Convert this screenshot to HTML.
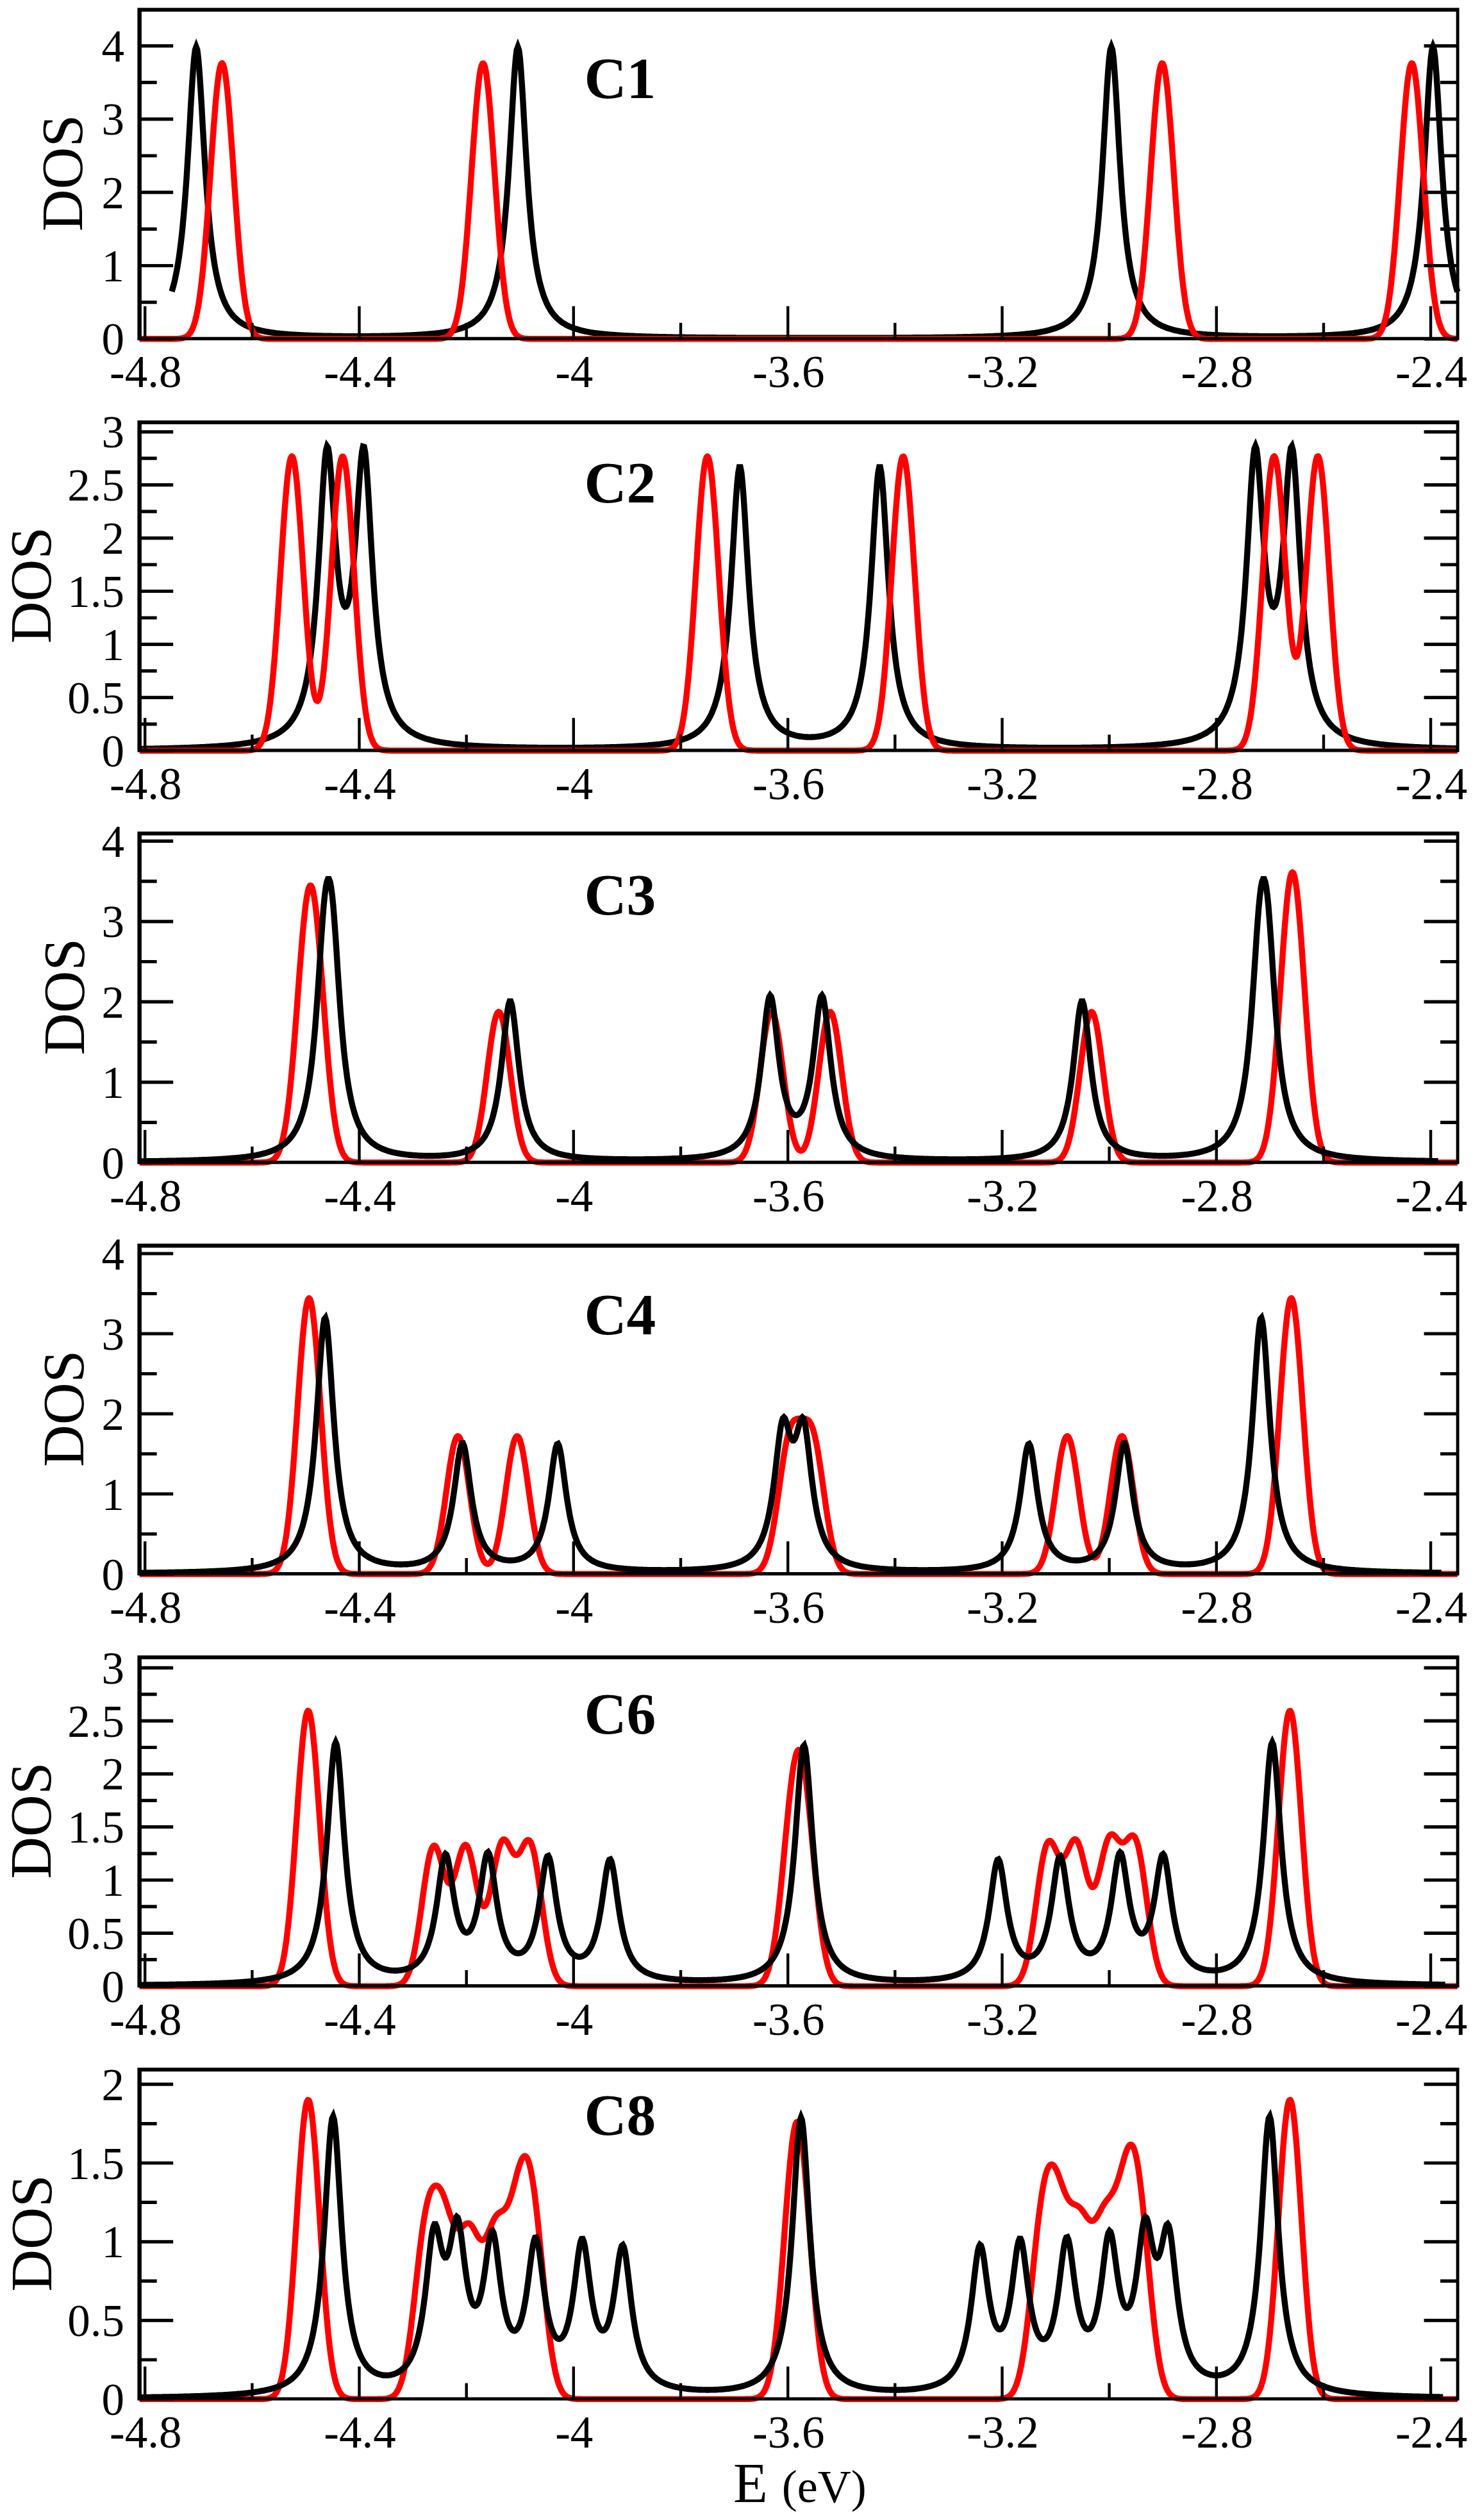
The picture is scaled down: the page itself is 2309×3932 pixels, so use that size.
<!DOCTYPE html><html><head><meta charset="utf-8"><title>DOS</title><style>html,body{margin:0;padding:0;background:#fff}svg{display:block}text{font-family:"Liberation Serif",serif;fill:#000}</style></head><body>
<svg width="2309" height="3932" viewBox="0 0 2309 3932">
<rect width="2309" height="3932" fill="#fff"/>
<g>
<polyline points="268.0,454.9 269.3,450.4 271.0,444.2 272.7,437.3 274.3,429.6 276.0,421.0 277.7,411.3 279.4,400.5 281.0,388.3 282.7,374.6 284.4,359.2 286.0,341.9 287.7,322.5 289.4,300.8 291.1,277.0 292.7,250.9 294.4,223.0 296.1,193.8 297.7,164.4 299.4,136.2 301.1,111.0 302.8,90.9 304.4,77.9 306.1,73.4 307.8,77.9 309.4,90.9 311.1,111.0 312.8,136.2 314.5,164.5 316.1,193.9 317.8,223.1 319.5,251.0 321.2,277.1 322.8,300.9 324.5,322.5 326.2,341.9 327.8,359.2 329.5,374.6 331.2,388.3 332.9,400.5 334.5,411.3 336.2,421.0 337.9,429.6 339.6,437.3 341.2,444.1 342.9,450.3 344.6,455.9 346.2,460.9 347.9,465.4 349.6,469.6 351.3,473.3 352.9,476.7 354.6,479.8 356.3,482.7 358.0,485.3 359.6,487.7 361.3,489.9 363.0,491.9 364.6,493.8 366.3,495.5 368.0,497.1 369.7,498.6 371.3,500.0 373.0,501.3 374.7,502.5 376.4,503.6 378.0,504.7 379.7,505.7 381.4,506.6 383.0,507.5 384.7,508.3 386.4,509.1 388.1,509.8 389.7,510.5 391.4,511.1 393.1,511.8 394.8,512.3 396.4,512.9 398.1,513.4 399.8,513.9 401.4,514.4 403.1,514.8 404.8,515.2 406.5,515.6 408.1,516.0 409.8,516.4 411.5,516.7 413.2,517.1 414.8,517.4 416.5,517.7 418.2,518.0 419.8,518.2 421.5,518.5 423.2,518.7 424.9,519.0 426.5,519.2 428.2,519.4 429.9,519.7 431.6,519.9 433.2,520.1 434.9,520.2 436.6,520.4 438.2,520.6 439.9,520.8 441.6,520.9 443.3,521.1 444.9,521.2 446.6,521.4 448.3,521.5 450.0,521.6 451.6,521.8 453.3,521.9 455.0,522.0 456.6,522.1 458.3,522.2 460.0,522.3 461.7,522.4 463.3,522.5 465.0,522.6 466.7,522.7 468.4,522.8 470.0,522.9 471.7,523.0 473.4,523.0 475.0,523.1 476.7,523.2 478.4,523.3 480.1,523.3 481.7,523.4 483.4,523.5 485.1,523.5 486.8,523.6 488.4,523.6 490.1,523.7 491.8,523.8 493.4,523.8 495.1,523.9 496.8,523.9 498.5,523.9 500.1,524.0 501.8,524.0 503.5,524.1 505.2,524.1 506.8,524.1 508.5,524.2 510.2,524.2 511.8,524.2 513.5,524.3 515.2,524.3 516.9,524.3 518.5,524.4 520.2,524.4 521.9,524.4 523.6,524.4 525.2,524.5 526.9,524.5 528.6,524.5 530.2,524.5 531.9,524.5 533.6,524.5 535.3,524.6 536.9,524.6 538.6,524.6 540.3,524.6 542.0,524.6 543.6,524.6 545.3,524.6 547.0,524.6 548.6,524.6 550.3,524.6 552.0,524.6 553.7,524.6 555.3,524.6 557.0,524.6 558.7,524.6 560.4,524.6 562.0,524.6 563.7,524.6 565.4,524.6 567.0,524.6 568.7,524.6 570.4,524.6 572.1,524.6 573.7,524.6 575.4,524.6 577.1,524.6 578.8,524.5 580.4,524.5 582.1,524.5 583.8,524.5 585.4,524.5 587.1,524.5 588.8,524.4 590.5,524.4 592.1,524.4 593.8,524.4 595.5,524.3 597.2,524.3 598.8,524.3 600.5,524.3 602.2,524.2 603.8,524.2 605.5,524.2 607.2,524.1 608.9,524.1 610.5,524.0 612.2,524.0 613.9,524.0 615.6,523.9 617.2,523.9 618.9,523.8 620.6,523.8 622.2,523.7 623.9,523.7 625.6,523.6 627.3,523.6 628.9,523.5 630.6,523.4 632.3,523.4 634.0,523.3 635.6,523.2 637.3,523.2 639.0,523.1 640.6,523.0 642.3,522.9 644.0,522.9 645.7,522.8 647.3,522.7 649.0,522.6 650.7,522.5 652.4,522.4 654.0,522.3 655.7,522.2 657.4,522.1 659.0,522.0 660.7,521.8 662.4,521.7 664.1,521.6 665.7,521.5 667.4,521.3 669.1,521.2 670.8,521.0 672.4,520.9 674.1,520.7 675.8,520.5 677.4,520.4 679.1,520.2 680.8,520.0 682.5,519.8 684.1,519.6 685.8,519.4 687.5,519.2 689.2,518.9 690.8,518.7 692.5,518.4 694.2,518.2 695.8,517.9 697.5,517.6 699.2,517.3 700.9,517.0 702.5,516.7 704.2,516.3 705.9,515.9 707.6,515.6 709.2,515.2 710.9,514.7 712.6,514.3 714.2,513.8 715.9,513.3 717.6,512.8 719.3,512.3 720.9,511.7 722.6,511.1 724.3,510.4 726.0,509.7 727.6,509.0 729.3,508.2 731.0,507.4 732.6,506.5 734.3,505.6 736.0,504.6 737.7,503.6 739.3,502.4 741.0,501.2 742.7,499.9 744.4,498.5 746.0,497.0 747.7,495.4 749.4,493.7 751.0,491.8 752.7,489.8 754.4,487.6 756.1,485.2 757.7,482.6 759.4,479.7 761.1,476.6 762.8,473.2 764.4,469.5 766.1,465.3 767.8,460.8 769.4,455.8 771.1,450.2 772.8,444.0 774.5,437.2 776.1,429.5 777.8,420.9 779.5,411.2 781.2,400.4 782.8,388.2 784.5,374.5 786.2,359.1 787.8,341.8 789.5,322.4 791.2,300.8 792.9,276.9 794.5,250.9 796.2,223.0 797.9,193.8 799.6,164.3 801.2,136.1 802.9,110.9 804.6,90.8 806.2,77.8 807.9,73.3 809.6,77.8 811.3,90.8 812.9,110.8 814.6,136.0 816.3,164.2 817.9,193.7 819.6,222.8 821.3,250.8 823.0,276.8 824.6,300.7 826.3,322.3 828.0,341.7 829.6,359.0 831.3,374.4 833.0,388.2 834.7,400.3 836.3,411.2 838.0,420.8 839.7,429.5 841.3,437.1 843.0,444.0 844.7,450.2 846.4,455.8 848.0,460.8 849.7,465.4 851.4,469.5 853.0,473.3 854.7,476.7 856.4,479.8 858.1,482.7 859.7,485.3 861.4,487.7 863.1,489.9 864.7,491.9 866.4,493.8 868.1,495.6 869.8,497.2 871.4,498.7 873.1,500.1 874.8,501.4 876.4,502.6 878.1,503.8 879.8,504.8 881.5,505.8 883.1,506.8 884.8,507.6 886.5,508.5 888.1,509.3 889.8,510.0 891.5,510.7 893.2,511.3 894.8,512.0 896.5,512.5 898.2,513.1 899.8,513.6 901.5,514.1 903.2,514.6 904.9,515.1 906.5,515.5 908.2,515.9 909.9,516.3 911.5,516.7 913.2,517.0 914.9,517.4 916.6,517.7 918.2,518.0 919.9,518.3 921.6,518.6 923.2,518.8 924.9,519.1 926.6,519.4 928.3,519.6 929.9,519.8 931.6,520.0 933.3,520.3 934.9,520.5 936.6,520.7 938.3,520.8 939.9,521.0 941.6,521.2 943.3,521.4 945.0,521.5 946.6,521.7 948.3,521.9 950.0,522.0 951.6,522.1 953.3,522.3 955.0,522.4 956.7,522.5 958.3,522.7 960.0,522.8 961.7,522.9 963.3,523.0 965.0,523.1 966.7,523.2 968.4,523.3 970.0,523.4 971.7,523.5 973.4,523.6 975.0,523.7 976.7,523.8 978.4,523.9 980.1,524.0 981.7,524.0 983.4,524.1 985.1,524.2 986.7,524.3 988.4,524.3 990.1,524.4 991.8,524.5 993.4,524.6 995.1,524.6 996.8,524.7 998.4,524.7 1000.1,524.8 1001.8,524.9 1003.5,524.9 1005.1,525.0 1006.8,525.0 1008.5,525.1 1010.1,525.1 1011.8,525.2 1013.5,525.2 1015.2,525.3 1016.8,525.3 1018.5,525.4 1020.2,525.4 1021.8,525.5 1023.5,525.5 1025.2,525.5 1026.9,525.6 1028.5,525.6 1030.2,525.7 1031.9,525.7 1033.5,525.7 1035.2,525.8 1036.9,525.8 1038.6,525.8 1040.2,525.9 1041.9,525.9 1043.6,525.9 1045.2,526.0 1046.9,526.0 1048.6,526.0 1050.3,526.1 1051.9,526.1 1053.6,526.1 1055.3,526.1 1056.9,526.2 1058.6,526.2 1060.3,526.2 1062.0,526.2 1063.6,526.3 1065.3,526.3 1067.0,526.3 1068.6,526.3 1070.3,526.4 1072.0,526.4 1073.7,526.4 1075.3,526.4 1077.0,526.4 1078.7,526.5 1080.3,526.5 1082.0,526.5 1083.7,526.5 1085.4,526.5 1087.0,526.6 1088.7,526.6 1090.4,526.6 1092.0,526.6 1093.7,526.6 1095.4,526.7 1097.1,526.7 1098.7,526.7 1100.4,526.7 1102.1,526.7 1103.7,526.7 1105.4,526.7 1107.1,526.8 1108.8,526.8 1110.4,526.8 1112.1,526.8 1113.8,526.8 1115.4,526.8 1117.1,526.8 1118.8,526.9 1120.4,526.9 1122.1,526.9 1123.8,526.9 1125.5,526.9 1127.1,526.9 1128.8,526.9 1130.5,526.9 1132.1,527.0 1133.8,527.0 1135.5,527.0 1137.2,527.0 1138.8,527.0 1140.5,527.0 1142.2,527.0 1143.8,527.0 1145.5,527.0 1147.2,527.0 1148.9,527.1 1150.5,527.1 1152.2,527.1 1153.9,527.1 1155.5,527.1 1157.2,527.1 1158.9,527.1 1160.6,527.1 1162.2,527.1 1163.9,527.1 1165.6,527.1 1167.2,527.1 1168.9,527.1 1170.6,527.2 1172.3,527.2 1173.9,527.2 1175.6,527.2 1177.3,527.2 1178.9,527.2 1180.6,527.2 1182.3,527.2 1184.0,527.2 1185.6,527.2 1187.3,527.2 1189.0,527.2 1190.6,527.2 1192.3,527.2 1194.0,527.2 1195.7,527.2 1197.3,527.2 1199.0,527.2 1200.7,527.3 1202.3,527.3 1204.0,527.3 1205.7,527.3 1207.4,527.3 1209.0,527.3 1210.7,527.3 1212.4,527.3 1214.0,527.3 1215.7,527.3 1217.4,527.3 1219.1,527.3 1220.7,527.3 1222.4,527.3 1224.1,527.3 1225.7,527.3 1227.4,527.3 1229.1,527.3 1230.8,527.3 1232.4,527.3 1234.1,527.3 1235.8,527.3 1237.4,527.3 1239.1,527.3 1240.8,527.3 1242.5,527.3 1244.1,527.3 1245.8,527.3 1247.5,527.3 1249.1,527.3 1250.8,527.3 1252.5,527.3 1254.2,527.3 1255.8,527.3 1257.5,527.3 1259.2,527.3 1260.8,527.3 1262.5,527.3 1264.2,527.3 1265.9,527.3 1267.5,527.3 1269.2,527.3 1270.9,527.3 1272.5,527.3 1274.2,527.3 1275.9,527.3 1277.6,527.3 1279.2,527.3 1280.9,527.3 1282.6,527.3 1284.2,527.3 1285.9,527.3 1287.6,527.3 1289.3,527.3 1290.9,527.3 1292.6,527.3 1294.3,527.3 1295.9,527.3 1297.6,527.3 1299.3,527.3 1300.9,527.3 1302.6,527.3 1304.3,527.3 1306.0,527.3 1307.6,527.3 1309.3,527.3 1311.0,527.3 1312.6,527.3 1314.3,527.3 1316.0,527.3 1317.7,527.3 1319.3,527.3 1321.0,527.3 1322.7,527.3 1324.3,527.3 1326.0,527.3 1327.7,527.3 1329.4,527.3 1331.0,527.3 1332.7,527.3 1334.4,527.3 1336.0,527.3 1337.7,527.3 1339.4,527.3 1341.1,527.3 1342.7,527.2 1344.4,527.2 1346.1,527.2 1347.7,527.2 1349.4,527.2 1351.1,527.2 1352.8,527.2 1354.4,527.2 1356.1,527.2 1357.8,527.2 1359.4,527.2 1361.1,527.2 1362.8,527.2 1364.5,527.2 1366.1,527.2 1367.8,527.2 1369.5,527.2 1371.1,527.2 1372.8,527.1 1374.5,527.1 1376.2,527.1 1377.8,527.1 1379.5,527.1 1381.2,527.1 1382.8,527.1 1384.5,527.1 1386.2,527.1 1387.9,527.1 1389.5,527.1 1391.2,527.1 1392.9,527.1 1394.5,527.0 1396.2,527.0 1397.9,527.0 1399.6,527.0 1401.2,527.0 1402.9,527.0 1404.6,527.0 1406.2,527.0 1407.9,527.0 1409.6,527.0 1411.3,526.9 1412.9,526.9 1414.6,526.9 1416.3,526.9 1417.9,526.9 1419.6,526.9 1421.3,526.9 1423.0,526.9 1424.6,526.8 1426.3,526.8 1428.0,526.8 1429.6,526.8 1431.3,526.8 1433.0,526.8 1434.7,526.8 1436.3,526.7 1438.0,526.7 1439.7,526.7 1441.3,526.7 1443.0,526.7 1444.7,526.7 1446.4,526.7 1448.0,526.6 1449.7,526.6 1451.4,526.6 1453.0,526.6 1454.7,526.6 1456.4,526.5 1458.1,526.5 1459.7,526.5 1461.4,526.5 1463.1,526.5 1464.7,526.4 1466.4,526.4 1468.1,526.4 1469.8,526.4 1471.4,526.4 1473.1,526.3 1474.8,526.3 1476.4,526.3 1478.1,526.3 1479.8,526.2 1481.5,526.2 1483.1,526.2 1484.8,526.2 1486.5,526.1 1488.1,526.1 1489.8,526.1 1491.5,526.1 1493.1,526.0 1494.8,526.0 1496.5,526.0 1498.2,525.9 1499.8,525.9 1501.5,525.9 1503.2,525.8 1504.8,525.8 1506.5,525.8 1508.2,525.7 1509.9,525.7 1511.5,525.7 1513.2,525.6 1514.9,525.6 1516.5,525.5 1518.2,525.5 1519.9,525.5 1521.6,525.4 1523.2,525.4 1524.9,525.3 1526.6,525.3 1528.2,525.2 1529.9,525.2 1531.6,525.1 1533.3,525.1 1534.9,525.0 1536.6,525.0 1538.3,524.9 1539.9,524.9 1541.6,524.8 1543.3,524.7 1545.0,524.7 1546.6,524.6 1548.3,524.6 1550.0,524.5 1551.6,524.4 1553.3,524.3 1555.0,524.3 1556.7,524.2 1558.3,524.1 1560.0,524.0 1561.7,524.0 1563.3,523.9 1565.0,523.8 1566.7,523.7 1568.4,523.6 1570.0,523.5 1571.7,523.4 1573.4,523.3 1575.0,523.2 1576.7,523.1 1578.4,523.0 1580.1,522.9 1581.7,522.8 1583.4,522.7 1585.1,522.5 1586.7,522.4 1588.4,522.3 1590.1,522.1 1591.8,522.0 1593.4,521.9 1595.1,521.7 1596.8,521.5 1598.4,521.4 1600.1,521.2 1601.8,521.0 1603.5,520.8 1605.1,520.7 1606.8,520.5 1608.5,520.3 1610.1,520.0 1611.8,519.8 1613.5,519.6 1615.2,519.4 1616.8,519.1 1618.5,518.8 1620.2,518.6 1621.8,518.3 1623.5,518.0 1625.2,517.7 1626.9,517.4 1628.5,517.0 1630.2,516.7 1631.9,516.3 1633.5,515.9 1635.2,515.5 1636.9,515.1 1638.6,514.6 1640.2,514.1 1641.9,513.6 1643.6,513.1 1645.2,512.5 1646.9,512.0 1648.6,511.3 1650.3,510.7 1651.9,510.0 1653.6,509.3 1655.3,508.5 1656.9,507.6 1658.6,506.8 1660.3,505.8 1662.0,504.8 1663.6,503.8 1665.3,502.6 1667.0,501.4 1668.6,500.1 1670.3,498.7 1672.0,497.2 1673.6,495.6 1675.3,493.8 1677.0,491.9 1678.7,489.9 1680.3,487.7 1682.0,485.3 1683.7,482.7 1685.3,479.8 1687.0,476.7 1688.7,473.3 1690.4,469.5 1692.0,465.4 1693.7,460.8 1695.4,455.8 1697.0,450.2 1698.7,444.0 1700.4,437.1 1702.1,429.5 1703.7,420.8 1705.4,411.2 1707.1,400.3 1708.7,388.2 1710.4,374.4 1712.1,359.0 1713.8,341.7 1715.4,322.3 1717.1,300.7 1718.8,276.8 1720.4,250.8 1722.1,222.8 1723.8,193.7 1725.5,164.2 1727.1,136.0 1728.8,110.8 1730.5,90.8 1732.1,77.8 1733.8,73.3 1735.5,77.8 1737.2,90.8 1738.8,110.9 1740.5,136.1 1742.2,164.3 1743.9,193.8 1745.5,223.0 1747.2,250.9 1748.9,276.9 1750.5,300.8 1752.2,322.4 1753.9,341.8 1755.6,359.1 1757.2,374.5 1758.9,388.2 1760.6,400.4 1762.3,411.2 1763.9,420.9 1765.6,429.5 1767.3,437.2 1768.9,444.0 1770.6,450.2 1772.3,455.8 1774.0,460.8 1775.6,465.3 1777.3,469.5 1779.0,473.2 1780.7,476.6 1782.3,479.7 1784.0,482.6 1785.7,485.2 1787.3,487.6 1789.0,489.8 1790.7,491.8 1792.4,493.7 1794.0,495.4 1795.7,497.0 1797.4,498.5 1799.1,499.9 1800.7,501.2 1802.4,502.4 1804.1,503.6 1805.7,504.6 1807.4,505.6 1809.1,506.5 1810.8,507.4 1812.4,508.2 1814.1,509.0 1815.8,509.7 1817.5,510.4 1819.1,511.1 1820.8,511.7 1822.5,512.3 1824.1,512.8 1825.8,513.3 1827.5,513.8 1829.2,514.3 1830.8,514.7 1832.5,515.2 1834.2,515.6 1835.9,515.9 1837.5,516.3 1839.2,516.7 1840.9,517.0 1842.5,517.3 1844.2,517.6 1845.9,517.9 1847.6,518.2 1849.2,518.4 1850.9,518.7 1852.6,518.9 1854.3,519.2 1855.9,519.4 1857.6,519.6 1859.3,519.8 1860.9,520.0 1862.6,520.2 1864.3,520.4 1866.0,520.5 1867.6,520.7 1869.3,520.9 1871.0,521.0 1872.7,521.2 1874.3,521.3 1876.0,521.5 1877.7,521.6 1879.3,521.7 1881.0,521.8 1882.7,522.0 1884.4,522.1 1886.0,522.2 1887.7,522.3 1889.4,522.4 1891.1,522.5 1892.7,522.6 1894.4,522.7 1896.1,522.8 1897.7,522.9 1899.4,522.9 1901.1,523.0 1902.8,523.1 1904.4,523.2 1906.1,523.2 1907.8,523.3 1909.5,523.4 1911.1,523.4 1912.8,523.5 1914.5,523.6 1916.1,523.6 1917.8,523.7 1919.5,523.7 1921.2,523.8 1922.8,523.8 1924.5,523.9 1926.2,523.9 1927.9,524.0 1929.5,524.0 1931.2,524.0 1932.9,524.1 1934.5,524.1 1936.2,524.2 1937.9,524.2 1939.6,524.2 1941.2,524.3 1942.9,524.3 1944.6,524.3 1946.3,524.3 1947.9,524.4 1949.6,524.4 1951.3,524.4 1952.9,524.4 1954.6,524.5 1956.3,524.5 1958.0,524.5 1959.6,524.5 1961.3,524.5 1963.0,524.5 1964.7,524.6 1966.3,524.6 1968.0,524.6 1969.7,524.6 1971.3,524.6 1973.0,524.6 1974.7,524.6 1976.4,524.6 1978.0,524.6 1979.7,524.6 1981.4,524.6 1983.1,524.6 1984.7,524.6 1986.4,524.6 1988.1,524.6 1989.7,524.6 1991.4,524.6 1993.1,524.6 1994.8,524.6 1996.4,524.6 1998.1,524.6 1999.8,524.6 2001.5,524.6 2003.1,524.6 2004.8,524.6 2006.5,524.6 2008.1,524.5 2009.8,524.5 2011.5,524.5 2013.2,524.5 2014.8,524.5 2016.5,524.5 2018.2,524.4 2019.9,524.4 2021.5,524.4 2023.2,524.4 2024.9,524.3 2026.5,524.3 2028.2,524.3 2029.9,524.2 2031.6,524.2 2033.2,524.2 2034.9,524.1 2036.6,524.1 2038.3,524.1 2039.9,524.0 2041.6,524.0 2043.3,523.9 2044.9,523.9 2046.6,523.9 2048.3,523.8 2050.0,523.8 2051.6,523.7 2053.3,523.6 2055.0,523.6 2056.6,523.5 2058.3,523.5 2060.0,523.4 2061.7,523.3 2063.3,523.3 2065.0,523.2 2066.7,523.1 2068.4,523.0 2070.0,523.0 2071.7,522.9 2073.4,522.8 2075.0,522.7 2076.7,522.6 2078.4,522.5 2080.1,522.4 2081.7,522.3 2083.4,522.2 2085.1,522.1 2086.8,522.0 2088.4,521.9 2090.1,521.8 2091.8,521.6 2093.4,521.5 2095.1,521.4 2096.8,521.2 2098.5,521.1 2100.1,520.9 2101.8,520.8 2103.5,520.6 2105.2,520.4 2106.8,520.2 2108.5,520.1 2110.2,519.9 2111.8,519.7 2113.5,519.4 2115.2,519.2 2116.9,519.0 2118.5,518.7 2120.2,518.5 2121.9,518.2 2123.6,518.0 2125.2,517.7 2126.9,517.4 2128.6,517.1 2130.2,516.7 2131.9,516.4 2133.6,516.0 2135.3,515.6 2136.9,515.2 2138.6,514.8 2140.3,514.4 2142.0,513.9 2143.6,513.4 2145.3,512.9 2147.0,512.3 2148.6,511.8 2150.3,511.1 2152.0,510.5 2153.7,509.8 2155.3,509.1 2157.0,508.3 2158.7,507.5 2160.4,506.6 2162.0,505.7 2163.7,504.7 2165.4,503.6 2167.0,502.5 2168.7,501.3 2170.4,500.0 2172.1,498.6 2173.7,497.1 2175.4,495.5 2177.1,493.8 2178.8,491.9 2180.4,489.9 2182.1,487.7 2183.8,485.3 2185.4,482.7 2187.1,479.8 2188.8,476.7 2190.5,473.3 2192.1,469.6 2193.8,465.4 2195.5,460.9 2197.2,455.9 2198.8,450.3 2200.5,444.1 2202.2,437.3 2203.8,429.6 2205.5,421.0 2207.2,411.3 2208.9,400.5 2210.5,388.3 2212.2,374.6 2213.9,359.2 2215.6,341.9 2217.2,322.5 2218.9,300.9 2220.6,277.1 2222.2,251.0 2223.9,223.1 2225.6,193.9 2227.3,164.5 2228.9,136.2 2230.6,111.0 2232.3,90.9 2234.0,77.9 2235.6,73.4 2237.3,77.9 2239.0,90.9 2240.6,111.0 2242.3,136.2 2244.0,164.4 2245.7,193.8 2247.3,223.0 2249.0,250.9 2250.7,277.0 2252.3,300.8 2254.0,322.5 2255.7,341.9 2257.4,359.2 2259.0,374.6 2260.7,388.3 2262.4,400.5 2264.0,411.3 2265.7,421.0 2267.4,429.6 2269.1,437.3 2270.7,444.2 2272.4,450.4 2273.9,455.4" fill="none" stroke="#000" stroke-width="9.4" stroke-linejoin="miter" stroke-miterlimit="10"/>
<polyline points="217.8,528.8 219.5,528.8 221.2,528.8 222.9,528.8 224.5,528.8 226.2,528.8 227.9,528.8 229.5,528.8 231.2,528.8 232.9,528.8 234.6,528.8 236.2,528.8 237.9,528.8 239.6,528.8 241.2,528.8 242.9,528.8 244.6,528.8 246.3,528.8 247.9,528.8 249.6,528.8 251.3,528.8 252.9,528.8 254.6,528.8 256.3,528.8 258.0,528.8 259.6,528.8 261.3,528.8 263.0,528.8 264.6,528.8 266.3,528.8 268.0,528.8 269.7,528.8 271.3,528.7 273.0,528.7 274.7,528.7 276.3,528.6 278.0,528.5 279.7,528.4 281.4,528.2 283.0,527.9 284.7,527.6 286.4,527.2 288.0,526.6 289.7,525.8 291.4,524.8 293.1,523.5 294.7,521.9 296.4,519.8 298.1,517.2 299.8,514.0 301.4,510.0 303.1,505.2 304.8,499.4 306.4,492.5 308.1,484.3 309.8,474.8 311.5,463.8 313.1,451.2 314.8,437.1 316.5,421.2 318.1,403.7 319.8,384.7 321.5,364.1 323.2,342.3 324.8,319.3 326.5,295.6 328.2,271.4 329.8,247.2 331.5,223.3 333.2,200.3 334.9,178.6 336.5,158.6 338.2,140.9 339.9,125.9 341.5,113.8 343.2,105.1 344.9,100.0 346.6,98.5 348.2,100.7 349.9,106.6 351.6,116.0 353.2,128.6 354.9,144.3 356.6,162.5 358.3,182.8 359.9,204.8 361.6,228.0 363.3,252.0 364.9,276.3 366.6,300.4 368.3,324.0 370.0,346.7 371.6,368.3 373.3,388.6 375.0,407.4 376.6,424.5 378.3,440.0 380.0,453.9 381.7,466.1 383.3,476.8 385.0,486.0 386.7,493.9 388.3,500.6 390.0,506.2 391.7,510.9 393.4,514.7 395.0,517.8 396.7,520.3 398.4,522.2 400.0,523.8 401.7,525.0 403.4,526.0 405.1,526.7 406.7,527.3 408.4,527.7 410.1,528.0 411.7,528.2 413.4,528.4 415.1,528.5 416.8,528.6 418.4,528.7 420.1,528.7 421.8,528.7 423.4,528.8 425.1,528.8 426.8,528.8 428.5,528.8 430.1,528.8 431.8,528.8 433.5,528.8 435.1,528.8 436.8,528.8 438.5,528.8 440.2,528.8 441.8,528.8 443.5,528.8 445.2,528.8 446.9,528.8 448.5,528.8 450.2,528.8 451.9,528.8 453.5,528.8 455.2,528.8 456.9,528.8 458.6,528.8 460.2,528.8 461.9,528.8 463.6,528.8 465.2,528.8 466.9,528.8 468.6,528.8 470.3,528.8 471.9,528.8 473.6,528.8 475.3,528.8 476.9,528.8 478.6,528.8 480.3,528.8 482.0,528.8 483.6,528.8 485.3,528.8 487.0,528.8 488.6,528.8 490.3,528.8 492.0,528.8 493.7,528.8 495.3,528.8 497.0,528.8 498.7,528.8 500.3,528.8 502.0,528.8 503.7,528.8 505.4,528.8 507.0,528.8 508.7,528.8 510.4,528.8 512.0,528.8 513.7,528.8 515.4,528.8 517.1,528.8 518.7,528.8 520.4,528.8 522.1,528.8 523.7,528.8 525.4,528.8 527.1,528.8 528.8,528.8 530.4,528.8 532.1,528.8 533.8,528.8 535.4,528.8 537.1,528.8 538.8,528.8 540.5,528.8 542.1,528.8 543.8,528.8 545.5,528.8 547.1,528.8 548.8,528.8 550.5,528.8 552.2,528.8 553.8,528.8 555.5,528.8 557.2,528.8 558.8,528.8 560.5,528.8 562.2,528.8 563.9,528.8 565.5,528.8 567.2,528.8 568.9,528.8 570.5,528.8 572.2,528.8 573.9,528.8 575.6,528.8 577.2,528.8 578.9,528.8 580.6,528.8 582.3,528.8 583.9,528.8 585.6,528.8 587.3,528.8 588.9,528.8 590.6,528.8 592.3,528.8 594.0,528.8 595.6,528.8 597.3,528.8 599.0,528.8 600.6,528.8 602.3,528.8 604.0,528.8 605.7,528.8 607.3,528.8 609.0,528.8 610.7,528.8 612.3,528.8 614.0,528.8 615.7,528.8 617.4,528.8 619.0,528.8 620.7,528.8 622.4,528.8 624.0,528.8 625.7,528.8 627.4,528.8 629.1,528.8 630.7,528.8 632.4,528.8 634.1,528.8 635.7,528.8 637.4,528.8 639.1,528.8 640.8,528.8 642.4,528.8 644.1,528.8 645.8,528.8 647.4,528.8 649.1,528.8 650.8,528.8 652.5,528.8 654.1,528.8 655.8,528.8 657.5,528.8 659.1,528.8 660.8,528.8 662.5,528.8 664.2,528.8 665.8,528.8 667.5,528.8 669.2,528.8 670.8,528.8 672.5,528.8 674.2,528.8 675.9,528.8 677.5,528.7 679.2,528.7 680.9,528.7 682.5,528.6 684.2,528.6 685.9,528.4 687.6,528.3 689.2,528.1 690.9,527.8 692.6,527.4 694.2,527.0 695.9,526.3 697.6,525.4 699.3,524.3 700.9,522.9 702.6,521.1 704.3,518.8 705.9,516.0 707.6,512.5 709.3,508.2 711.0,503.0 712.6,496.7 714.3,489.3 716.0,480.7 717.7,470.6 719.3,459.0 721.0,445.8 722.7,430.9 724.3,414.4 726.0,396.3 727.7,376.6 729.4,355.5 731.0,333.2 732.7,309.9 734.4,286.0 736.0,261.7 737.7,237.6 739.4,214.0 741.1,191.4 742.7,170.4 744.4,151.3 746.1,134.6 747.7,120.7 749.4,109.9 751.1,102.6 752.8,98.9 754.4,98.9 756.1,102.6 757.8,109.9 759.4,120.7 761.1,134.6 762.8,151.3 764.5,170.4 766.1,191.4 767.8,214.0 769.5,237.6 771.1,261.7 772.8,286.0 774.5,309.9 776.2,333.2 777.8,355.5 779.5,376.6 781.2,396.3 782.8,414.4 784.5,430.9 786.2,445.8 787.9,459.0 789.5,470.6 791.2,480.7 792.9,489.3 794.5,496.7 796.2,503.0 797.9,508.2 799.6,512.5 801.2,516.0 802.9,518.8 804.6,521.1 806.2,522.9 807.9,524.3 809.6,525.4 811.3,526.3 812.9,527.0 814.6,527.4 816.3,527.8 817.9,528.1 819.6,528.3 821.3,528.4 823.0,528.6 824.6,528.6 826.3,528.7 828.0,528.7 829.6,528.7 831.3,528.8 833.0,528.8 834.7,528.8 836.3,528.8 838.0,528.8 839.7,528.8 841.3,528.8 843.0,528.8 844.7,528.8 846.4,528.8 848.0,528.8 849.7,528.8 851.4,528.8 853.0,528.8 854.7,528.8 856.4,528.8 858.1,528.8 859.7,528.8 861.4,528.8 863.1,528.8 864.8,528.8 866.4,528.8 868.1,528.8 869.8,528.8 871.4,528.8 873.1,528.8 874.8,528.8 876.5,528.8 878.1,528.8 879.8,528.8 881.5,528.8 883.1,528.8 884.8,528.8 886.5,528.8 888.2,528.8 889.8,528.8 891.5,528.8 893.2,528.8 894.8,528.8 896.5,528.8 898.2,528.8 899.9,528.8 901.5,528.8 903.2,528.8 904.9,528.8 906.5,528.8 908.2,528.8 909.9,528.8 911.6,528.8 913.2,528.8 914.9,528.8 916.6,528.8 918.2,528.8 919.9,528.8 921.6,528.8 923.3,528.8 924.9,528.8 926.6,528.8 928.3,528.8 929.9,528.8 931.6,528.8 933.3,528.8 935.0,528.8 936.6,528.8 938.3,528.8 940.0,528.8 941.6,528.8 943.3,528.8 945.0,528.8 946.7,528.8 948.3,528.8 950.0,528.8 951.7,528.8 953.3,528.8 955.0,528.8 956.7,528.8 958.4,528.8 960.0,528.8 961.7,528.8 963.4,528.8 965.0,528.8 966.7,528.8 968.4,528.8 970.1,528.8 971.7,528.8 973.4,528.8 975.1,528.8 976.7,528.8 978.4,528.8 980.1,528.8 981.8,528.8 983.4,528.8 985.1,528.8 986.8,528.8 988.4,528.8 990.1,528.8 991.8,528.8 993.5,528.8 995.1,528.8 996.8,528.8 998.5,528.8 1000.2,528.8 1001.8,528.8 1003.5,528.8 1005.2,528.8 1006.8,528.8 1008.5,528.8 1010.2,528.8 1011.9,528.8 1013.5,528.8 1015.2,528.8 1016.9,528.8 1018.5,528.8 1020.2,528.8 1021.9,528.8 1023.6,528.8 1025.2,528.8 1026.9,528.8 1028.6,528.8 1030.2,528.8 1031.9,528.8 1033.6,528.8 1035.3,528.8 1036.9,528.8 1038.6,528.8 1040.3,528.8 1041.9,528.8 1043.6,528.8 1045.3,528.8 1047.0,528.8 1048.6,528.8 1050.3,528.8 1052.0,528.8 1053.6,528.8 1055.3,528.8 1057.0,528.8 1058.7,528.8 1060.3,528.8 1062.0,528.8 1063.7,528.8 1065.3,528.8 1067.0,528.8 1068.7,528.8 1070.4,528.8 1072.0,528.8 1073.7,528.8 1075.4,528.8 1077.0,528.8 1078.7,528.8 1080.4,528.8 1082.1,528.8 1083.7,528.8 1085.4,528.8 1087.1,528.8 1088.7,528.8 1090.4,528.8 1092.1,528.8 1093.8,528.8 1095.4,528.8 1097.1,528.8 1098.8,528.8 1100.4,528.8 1102.1,528.8 1103.8,528.8 1105.5,528.8 1107.1,528.8 1108.8,528.8 1110.5,528.8 1112.1,528.8 1113.8,528.8 1115.5,528.8 1117.2,528.8 1118.8,528.8 1120.5,528.8 1122.2,528.8 1123.8,528.8 1125.5,528.8 1127.2,528.8 1128.9,528.8 1130.5,528.8 1132.2,528.8 1133.9,528.8 1135.6,528.8 1137.2,528.8 1138.9,528.8 1140.6,528.8 1142.2,528.8 1143.9,528.8 1145.6,528.8 1147.3,528.8 1148.9,528.8 1150.6,528.8 1152.3,528.8 1153.9,528.8 1155.6,528.8 1157.3,528.8 1159.0,528.8 1160.6,528.8 1162.3,528.8 1164.0,528.8 1165.6,528.8 1167.3,528.8 1169.0,528.8 1170.7,528.8 1172.3,528.8 1174.0,528.8 1175.7,528.8 1177.3,528.8 1179.0,528.8 1180.7,528.8 1182.4,528.8 1184.0,528.8 1185.7,528.8 1187.4,528.8 1189.0,528.8 1190.7,528.8 1192.4,528.8 1194.1,528.8 1195.7,528.8 1197.4,528.8 1199.1,528.8 1200.7,528.8 1202.4,528.8 1204.1,528.8 1205.8,528.8 1207.4,528.8 1209.1,528.8 1210.8,528.8 1212.4,528.8 1214.1,528.8 1215.8,528.8 1217.5,528.8 1219.1,528.8 1220.8,528.8 1222.5,528.8 1224.1,528.8 1225.8,528.8 1227.5,528.8 1229.2,528.8 1230.8,528.8 1232.5,528.8 1234.2,528.8 1235.8,528.8 1237.5,528.8 1239.2,528.8 1240.9,528.8 1242.5,528.8 1244.2,528.8 1245.9,528.8 1247.5,528.8 1249.2,528.8 1250.9,528.8 1252.6,528.8 1254.2,528.8 1255.9,528.8 1257.6,528.8 1259.2,528.8 1260.9,528.8 1262.6,528.8 1264.3,528.8 1265.9,528.8 1267.6,528.8 1269.3,528.8 1270.9,528.8 1272.6,528.8 1274.3,528.8 1276.0,528.8 1277.6,528.8 1279.3,528.8 1281.0,528.8 1282.7,528.8 1284.3,528.8 1286.0,528.8 1287.7,528.8 1289.3,528.8 1291.0,528.8 1292.7,528.8 1294.4,528.8 1296.0,528.8 1297.7,528.8 1299.4,528.8 1301.0,528.8 1302.7,528.8 1304.4,528.8 1306.1,528.8 1307.7,528.8 1309.4,528.8 1311.1,528.8 1312.7,528.8 1314.4,528.8 1316.1,528.8 1317.8,528.8 1319.4,528.8 1321.1,528.8 1322.8,528.8 1324.4,528.8 1326.1,528.8 1327.8,528.8 1329.5,528.8 1331.1,528.8 1332.8,528.8 1334.5,528.8 1336.1,528.8 1337.8,528.8 1339.5,528.8 1341.2,528.8 1342.8,528.8 1344.5,528.8 1346.2,528.8 1347.8,528.8 1349.5,528.8 1351.2,528.8 1352.9,528.8 1354.5,528.8 1356.2,528.8 1357.9,528.8 1359.5,528.8 1361.2,528.8 1362.9,528.8 1364.6,528.8 1366.2,528.8 1367.9,528.8 1369.6,528.8 1371.2,528.8 1372.9,528.8 1374.6,528.8 1376.3,528.8 1377.9,528.8 1379.6,528.8 1381.3,528.8 1382.9,528.8 1384.6,528.8 1386.3,528.8 1388.0,528.8 1389.6,528.8 1391.3,528.8 1393.0,528.8 1394.6,528.8 1396.3,528.8 1398.0,528.8 1399.7,528.8 1401.3,528.8 1403.0,528.8 1404.7,528.8 1406.3,528.8 1408.0,528.8 1409.7,528.8 1411.4,528.8 1413.0,528.8 1414.7,528.8 1416.4,528.8 1418.1,528.8 1419.7,528.8 1421.4,528.8 1423.1,528.8 1424.7,528.8 1426.4,528.8 1428.1,528.8 1429.8,528.8 1431.4,528.8 1433.1,528.8 1434.8,528.8 1436.4,528.8 1438.1,528.8 1439.8,528.8 1441.5,528.8 1443.1,528.8 1444.8,528.8 1446.5,528.8 1448.1,528.8 1449.8,528.8 1451.5,528.8 1453.2,528.8 1454.8,528.8 1456.5,528.8 1458.2,528.8 1459.8,528.8 1461.5,528.8 1463.2,528.8 1464.9,528.8 1466.5,528.8 1468.2,528.8 1469.9,528.8 1471.5,528.8 1473.2,528.8 1474.9,528.8 1476.6,528.8 1478.2,528.8 1479.9,528.8 1481.6,528.8 1483.2,528.8 1484.9,528.8 1486.6,528.8 1488.3,528.8 1489.9,528.8 1491.6,528.8 1493.3,528.8 1494.9,528.8 1496.6,528.8 1498.3,528.8 1500.0,528.8 1501.6,528.8 1503.3,528.8 1505.0,528.8 1506.6,528.8 1508.3,528.8 1510.0,528.8 1511.7,528.8 1513.3,528.8 1515.0,528.8 1516.7,528.8 1518.3,528.8 1520.0,528.8 1521.7,528.8 1523.4,528.8 1525.0,528.8 1526.7,528.8 1528.4,528.8 1530.0,528.8 1531.7,528.8 1533.4,528.8 1535.1,528.8 1536.7,528.8 1538.4,528.8 1540.1,528.8 1541.7,528.8 1543.4,528.8 1545.1,528.8 1546.8,528.8 1548.4,528.8 1550.1,528.8 1551.8,528.8 1553.5,528.8 1555.1,528.8 1556.8,528.8 1558.5,528.8 1560.1,528.8 1561.8,528.8 1563.5,528.8 1565.2,528.8 1566.8,528.8 1568.5,528.8 1570.2,528.8 1571.8,528.8 1573.5,528.8 1575.2,528.8 1576.9,528.8 1578.5,528.8 1580.2,528.8 1581.9,528.8 1583.5,528.8 1585.2,528.8 1586.9,528.8 1588.6,528.8 1590.2,528.8 1591.9,528.8 1593.6,528.8 1595.2,528.8 1596.9,528.8 1598.6,528.8 1600.3,528.8 1601.9,528.8 1603.6,528.8 1605.3,528.8 1606.9,528.8 1608.6,528.8 1610.3,528.8 1612.0,528.8 1613.6,528.8 1615.3,528.8 1617.0,528.8 1618.6,528.8 1620.3,528.8 1622.0,528.8 1623.7,528.8 1625.3,528.8 1627.0,528.8 1628.7,528.8 1630.3,528.8 1632.0,528.8 1633.7,528.8 1635.4,528.8 1637.0,528.8 1638.7,528.8 1640.4,528.8 1642.0,528.8 1643.7,528.8 1645.4,528.8 1647.1,528.8 1648.7,528.8 1650.4,528.8 1652.1,528.8 1653.7,528.8 1655.4,528.8 1657.1,528.8 1658.8,528.8 1660.4,528.8 1662.1,528.8 1663.8,528.8 1665.4,528.8 1667.1,528.8 1668.8,528.8 1670.5,528.8 1672.1,528.8 1673.8,528.8 1675.5,528.8 1677.1,528.8 1678.8,528.8 1680.5,528.8 1682.2,528.8 1683.8,528.8 1685.5,528.8 1687.2,528.8 1688.8,528.8 1690.5,528.8 1692.2,528.8 1693.9,528.8 1695.5,528.8 1697.2,528.8 1698.9,528.8 1700.6,528.8 1702.2,528.8 1703.9,528.8 1705.6,528.8 1707.2,528.8 1708.9,528.8 1710.6,528.8 1712.3,528.8 1713.9,528.8 1715.6,528.8 1717.3,528.8 1718.9,528.8 1720.6,528.8 1722.3,528.8 1724.0,528.8 1725.6,528.8 1727.3,528.8 1729.0,528.8 1730.6,528.8 1732.3,528.8 1734.0,528.8 1735.7,528.8 1737.3,528.7 1739.0,528.7 1740.7,528.7 1742.3,528.6 1744.0,528.5 1745.7,528.4 1747.4,528.3 1749.0,528.1 1750.7,527.8 1752.4,527.4 1754.0,526.9 1755.7,526.2 1757.4,525.4 1759.1,524.2 1760.7,522.8 1762.4,520.9 1764.1,518.6 1765.7,515.7 1767.4,512.1 1769.1,507.7 1770.8,502.4 1772.4,496.1 1774.1,488.5 1775.8,479.7 1777.4,469.5 1779.1,457.7 1780.8,444.3 1782.5,429.3 1784.1,412.7 1785.8,394.4 1787.5,374.6 1789.1,353.3 1790.8,330.9 1792.5,307.5 1794.2,283.5 1795.8,259.3 1797.5,235.2 1799.2,211.7 1800.8,189.2 1802.5,168.3 1804.2,149.5 1805.9,133.0 1807.5,119.5 1809.2,109.1 1810.9,102.1 1812.5,98.8 1814.2,99.1 1815.9,103.2 1817.6,110.9 1819.2,121.9 1820.9,136.1 1822.6,153.1 1824.2,172.4 1825.9,193.6 1827.6,216.3 1829.3,240.0 1830.9,264.1 1832.6,288.4 1834.3,312.3 1836.0,335.5 1837.6,357.7 1839.3,378.6 1841.0,398.2 1842.6,416.1 1844.3,432.5 1846.0,447.1 1847.7,460.2 1849.3,471.6 1851.0,481.6 1852.7,490.1 1854.3,497.4 1856.0,503.5 1857.7,508.7 1859.4,512.9 1861.0,516.3 1862.7,519.1 1864.4,521.3 1866.0,523.1 1867.7,524.5 1869.4,525.5 1871.1,526.4 1872.7,527.0 1874.4,527.5 1876.1,527.9 1877.7,528.1 1879.4,528.3 1881.1,528.5 1882.8,528.6 1884.4,528.6 1886.1,528.7 1887.8,528.7 1889.4,528.7 1891.1,528.8 1892.8,528.8 1894.5,528.8 1896.1,528.8 1897.8,528.8 1899.5,528.8 1901.1,528.8 1902.8,528.8 1904.5,528.8 1906.2,528.8 1907.8,528.8 1909.5,528.8 1911.2,528.8 1912.8,528.8 1914.5,528.8 1916.2,528.8 1917.9,528.8 1919.5,528.8 1921.2,528.8 1922.9,528.8 1924.5,528.8 1926.2,528.8 1927.9,528.8 1929.6,528.8 1931.2,528.8 1932.9,528.8 1934.6,528.8 1936.2,528.8 1937.9,528.8 1939.6,528.8 1941.3,528.8 1942.9,528.8 1944.6,528.8 1946.3,528.8 1947.9,528.8 1949.6,528.8 1951.3,528.8 1953.0,528.8 1954.6,528.8 1956.3,528.8 1958.0,528.8 1959.6,528.8 1961.3,528.8 1963.0,528.8 1964.7,528.8 1966.3,528.8 1968.0,528.8 1969.7,528.8 1971.4,528.8 1973.0,528.8 1974.7,528.8 1976.4,528.8 1978.0,528.8 1979.7,528.8 1981.4,528.8 1983.1,528.8 1984.7,528.8 1986.4,528.8 1988.1,528.8 1989.7,528.8 1991.4,528.8 1993.1,528.8 1994.8,528.8 1996.4,528.8 1998.1,528.8 1999.8,528.8 2001.4,528.8 2003.1,528.8 2004.8,528.8 2006.5,528.8 2008.1,528.8 2009.8,528.8 2011.5,528.8 2013.1,528.8 2014.8,528.8 2016.5,528.8 2018.2,528.8 2019.8,528.8 2021.5,528.8 2023.2,528.8 2024.8,528.8 2026.5,528.8 2028.2,528.8 2029.9,528.8 2031.5,528.8 2033.2,528.8 2034.9,528.8 2036.5,528.8 2038.2,528.8 2039.9,528.8 2041.6,528.8 2043.2,528.8 2044.9,528.8 2046.6,528.8 2048.2,528.8 2049.9,528.8 2051.6,528.8 2053.3,528.8 2054.9,528.8 2056.6,528.8 2058.3,528.8 2059.9,528.8 2061.6,528.8 2063.3,528.8 2065.0,528.8 2066.6,528.8 2068.3,528.8 2070.0,528.8 2071.6,528.8 2073.3,528.8 2075.0,528.8 2076.7,528.8 2078.3,528.8 2080.0,528.8 2081.7,528.8 2083.3,528.8 2085.0,528.8 2086.7,528.8 2088.4,528.8 2090.0,528.8 2091.7,528.8 2093.4,528.8 2095.0,528.8 2096.7,528.8 2098.4,528.8 2100.1,528.8 2101.7,528.8 2103.4,528.8 2105.1,528.8 2106.7,528.8 2108.4,528.8 2110.1,528.8 2111.8,528.8 2113.4,528.8 2115.1,528.8 2116.8,528.8 2118.5,528.8 2120.1,528.8 2121.8,528.8 2123.5,528.8 2125.1,528.8 2126.8,528.7 2128.5,528.7 2130.2,528.7 2131.8,528.6 2133.5,528.5 2135.2,528.4 2136.8,528.3 2138.5,528.1 2140.2,527.8 2141.9,527.4 2143.5,526.9 2145.2,526.2 2146.9,525.3 2148.5,524.2 2150.2,522.7 2151.9,520.8 2153.6,518.4 2155.2,515.5 2156.9,511.9 2158.6,507.5 2160.2,502.1 2161.9,495.7 2163.6,488.1 2165.3,479.2 2166.9,468.9 2168.6,457.1 2170.3,443.6 2171.9,428.5 2173.6,411.8 2175.3,393.4 2177.0,373.5 2178.6,352.2 2180.3,329.8 2182.0,306.4 2183.6,282.3 2185.3,258.1 2187.0,234.0 2188.7,210.5 2190.3,188.2 2192.0,167.4 2193.7,148.6 2195.3,132.3 2197.0,118.9 2198.7,108.6 2200.4,101.8 2202.0,98.7 2203.7,99.2 2205.4,103.5 2207.0,111.3 2208.7,122.6 2210.4,136.9 2212.1,154.0 2213.7,173.4 2215.4,194.7 2217.1,217.5 2218.7,241.2 2220.4,265.4 2222.1,289.6 2223.8,313.5 2225.4,336.6 2227.1,358.8 2228.8,379.7 2230.4,399.1 2232.1,417.0 2233.8,433.2 2235.5,447.8 2237.1,460.8 2238.8,472.2 2240.5,482.0 2242.1,490.5 2243.8,497.8 2245.5,503.8 2247.2,508.9 2248.8,513.1 2250.5,516.5 2252.2,519.2 2253.9,521.4 2255.5,523.2 2257.2,524.5 2258.9,525.6 2260.5,526.4 2262.2,527.0 2263.9,527.5 2265.6,527.9 2267.2,528.1 2268.9,528.3 2270.6,528.5 2272.2,528.6 2273.9,528.6" fill="none" stroke="#f00" stroke-width="9.4" stroke-linejoin="round" stroke-miterlimit="10"/>
</g>
<path d="M214.4 12.2H2276.6V531.0H214.4ZM220.9 18.3V525.8H2271.7V18.3Z" fill="#000" fill-rule="evenodd"/>
<path d="M217.7 528.8h52.5M2274.1 528.8h-52.5M217.7 414.5h52.5M2274.1 414.5h-52.5M217.7 300.2h52.5M2274.1 300.2h-52.5M217.7 185.9h52.5M2274.1 185.9h-52.5M217.7 71.6h52.5M2274.1 71.6h-52.5M217.7 471.6h27M2274.1 471.6h-27M217.7 357.3h27M2274.1 357.3h-27M217.7 243.0h27M2274.1 243.0h-27M217.7 128.7h27M2274.1 128.7h-27" stroke="#000" stroke-width="5.2" fill="none"/>
<path d="M226.2 528.8v-51M560.5 528.8v-51M894.8 528.8v-51M1229.2 528.8v-51M1563.5 528.8v-51M1897.8 528.8v-51M2232.1 528.8v-51M393.4 528.8v-25M727.7 528.8v-25M1062.0 528.8v-25M1396.3 528.8v-25M1730.6 528.8v-25M2065.0 528.8v-25" stroke="#000" stroke-width="4.4" fill="none"/>
<text x="194" y="553.3" font-size="71" text-anchor="end">0</text>
<text x="194" y="439.0" font-size="71" text-anchor="end">1</text>
<text x="194" y="324.7" font-size="71" text-anchor="end">2</text>
<text x="194" y="210.4" font-size="71" text-anchor="end">3</text>
<text x="194" y="96.1" font-size="71" text-anchor="end">4</text>
<text x="227.2" y="604.3" font-size="71" text-anchor="middle">-4.8</text>
<text x="561.5" y="604.3" font-size="71" text-anchor="middle">-4.4</text>
<text x="895.8" y="604.3" font-size="71" text-anchor="middle">-4</text>
<text x="1230.2" y="604.3" font-size="71" text-anchor="middle">-3.6</text>
<text x="1564.5" y="604.3" font-size="71" text-anchor="middle">-3.2</text>
<text x="1898.8" y="604.3" font-size="71" text-anchor="middle">-2.8</text>
<text x="2233.1" y="604.3" font-size="71" text-anchor="middle">-2.4</text>
<text transform="translate(128.0 270.0) rotate(-90)" font-size="91" text-anchor="middle">DOS</text>
<text x="911.5" y="153.2" font-size="91.5" font-weight="bold">C1</text>
<g>
<polyline points="217.8,1168.5 219.4,1168.4 221.1,1168.4 222.8,1168.4 224.4,1168.3 226.1,1168.3 227.8,1168.3 229.5,1168.3 231.1,1168.2 232.8,1168.2 234.5,1168.2 236.1,1168.1 237.8,1168.1 239.5,1168.1 241.2,1168.0 242.8,1168.0 244.5,1168.0 246.2,1167.9 247.8,1167.9 249.5,1167.9 251.2,1167.8 252.9,1167.8 254.5,1167.7 256.2,1167.7 257.9,1167.7 259.5,1167.6 261.2,1167.6 262.9,1167.5 264.6,1167.5 266.2,1167.5 267.9,1167.4 269.6,1167.4 271.2,1167.3 272.9,1167.3 274.6,1167.2 276.3,1167.2 277.9,1167.1 279.6,1167.1 281.3,1167.0 283.0,1167.0 284.6,1166.9 286.3,1166.9 288.0,1166.8 289.6,1166.8 291.3,1166.7 293.0,1166.6 294.7,1166.6 296.3,1166.5 298.0,1166.4 299.7,1166.4 301.3,1166.3 303.0,1166.2 304.7,1166.2 306.4,1166.1 308.0,1166.0 309.7,1166.0 311.4,1165.9 313.0,1165.8 314.7,1165.7 316.4,1165.6 318.1,1165.6 319.7,1165.5 321.4,1165.4 323.1,1165.3 324.7,1165.2 326.4,1165.1 328.1,1165.0 329.8,1164.9 331.4,1164.8 333.1,1164.7 334.8,1164.6 336.4,1164.5 338.1,1164.4 339.8,1164.3 341.5,1164.1 343.1,1164.0 344.8,1163.9 346.5,1163.8 348.1,1163.6 349.8,1163.5 351.5,1163.4 353.2,1163.2 354.8,1163.1 356.5,1162.9 358.2,1162.8 359.8,1162.6 361.5,1162.4 363.2,1162.3 364.9,1162.1 366.5,1161.9 368.2,1161.7 369.9,1161.5 371.5,1161.3 373.2,1161.1 374.9,1160.9 376.6,1160.7 378.2,1160.4 379.9,1160.2 381.6,1160.0 383.2,1159.7 384.9,1159.4 386.6,1159.2 388.3,1158.9 389.9,1158.6 391.6,1158.3 393.3,1158.0 394.9,1157.6 396.6,1157.3 398.3,1156.9 400.0,1156.6 401.6,1156.2 403.3,1155.8 405.0,1155.3 406.6,1154.9 408.3,1154.4 410.0,1154.0 411.7,1153.5 413.3,1152.9 415.0,1152.4 416.7,1151.8 418.4,1151.2 420.0,1150.6 421.7,1149.9 423.4,1149.2 425.0,1148.5 426.7,1147.7 428.4,1146.9 430.1,1146.0 431.7,1145.1 433.4,1144.2 435.1,1143.1 436.7,1142.1 438.4,1140.9 440.1,1139.7 441.8,1138.4 443.4,1137.0 445.1,1135.5 446.8,1134.0 448.4,1132.3 450.1,1130.5 451.8,1128.5 453.5,1126.4 455.1,1124.2 456.8,1121.8 458.5,1119.1 460.1,1116.3 461.8,1113.2 463.5,1109.9 465.2,1106.2 466.8,1102.2 468.5,1097.8 470.2,1093.0 471.8,1087.7 473.5,1081.9 475.2,1075.4 476.9,1068.3 478.5,1060.3 480.2,1051.4 481.9,1041.5 483.5,1030.4 485.2,1017.9 486.9,1004.0 488.6,988.3 490.2,970.8 491.9,951.2 493.6,929.4 495.2,905.3 496.9,879.1 498.6,851.1 500.3,821.7 501.9,792.0 503.6,763.4 505.3,737.6 506.9,716.6 508.6,702.4 510.3,696.3 511.9,698.6 513.6,708.8 515.2,725.6 516.9,747.0 518.5,771.2 520.2,796.4 521.8,821.2 523.5,844.5 525.2,865.8 526.8,884.7 528.5,901.0 530.1,914.7 531.8,925.8 533.4,934.5 535.1,940.9 536.7,945.0 538.4,946.8 540.0,946.4 541.7,943.8 543.3,939.0 545.0,931.9 546.6,922.3 548.3,910.3 549.9,895.8 551.6,878.6 553.2,858.9 554.9,836.9 556.5,813.0 558.2,787.9 559.8,762.9 561.5,739.4 563.1,719.3 564.8,704.5 566.4,696.8 568.1,697.3 569.8,706.2 571.4,722.8 573.1,745.6 574.8,772.5 576.5,801.7 578.1,831.4 579.8,860.5 581.5,888.0 583.1,913.5 584.8,936.8 586.5,957.8 588.2,976.7 589.8,993.6 591.5,1008.7 593.2,1022.1 594.9,1034.1 596.5,1044.8 598.2,1054.3 599.9,1062.9 601.5,1070.6 603.2,1077.5 604.9,1083.7 606.6,1089.4 608.2,1094.5 609.9,1099.1 611.6,1103.4 613.2,1107.3 614.9,1110.8 616.6,1114.1 618.3,1117.0 619.9,1119.8 621.6,1122.4 623.3,1124.7 625.0,1126.9 626.6,1128.9 628.3,1130.8 630.0,1132.6 631.6,1134.2 633.3,1135.7 635.0,1137.2 636.7,1138.5 638.3,1139.8 640.0,1141.0 641.7,1142.1 643.4,1143.1 645.0,1144.1 646.7,1145.1 648.4,1146.0 650.0,1146.8 651.7,1147.6 653.4,1148.3 655.1,1149.1 656.7,1149.7 658.4,1150.4 660.1,1151.0 661.7,1151.6 663.4,1152.2 665.1,1152.7 666.8,1153.2 668.4,1153.7 670.1,1154.1 671.8,1154.6 673.5,1155.0 675.1,1155.4 676.8,1155.8 678.5,1156.2 680.1,1156.6 681.8,1156.9 683.5,1157.2 685.2,1157.5 686.8,1157.9 688.5,1158.1 690.2,1158.4 691.9,1158.7 693.5,1159.0 695.2,1159.2 696.9,1159.5 698.5,1159.7 700.2,1159.9 701.9,1160.2 703.6,1160.4 705.2,1160.6 706.9,1160.8 708.6,1161.0 710.2,1161.1 711.9,1161.3 713.6,1161.5 715.3,1161.7 716.9,1161.8 718.6,1162.0 720.3,1162.1 722.0,1162.3 723.6,1162.4 725.3,1162.6 727.0,1162.7 728.6,1162.8 730.3,1163.0 732.0,1163.1 733.7,1163.2 735.3,1163.3 737.0,1163.4 738.7,1163.5 740.4,1163.6 742.0,1163.7 743.7,1163.8 745.4,1163.9 747.0,1164.0 748.7,1164.1 750.4,1164.2 752.1,1164.3 753.7,1164.4 755.4,1164.5 757.1,1164.5 758.7,1164.6 760.4,1164.7 762.1,1164.8 763.8,1164.8 765.4,1164.9 767.1,1165.0 768.8,1165.0 770.5,1165.1 772.1,1165.2 773.8,1165.2 775.5,1165.3 777.1,1165.3 778.8,1165.4 780.5,1165.4 782.2,1165.5 783.8,1165.5 785.5,1165.6 787.2,1165.6 788.9,1165.7 790.5,1165.7 792.2,1165.8 793.9,1165.8 795.5,1165.8 797.2,1165.9 798.9,1165.9 800.6,1166.0 802.2,1166.0 803.9,1166.0 805.6,1166.1 807.2,1166.1 808.9,1166.1 810.6,1166.2 812.3,1166.2 813.9,1166.2 815.6,1166.3 817.3,1166.3 819.0,1166.3 820.6,1166.3 822.3,1166.4 824.0,1166.4 825.6,1166.4 827.3,1166.4 829.0,1166.4 830.7,1166.5 832.3,1166.5 834.0,1166.5 835.7,1166.5 837.4,1166.5 839.0,1166.6 840.7,1166.6 842.4,1166.6 844.0,1166.6 845.7,1166.6 847.4,1166.6 849.1,1166.6 850.7,1166.6 852.4,1166.7 854.1,1166.7 855.7,1166.7 857.4,1166.7 859.1,1166.7 860.8,1166.7 862.4,1166.7 864.1,1166.7 865.8,1166.7 867.5,1166.7 869.1,1166.7 870.8,1166.7 872.5,1166.7 874.1,1166.7 875.8,1166.7 877.5,1166.7 879.2,1166.7 880.8,1166.7 882.5,1166.7 884.2,1166.7 885.9,1166.7 887.5,1166.7 889.2,1166.7 890.9,1166.7 892.5,1166.7 894.2,1166.7 895.9,1166.7 897.6,1166.6 899.2,1166.6 900.9,1166.6 902.6,1166.6 904.2,1166.6 905.9,1166.6 907.6,1166.6 909.3,1166.6 910.9,1166.5 912.6,1166.5 914.3,1166.5 916.0,1166.5 917.6,1166.5 919.3,1166.4 921.0,1166.4 922.6,1166.4 924.3,1166.4 926.0,1166.4 927.7,1166.3 929.3,1166.3 931.0,1166.3 932.7,1166.2 934.4,1166.2 936.0,1166.2 937.7,1166.2 939.4,1166.1 941.0,1166.1 942.7,1166.1 944.4,1166.0 946.1,1166.0 947.7,1165.9 949.4,1165.9 951.1,1165.9 952.7,1165.8 954.4,1165.8 956.1,1165.7 957.8,1165.7 959.4,1165.6 961.1,1165.6 962.8,1165.5 964.5,1165.5 966.1,1165.4 967.8,1165.4 969.5,1165.3 971.1,1165.2 972.8,1165.2 974.5,1165.1 976.2,1165.0 977.8,1165.0 979.5,1164.9 981.2,1164.8 982.9,1164.7 984.5,1164.7 986.2,1164.6 987.9,1164.5 989.5,1164.4 991.2,1164.3 992.9,1164.2 994.6,1164.1 996.2,1164.0 997.9,1163.9 999.6,1163.8 1001.2,1163.7 1002.9,1163.6 1004.6,1163.5 1006.3,1163.4 1007.9,1163.2 1009.6,1163.1 1011.3,1163.0 1013.0,1162.8 1014.6,1162.7 1016.3,1162.5 1018.0,1162.4 1019.6,1162.2 1021.3,1162.0 1023.0,1161.9 1024.7,1161.7 1026.3,1161.5 1028.0,1161.3 1029.7,1161.1 1031.3,1160.9 1033.0,1160.6 1034.7,1160.4 1036.4,1160.2 1038.0,1159.9 1039.7,1159.7 1041.4,1159.4 1043.1,1159.1 1044.7,1158.8 1046.4,1158.5 1048.1,1158.2 1049.7,1157.8 1051.4,1157.5 1053.1,1157.1 1054.8,1156.7 1056.4,1156.3 1058.1,1155.9 1059.8,1155.4 1061.5,1154.9 1063.1,1154.4 1064.8,1153.9 1066.5,1153.3 1068.1,1152.7 1069.8,1152.1 1071.5,1151.5 1073.2,1150.8 1074.8,1150.0 1076.5,1149.2 1078.2,1148.4 1079.8,1147.5 1081.5,1146.6 1083.2,1145.5 1084.9,1144.5 1086.5,1143.3 1088.2,1142.1 1089.9,1140.8 1091.6,1139.4 1093.2,1137.8 1094.9,1136.2 1096.6,1134.4 1098.2,1132.5 1099.9,1130.5 1101.6,1128.2 1103.3,1125.8 1104.9,1123.1 1106.6,1120.2 1108.3,1117.0 1110.0,1113.6 1111.6,1109.8 1113.3,1105.6 1115.0,1100.9 1116.6,1095.8 1118.3,1090.1 1120.0,1083.8 1121.7,1076.7 1123.3,1068.8 1125.0,1060.0 1126.7,1050.1 1128.3,1038.9 1130.0,1026.4 1131.7,1012.3 1133.4,996.5 1135.0,978.7 1136.7,958.9 1138.4,936.9 1140.1,912.7 1141.7,886.5 1143.4,858.8 1145.1,830.2 1146.7,802.1 1148.4,776.0 1150.1,753.8 1151.8,737.6 1153.4,728.9 1155.1,728.9 1156.8,737.4 1158.4,753.5 1160.1,775.4 1161.8,801.3 1163.4,829.3 1165.1,857.6 1166.8,885.2 1168.4,911.3 1170.1,935.3 1171.8,957.3 1173.4,977.1 1175.1,994.8 1176.8,1010.5 1178.4,1024.6 1180.1,1037.1 1181.8,1048.1 1183.4,1058.0 1185.1,1066.8 1186.8,1074.6 1188.4,1081.6 1190.1,1087.9 1191.8,1093.5 1193.4,1098.6 1195.1,1103.2 1196.8,1107.3 1198.4,1111.1 1200.1,1114.5 1201.8,1117.6 1203.4,1120.4 1205.1,1122.9 1206.7,1125.3 1208.4,1127.5 1210.1,1129.4 1211.7,1131.2 1213.4,1132.9 1215.1,1134.4 1216.7,1135.9 1218.4,1137.2 1220.1,1138.4 1221.7,1139.5 1223.4,1140.5 1225.1,1141.4 1226.7,1142.3 1228.4,1143.1 1230.1,1143.9 1231.7,1144.6 1233.4,1145.2 1235.1,1145.8 1236.7,1146.3 1238.4,1146.8 1240.1,1147.3 1241.7,1147.7 1243.4,1148.1 1245.1,1148.4 1246.7,1148.7 1248.4,1149.0 1250.1,1149.2 1251.7,1149.4 1253.4,1149.6 1255.1,1149.8 1256.7,1149.9 1258.4,1150.0 1260.1,1150.0 1261.7,1150.1 1263.4,1150.1 1265.1,1150.1 1266.7,1150.0 1268.4,1150.0 1270.1,1149.9 1271.7,1149.8 1273.4,1149.6 1275.0,1149.4 1276.7,1149.2 1278.4,1149.0 1280.0,1148.7 1281.7,1148.4 1283.4,1148.1 1285.0,1147.7 1286.7,1147.3 1288.4,1146.8 1290.0,1146.3 1291.7,1145.8 1293.4,1145.2 1295.0,1144.6 1296.7,1143.9 1298.4,1143.1 1300.0,1142.3 1301.7,1141.4 1303.4,1140.5 1305.0,1139.5 1306.7,1138.4 1308.4,1137.2 1310.0,1135.8 1311.7,1134.4 1313.4,1132.9 1315.0,1131.2 1316.7,1129.4 1318.4,1127.4 1320.0,1125.3 1321.7,1122.9 1323.4,1120.4 1325.0,1117.6 1326.7,1114.5 1328.4,1111.1 1330.0,1107.3 1331.7,1103.2 1333.4,1098.6 1335.0,1093.5 1336.7,1087.9 1338.4,1081.6 1340.0,1074.6 1341.7,1066.8 1343.4,1058.0 1345.0,1048.1 1346.7,1037.0 1348.3,1024.5 1350.0,1010.5 1351.7,994.7 1353.3,977.0 1355.0,957.2 1356.7,935.3 1358.3,911.2 1360.0,885.1 1361.7,857.5 1363.3,829.2 1365.0,801.2 1366.7,775.4 1368.3,753.4 1370.0,737.4 1371.7,728.9 1373.3,728.9 1375.0,737.6 1376.7,753.8 1378.4,776.0 1380.0,802.1 1381.7,830.2 1383.4,858.8 1385.0,886.5 1386.7,912.7 1388.4,936.9 1390.1,958.9 1391.7,978.7 1393.4,996.5 1395.1,1012.3 1396.8,1026.4 1398.4,1038.9 1400.1,1050.1 1401.8,1060.0 1403.4,1068.8 1405.1,1076.7 1406.8,1083.8 1408.5,1090.1 1410.1,1095.8 1411.8,1100.9 1413.5,1105.6 1415.1,1109.8 1416.8,1113.6 1418.5,1117.0 1420.2,1120.2 1421.8,1123.1 1423.5,1125.8 1425.2,1128.2 1426.9,1130.4 1428.5,1132.5 1430.2,1134.4 1431.9,1136.2 1433.5,1137.8 1435.2,1139.4 1436.9,1140.8 1438.6,1142.1 1440.2,1143.3 1441.9,1144.5 1443.6,1145.5 1445.3,1146.6 1446.9,1147.5 1448.6,1148.4 1450.3,1149.2 1451.9,1150.0 1453.6,1150.8 1455.3,1151.4 1457.0,1152.1 1458.6,1152.7 1460.3,1153.3 1462.0,1153.9 1463.6,1154.4 1465.3,1154.9 1467.0,1155.4 1468.7,1155.9 1470.3,1156.3 1472.0,1156.7 1473.7,1157.1 1475.4,1157.5 1477.0,1157.8 1478.7,1158.2 1480.4,1158.5 1482.0,1158.8 1483.7,1159.1 1485.4,1159.4 1487.1,1159.7 1488.7,1159.9 1490.4,1160.2 1492.1,1160.4 1493.8,1160.6 1495.4,1160.9 1497.1,1161.1 1498.8,1161.3 1500.4,1161.5 1502.1,1161.7 1503.8,1161.9 1505.5,1162.0 1507.1,1162.2 1508.8,1162.4 1510.5,1162.5 1512.2,1162.7 1513.8,1162.8 1515.5,1163.0 1517.2,1163.1 1518.8,1163.2 1520.5,1163.3 1522.2,1163.5 1523.9,1163.6 1525.5,1163.7 1527.2,1163.8 1528.9,1163.9 1530.5,1164.0 1532.2,1164.1 1533.9,1164.2 1535.6,1164.3 1537.2,1164.4 1538.9,1164.5 1540.6,1164.6 1542.3,1164.7 1543.9,1164.7 1545.6,1164.8 1547.3,1164.9 1548.9,1165.0 1550.6,1165.0 1552.3,1165.1 1554.0,1165.2 1555.6,1165.2 1557.3,1165.3 1559.0,1165.4 1560.7,1165.4 1562.3,1165.5 1564.0,1165.5 1565.7,1165.6 1567.3,1165.6 1569.0,1165.7 1570.7,1165.7 1572.4,1165.8 1574.0,1165.8 1575.7,1165.9 1577.4,1165.9 1579.0,1165.9 1580.7,1166.0 1582.4,1166.0 1584.1,1166.0 1585.7,1166.1 1587.4,1166.1 1589.1,1166.1 1590.8,1166.2 1592.4,1166.2 1594.1,1166.2 1595.8,1166.3 1597.4,1166.3 1599.1,1166.3 1600.8,1166.3 1602.5,1166.4 1604.1,1166.4 1605.8,1166.4 1607.5,1166.4 1609.2,1166.5 1610.8,1166.5 1612.5,1166.5 1614.2,1166.5 1615.8,1166.5 1617.5,1166.5 1619.2,1166.6 1620.9,1166.6 1622.5,1166.6 1624.2,1166.6 1625.9,1166.6 1627.6,1166.6 1629.2,1166.6 1630.9,1166.6 1632.6,1166.7 1634.2,1166.7 1635.9,1166.7 1637.6,1166.7 1639.3,1166.7 1640.9,1166.7 1642.6,1166.7 1644.3,1166.7 1645.9,1166.7 1647.6,1166.7 1649.3,1166.7 1651.0,1166.7 1652.6,1166.7 1654.3,1166.7 1656.0,1166.7 1657.7,1166.7 1659.3,1166.7 1661.0,1166.7 1662.7,1166.7 1664.3,1166.7 1666.0,1166.7 1667.7,1166.7 1669.4,1166.7 1671.0,1166.7 1672.7,1166.6 1674.4,1166.6 1676.1,1166.6 1677.7,1166.6 1679.4,1166.6 1681.1,1166.6 1682.7,1166.6 1684.4,1166.6 1686.1,1166.6 1687.8,1166.5 1689.4,1166.5 1691.1,1166.5 1692.8,1166.5 1694.4,1166.5 1696.1,1166.4 1697.8,1166.4 1699.5,1166.4 1701.1,1166.4 1702.8,1166.4 1704.5,1166.3 1706.2,1166.3 1707.8,1166.3 1709.5,1166.3 1711.2,1166.2 1712.8,1166.2 1714.5,1166.2 1716.2,1166.1 1717.9,1166.1 1719.5,1166.1 1721.2,1166.0 1722.9,1166.0 1724.6,1166.0 1726.2,1165.9 1727.9,1165.9 1729.6,1165.9 1731.2,1165.8 1732.9,1165.8 1734.6,1165.7 1736.3,1165.7 1737.9,1165.6 1739.6,1165.6 1741.3,1165.5 1743.0,1165.5 1744.6,1165.4 1746.3,1165.4 1748.0,1165.3 1749.6,1165.3 1751.3,1165.2 1753.0,1165.2 1754.7,1165.1 1756.3,1165.0 1758.0,1165.0 1759.7,1164.9 1761.3,1164.9 1763.0,1164.8 1764.7,1164.7 1766.4,1164.6 1768.0,1164.6 1769.7,1164.5 1771.4,1164.4 1773.1,1164.3 1774.7,1164.2 1776.4,1164.1 1778.1,1164.1 1779.7,1164.0 1781.4,1163.9 1783.1,1163.8 1784.8,1163.7 1786.4,1163.6 1788.1,1163.5 1789.8,1163.3 1791.5,1163.2 1793.1,1163.1 1794.8,1163.0 1796.5,1162.9 1798.1,1162.7 1799.8,1162.6 1801.5,1162.5 1803.2,1162.3 1804.8,1162.2 1806.5,1162.0 1808.2,1161.9 1809.9,1161.7 1811.5,1161.6 1813.2,1161.4 1814.9,1161.2 1816.5,1161.0 1818.2,1160.8 1819.9,1160.6 1821.6,1160.4 1823.2,1160.2 1824.9,1160.0 1826.6,1159.8 1828.2,1159.6 1829.9,1159.3 1831.6,1159.1 1833.3,1158.8 1834.9,1158.5 1836.6,1158.3 1838.3,1158.0 1840.0,1157.7 1841.6,1157.4 1843.3,1157.0 1845.0,1156.7 1846.6,1156.3 1848.3,1156.0 1850.0,1155.6 1851.7,1155.2 1853.3,1154.8 1855.0,1154.3 1856.7,1153.9 1858.4,1153.4 1860.0,1152.9 1861.7,1152.4 1863.4,1151.8 1865.0,1151.3 1866.7,1150.6 1868.4,1150.0 1870.1,1149.3 1871.7,1148.6 1873.4,1147.9 1875.1,1147.1 1876.7,1146.3 1878.4,1145.4 1880.1,1144.5 1881.8,1143.6 1883.4,1142.5 1885.1,1141.4 1886.8,1140.3 1888.5,1139.0 1890.1,1137.7 1891.8,1136.3 1893.5,1134.8 1895.1,1133.3 1896.8,1131.5 1898.5,1129.7 1900.2,1127.7 1901.8,1125.6 1903.5,1123.3 1905.2,1120.9 1906.9,1118.2 1908.5,1115.3 1910.2,1112.2 1911.9,1108.8 1913.5,1105.0 1915.2,1100.9 1916.9,1096.5 1918.6,1091.6 1920.2,1086.1 1921.9,1080.1 1923.6,1073.5 1925.3,1066.2 1926.9,1058.0 1928.6,1048.8 1930.3,1038.6 1931.9,1027.2 1933.6,1014.4 1935.3,1000.0 1937.0,983.9 1938.6,965.9 1940.3,945.7 1942.0,923.4 1943.6,898.8 1945.3,872.1 1947.0,843.6 1948.7,814.0 1950.3,784.4 1952.0,756.3 1953.7,731.6 1955.4,712.2 1957.0,699.9 1958.7,696.0 1960.4,700.6 1962.0,712.9 1963.7,731.4 1965.4,754.2 1967.1,779.2 1968.7,804.7 1970.4,829.4 1972.1,852.3 1973.7,873.0 1975.4,891.1 1977.1,906.6 1978.8,919.4 1980.4,929.7 1982.1,937.5 1983.8,942.9 1985.4,946.1 1987.1,946.9 1988.8,945.5 1990.5,941.8 1992.1,935.8 1993.8,927.3 1995.5,916.4 1997.1,902.9 1998.8,886.7 2000.5,868.0 2002.2,846.7 2003.8,823.2 2005.5,798.2 2007.2,772.7 2008.8,748.1 2010.5,726.3 2012.2,709.2 2013.9,698.7 2015.5,696.3 2017.2,702.4 2018.9,716.6 2020.5,737.6 2022.2,763.4 2023.9,792.0 2025.6,821.7 2027.2,851.1 2028.9,879.1 2030.6,905.3 2032.2,929.4 2033.9,951.2 2035.6,970.8 2037.3,988.3 2038.9,1004.0 2040.6,1017.9 2042.3,1030.4 2043.9,1041.5 2045.6,1051.4 2047.3,1060.3 2049.0,1068.3 2050.6,1075.4 2052.3,1081.9 2054.0,1087.7 2055.6,1093.0 2057.3,1097.8 2059.0,1102.2 2060.7,1106.2 2062.3,1109.9 2064.0,1113.2 2065.7,1116.3 2067.3,1119.1 2069.0,1121.8 2070.7,1124.2 2072.4,1126.4 2074.0,1128.5 2075.7,1130.5 2077.4,1132.3 2079.0,1134.0 2080.7,1135.5 2082.4,1137.0 2084.1,1138.4 2085.7,1139.7 2087.4,1140.9 2089.1,1142.0 2090.7,1143.1 2092.4,1144.2 2094.1,1145.1 2095.8,1146.0 2097.4,1146.9 2099.1,1147.7 2100.8,1148.5 2102.4,1149.2 2104.1,1149.9 2105.8,1150.6 2107.5,1151.2 2109.1,1151.8 2110.8,1152.4 2112.5,1152.9 2114.1,1153.5 2115.8,1154.0 2117.5,1154.4 2119.2,1154.9 2120.8,1155.3 2122.5,1155.8 2124.2,1156.2 2125.8,1156.6 2127.5,1156.9 2129.2,1157.3 2130.9,1157.6 2132.5,1158.0 2134.2,1158.3 2135.9,1158.6 2137.5,1158.9 2139.2,1159.2 2140.9,1159.4 2142.6,1159.7 2144.2,1160.0 2145.9,1160.2 2147.6,1160.4 2149.3,1160.7 2150.9,1160.9 2152.6,1161.1 2154.3,1161.3 2155.9,1161.5 2157.6,1161.7 2159.3,1161.9 2161.0,1162.1 2162.6,1162.3 2164.3,1162.4 2166.0,1162.6 2167.6,1162.8 2169.3,1162.9 2171.0,1163.1 2172.7,1163.2 2174.3,1163.4 2176.0,1163.5 2177.7,1163.6 2179.3,1163.8 2181.0,1163.9 2182.7,1164.0 2184.4,1164.1 2186.0,1164.3 2187.7,1164.4 2189.4,1164.5 2191.0,1164.6 2192.7,1164.7 2194.4,1164.8 2196.1,1164.9 2197.7,1165.0 2199.4,1165.1 2201.1,1165.2 2202.7,1165.3 2204.4,1165.4 2206.1,1165.5 2207.8,1165.6 2209.4,1165.6 2211.1,1165.7 2212.8,1165.8 2214.4,1165.9 2216.1,1166.0 2217.8,1166.0 2219.5,1166.1 2221.1,1166.2 2222.8,1166.2 2224.5,1166.3 2226.1,1166.4 2227.8,1166.4 2229.5,1166.5 2231.2,1166.6 2232.8,1166.6 2234.5,1166.7 2236.2,1166.7 2237.8,1166.8 2239.5,1166.9 2241.2,1166.9 2242.9,1167.0 2244.5,1167.0 2246.2,1167.1 2247.9,1167.1 2249.5,1167.2 2251.2,1167.2 2252.9,1167.3 2254.6,1167.3 2256.2,1167.4 2257.9,1167.4 2259.6,1167.5 2261.2,1167.5 2262.9,1167.5 2264.6,1167.6 2266.3,1167.6 2267.9,1167.7 2269.6,1167.7 2271.3,1167.7 2272.9,1167.8 2273.9,1167.8" fill="none" stroke="#000" stroke-width="9.4" stroke-linejoin="miter" stroke-miterlimit="10"/>
<polyline points="217.8,1171.2 219.5,1171.2 221.2,1171.2 222.9,1171.2 224.5,1171.2 226.2,1171.2 227.9,1171.2 229.5,1171.2 231.2,1171.2 232.9,1171.2 234.6,1171.2 236.2,1171.2 237.9,1171.2 239.6,1171.2 241.2,1171.2 242.9,1171.2 244.6,1171.2 246.3,1171.2 247.9,1171.2 249.6,1171.2 251.3,1171.2 252.9,1171.2 254.6,1171.2 256.3,1171.2 258.0,1171.2 259.6,1171.2 261.3,1171.2 263.0,1171.2 264.6,1171.2 266.3,1171.2 268.0,1171.2 269.7,1171.2 271.3,1171.2 273.0,1171.2 274.7,1171.2 276.3,1171.2 278.0,1171.2 279.7,1171.2 281.4,1171.2 283.0,1171.2 284.7,1171.2 286.4,1171.2 288.0,1171.2 289.7,1171.2 291.4,1171.2 293.1,1171.2 294.7,1171.2 296.4,1171.2 298.1,1171.2 299.8,1171.2 301.4,1171.2 303.1,1171.2 304.8,1171.2 306.4,1171.2 308.1,1171.2 309.8,1171.2 311.5,1171.2 313.1,1171.2 314.8,1171.2 316.5,1171.2 318.1,1171.2 319.8,1171.2 321.5,1171.2 323.2,1171.2 324.8,1171.2 326.5,1171.2 328.2,1171.2 329.8,1171.2 331.5,1171.2 333.2,1171.2 334.9,1171.2 336.5,1171.2 338.2,1171.2 339.9,1171.2 341.5,1171.2 343.2,1171.2 344.9,1171.2 346.6,1171.2 348.2,1171.2 349.9,1171.2 351.6,1171.2 353.2,1171.2 354.9,1171.2 356.6,1171.2 358.3,1171.2 359.9,1171.2 361.6,1171.2 363.3,1171.2 364.9,1171.2 366.6,1171.2 368.3,1171.2 370.0,1171.2 371.6,1171.2 373.3,1171.2 375.0,1171.2 376.6,1171.2 378.3,1171.2 380.0,1171.1 381.7,1171.1 383.3,1171.1 385.0,1171.0 386.7,1170.9 388.3,1170.8 390.0,1170.7 391.7,1170.4 393.4,1170.1 395.0,1169.7 396.7,1169.2 398.4,1168.5 400.0,1167.5 401.7,1166.3 403.4,1164.7 405.1,1162.7 406.7,1160.2 408.4,1157.1 410.1,1153.2 411.7,1148.4 413.4,1142.6 415.1,1135.7 416.8,1127.5 418.4,1117.9 420.1,1106.7 421.8,1093.8 423.4,1079.2 425.1,1062.8 426.8,1044.7 428.5,1024.7 430.1,1003.1 431.8,980.0 433.5,955.7 435.1,930.3 436.8,904.4 438.5,878.3 440.2,852.4 441.8,827.3 443.5,803.4 445.2,781.4 446.9,761.7 448.5,744.7 450.2,731.0 451.9,720.8 453.5,714.4 455.2,711.9 456.9,713.5 458.6,719.1 460.2,728.6 461.9,741.6 463.6,757.9 465.2,777.0 466.9,798.5 468.6,821.9 470.3,846.6 471.9,872.1 473.6,897.9 475.3,923.4 476.9,948.3 478.6,972.0 480.3,994.2 482.0,1014.7 483.6,1033.2 485.3,1049.4 487.0,1063.3 488.6,1074.7 490.3,1083.5 492.0,1089.6 493.7,1093.1 495.3,1093.9 497.0,1092.0 498.7,1087.5 500.3,1080.3 502.0,1070.4 503.7,1058.1 505.4,1043.2 507.0,1026.1 508.7,1006.8 510.4,985.5 512.0,962.6 513.7,938.4 515.4,913.3 517.1,887.6 518.7,861.9 520.4,836.6 522.1,812.4 523.7,789.7 525.4,769.1 527.1,751.0 528.8,736.0 530.4,724.4 532.1,716.4 533.8,712.4 535.4,712.4 537.1,716.5 538.8,724.4 540.5,736.1 542.1,751.2 543.8,769.3 545.5,790.0 547.1,812.8 548.8,837.2 550.5,862.7 552.2,888.7 553.8,914.8 555.5,940.6 557.2,965.5 558.8,989.4 560.5,1011.9 562.2,1032.9 563.9,1052.1 565.5,1069.6 567.2,1085.3 568.9,1099.2 570.5,1111.3 572.2,1121.9 573.9,1130.9 575.6,1138.6 577.2,1145.1 578.9,1150.4 580.6,1154.8 582.3,1158.4 583.9,1161.3 585.6,1163.6 587.3,1165.4 588.9,1166.8 590.6,1167.9 592.3,1168.8 594.0,1169.4 595.6,1169.9 597.3,1170.3 599.0,1170.5 600.6,1170.7 602.3,1170.9 604.0,1171.0 605.7,1171.0 607.3,1171.1 609.0,1171.1 610.7,1171.2 612.3,1171.2 614.0,1171.2 615.7,1171.2 617.4,1171.2 619.0,1171.2 620.7,1171.2 622.4,1171.2 624.0,1171.2 625.7,1171.2 627.4,1171.2 629.1,1171.2 630.7,1171.2 632.4,1171.2 634.1,1171.2 635.7,1171.2 637.4,1171.2 639.1,1171.2 640.8,1171.2 642.4,1171.2 644.1,1171.2 645.8,1171.2 647.4,1171.2 649.1,1171.2 650.8,1171.2 652.5,1171.2 654.1,1171.2 655.8,1171.2 657.5,1171.2 659.1,1171.2 660.8,1171.2 662.5,1171.2 664.2,1171.2 665.8,1171.2 667.5,1171.2 669.2,1171.2 670.8,1171.2 672.5,1171.2 674.2,1171.2 675.9,1171.2 677.5,1171.2 679.2,1171.2 680.9,1171.2 682.5,1171.2 684.2,1171.2 685.9,1171.2 687.6,1171.2 689.2,1171.2 690.9,1171.2 692.6,1171.2 694.2,1171.2 695.9,1171.2 697.6,1171.2 699.3,1171.2 700.9,1171.2 702.6,1171.2 704.3,1171.2 705.9,1171.2 707.6,1171.2 709.3,1171.2 711.0,1171.2 712.6,1171.2 714.3,1171.2 716.0,1171.2 717.7,1171.2 719.3,1171.2 721.0,1171.2 722.7,1171.2 724.3,1171.2 726.0,1171.2 727.7,1171.2 729.4,1171.2 731.0,1171.2 732.7,1171.2 734.4,1171.2 736.0,1171.2 737.7,1171.2 739.4,1171.2 741.1,1171.2 742.7,1171.2 744.4,1171.2 746.1,1171.2 747.7,1171.2 749.4,1171.2 751.1,1171.2 752.8,1171.2 754.4,1171.2 756.1,1171.2 757.8,1171.2 759.4,1171.2 761.1,1171.2 762.8,1171.2 764.5,1171.2 766.1,1171.2 767.8,1171.2 769.5,1171.2 771.1,1171.2 772.8,1171.2 774.5,1171.2 776.2,1171.2 777.8,1171.2 779.5,1171.2 781.2,1171.2 782.8,1171.2 784.5,1171.2 786.2,1171.2 787.9,1171.2 789.5,1171.2 791.2,1171.2 792.9,1171.2 794.5,1171.2 796.2,1171.2 797.9,1171.2 799.6,1171.2 801.2,1171.2 802.9,1171.2 804.6,1171.2 806.2,1171.2 807.9,1171.2 809.6,1171.2 811.3,1171.2 812.9,1171.2 814.6,1171.2 816.3,1171.2 817.9,1171.2 819.6,1171.2 821.3,1171.2 823.0,1171.2 824.6,1171.2 826.3,1171.2 828.0,1171.2 829.6,1171.2 831.3,1171.2 833.0,1171.2 834.7,1171.2 836.3,1171.2 838.0,1171.2 839.7,1171.2 841.3,1171.2 843.0,1171.2 844.7,1171.2 846.4,1171.2 848.0,1171.2 849.7,1171.2 851.4,1171.2 853.0,1171.2 854.7,1171.2 856.4,1171.2 858.1,1171.2 859.7,1171.2 861.4,1171.2 863.1,1171.2 864.8,1171.2 866.4,1171.2 868.1,1171.2 869.8,1171.2 871.4,1171.2 873.1,1171.2 874.8,1171.2 876.5,1171.2 878.1,1171.2 879.8,1171.2 881.5,1171.2 883.1,1171.2 884.8,1171.2 886.5,1171.2 888.2,1171.2 889.8,1171.2 891.5,1171.2 893.2,1171.2 894.8,1171.2 896.5,1171.2 898.2,1171.2 899.9,1171.2 901.5,1171.2 903.2,1171.2 904.9,1171.2 906.5,1171.2 908.2,1171.2 909.9,1171.2 911.6,1171.2 913.2,1171.2 914.9,1171.2 916.6,1171.2 918.2,1171.2 919.9,1171.2 921.6,1171.2 923.3,1171.2 924.9,1171.2 926.6,1171.2 928.3,1171.2 929.9,1171.2 931.6,1171.2 933.3,1171.2 935.0,1171.2 936.6,1171.2 938.3,1171.2 940.0,1171.2 941.6,1171.2 943.3,1171.2 945.0,1171.2 946.7,1171.2 948.3,1171.2 950.0,1171.2 951.7,1171.2 953.3,1171.2 955.0,1171.2 956.7,1171.2 958.4,1171.2 960.0,1171.2 961.7,1171.2 963.4,1171.2 965.0,1171.2 966.7,1171.2 968.4,1171.2 970.1,1171.2 971.7,1171.2 973.4,1171.2 975.1,1171.2 976.7,1171.2 978.4,1171.2 980.1,1171.2 981.8,1171.2 983.4,1171.2 985.1,1171.2 986.8,1171.2 988.4,1171.2 990.1,1171.2 991.8,1171.2 993.5,1171.2 995.1,1171.2 996.8,1171.2 998.5,1171.2 1000.2,1171.2 1001.8,1171.2 1003.5,1171.2 1005.2,1171.2 1006.8,1171.2 1008.5,1171.2 1010.2,1171.2 1011.9,1171.2 1013.5,1171.2 1015.2,1171.2 1016.9,1171.2 1018.5,1171.2 1020.2,1171.2 1021.9,1171.2 1023.6,1171.2 1025.2,1171.2 1026.9,1171.2 1028.6,1171.1 1030.2,1171.1 1031.9,1171.1 1033.6,1171.0 1035.3,1170.9 1036.9,1170.8 1038.6,1170.6 1040.3,1170.4 1041.9,1170.1 1043.6,1169.6 1045.3,1169.1 1047.0,1168.3 1048.6,1167.3 1050.3,1166.0 1052.0,1164.4 1053.6,1162.3 1055.3,1159.6 1057.0,1156.3 1058.7,1152.3 1060.3,1147.3 1062.0,1141.3 1063.7,1134.2 1065.3,1125.7 1067.0,1115.8 1068.7,1104.2 1070.4,1091.0 1072.0,1076.1 1073.7,1059.3 1075.4,1040.8 1077.0,1020.5 1078.7,998.6 1080.4,975.2 1082.1,950.7 1083.7,925.2 1085.4,899.2 1087.1,873.1 1088.7,847.3 1090.4,822.4 1092.1,798.9 1093.8,777.3 1095.4,758.1 1097.1,741.7 1098.8,728.6 1100.4,719.2 1102.1,713.6 1103.8,712.0 1105.5,714.4 1107.1,720.8 1108.8,731.0 1110.5,744.7 1112.1,761.7 1113.8,781.4 1115.5,803.4 1117.2,827.3 1118.8,852.4 1120.5,878.3 1122.2,904.4 1123.8,930.3 1125.5,955.7 1127.2,980.0 1128.9,1003.1 1130.5,1024.7 1132.2,1044.7 1133.9,1062.8 1135.6,1079.2 1137.2,1093.8 1138.9,1106.7 1140.6,1117.9 1142.2,1127.5 1143.9,1135.7 1145.6,1142.6 1147.3,1148.4 1148.9,1153.2 1150.6,1157.1 1152.3,1160.2 1153.9,1162.7 1155.6,1164.7 1157.3,1166.3 1159.0,1167.5 1160.6,1168.5 1162.3,1169.2 1164.0,1169.7 1165.6,1170.1 1167.3,1170.4 1169.0,1170.7 1170.7,1170.8 1172.3,1170.9 1174.0,1171.0 1175.7,1171.1 1177.3,1171.1 1179.0,1171.1 1180.7,1171.2 1182.4,1171.2 1184.0,1171.2 1185.7,1171.2 1187.4,1171.2 1189.0,1171.2 1190.7,1171.2 1192.4,1171.2 1194.1,1171.2 1195.7,1171.2 1197.4,1171.2 1199.1,1171.2 1200.7,1171.2 1202.4,1171.2 1204.1,1171.2 1205.8,1171.2 1207.4,1171.2 1209.1,1171.2 1210.8,1171.2 1212.4,1171.2 1214.1,1171.2 1215.8,1171.2 1217.5,1171.2 1219.1,1171.2 1220.8,1171.2 1222.5,1171.2 1224.1,1171.2 1225.8,1171.2 1227.5,1171.2 1229.2,1171.2 1230.8,1171.2 1232.5,1171.2 1234.2,1171.2 1235.8,1171.2 1237.5,1171.2 1239.2,1171.2 1240.9,1171.2 1242.5,1171.2 1244.2,1171.2 1245.9,1171.2 1247.5,1171.2 1249.2,1171.2 1250.9,1171.2 1252.6,1171.2 1254.2,1171.2 1255.9,1171.2 1257.6,1171.2 1259.2,1171.2 1260.9,1171.2 1262.6,1171.2 1264.3,1171.2 1265.9,1171.2 1267.6,1171.2 1269.3,1171.2 1270.9,1171.2 1272.6,1171.2 1274.3,1171.2 1276.0,1171.2 1277.6,1171.2 1279.3,1171.2 1281.0,1171.2 1282.7,1171.2 1284.3,1171.2 1286.0,1171.2 1287.7,1171.2 1289.3,1171.2 1291.0,1171.2 1292.7,1171.2 1294.4,1171.2 1296.0,1171.2 1297.7,1171.2 1299.4,1171.2 1301.0,1171.2 1302.7,1171.2 1304.4,1171.2 1306.1,1171.2 1307.7,1171.2 1309.4,1171.2 1311.1,1171.2 1312.7,1171.2 1314.4,1171.2 1316.1,1171.2 1317.8,1171.2 1319.4,1171.2 1321.1,1171.2 1322.8,1171.2 1324.4,1171.2 1326.1,1171.2 1327.8,1171.2 1329.5,1171.2 1331.1,1171.2 1332.8,1171.2 1334.5,1171.1 1336.1,1171.1 1337.8,1171.0 1339.5,1171.0 1341.2,1170.9 1342.8,1170.7 1344.5,1170.6 1346.2,1170.3 1347.8,1169.9 1349.5,1169.5 1351.2,1168.9 1352.9,1168.0 1354.5,1167.0 1356.2,1165.6 1357.9,1163.8 1359.5,1161.5 1361.2,1158.7 1362.9,1155.2 1364.6,1150.9 1366.2,1145.7 1367.9,1139.3 1369.6,1131.8 1371.2,1122.9 1372.9,1112.5 1374.6,1100.5 1376.3,1086.8 1377.9,1071.3 1379.6,1054.0 1381.3,1034.9 1382.9,1014.1 1384.6,991.7 1386.3,968.0 1388.0,943.1 1389.6,917.4 1391.3,891.3 1393.0,865.3 1394.6,839.7 1396.3,815.2 1398.0,792.2 1399.7,771.2 1401.3,752.8 1403.0,737.4 1404.7,725.4 1406.3,717.1 1408.0,712.7 1409.7,712.3 1411.4,715.9 1413.0,723.4 1414.7,734.8 1416.4,749.5 1418.1,767.3 1419.7,787.8 1421.4,810.4 1423.1,834.7 1424.7,860.1 1426.4,886.1 1428.1,912.2 1429.8,938.0 1431.4,963.1 1433.1,987.1 1434.8,1009.8 1436.4,1030.9 1438.1,1050.3 1439.8,1067.9 1441.5,1083.8 1443.1,1097.9 1444.8,1110.2 1446.5,1120.9 1448.1,1130.1 1449.8,1137.9 1451.5,1144.5 1453.2,1149.9 1454.8,1154.4 1456.5,1158.1 1458.2,1161.0 1459.8,1163.4 1461.5,1165.3 1463.2,1166.7 1464.9,1167.8 1466.5,1168.7 1468.2,1169.4 1469.9,1169.9 1471.5,1170.2 1473.2,1170.5 1474.9,1170.7 1476.6,1170.9 1478.2,1171.0 1479.9,1171.0 1481.6,1171.1 1483.2,1171.1 1484.9,1171.1 1486.6,1171.2 1488.3,1171.2 1489.9,1171.2 1491.6,1171.2 1493.3,1171.2 1494.9,1171.2 1496.6,1171.2 1498.3,1171.2 1500.0,1171.2 1501.6,1171.2 1503.3,1171.2 1505.0,1171.2 1506.6,1171.2 1508.3,1171.2 1510.0,1171.2 1511.7,1171.2 1513.3,1171.2 1515.0,1171.2 1516.7,1171.2 1518.3,1171.2 1520.0,1171.2 1521.7,1171.2 1523.4,1171.2 1525.0,1171.2 1526.7,1171.2 1528.4,1171.2 1530.0,1171.2 1531.7,1171.2 1533.4,1171.2 1535.1,1171.2 1536.7,1171.2 1538.4,1171.2 1540.1,1171.2 1541.7,1171.2 1543.4,1171.2 1545.1,1171.2 1546.8,1171.2 1548.4,1171.2 1550.1,1171.2 1551.8,1171.2 1553.5,1171.2 1555.1,1171.2 1556.8,1171.2 1558.5,1171.2 1560.1,1171.2 1561.8,1171.2 1563.5,1171.2 1565.2,1171.2 1566.8,1171.2 1568.5,1171.2 1570.2,1171.2 1571.8,1171.2 1573.5,1171.2 1575.2,1171.2 1576.9,1171.2 1578.5,1171.2 1580.2,1171.2 1581.9,1171.2 1583.5,1171.2 1585.2,1171.2 1586.9,1171.2 1588.6,1171.2 1590.2,1171.2 1591.9,1171.2 1593.6,1171.2 1595.2,1171.2 1596.9,1171.2 1598.6,1171.2 1600.3,1171.2 1601.9,1171.2 1603.6,1171.2 1605.3,1171.2 1606.9,1171.2 1608.6,1171.2 1610.3,1171.2 1612.0,1171.2 1613.6,1171.2 1615.3,1171.2 1617.0,1171.2 1618.6,1171.2 1620.3,1171.2 1622.0,1171.2 1623.7,1171.2 1625.3,1171.2 1627.0,1171.2 1628.7,1171.2 1630.3,1171.2 1632.0,1171.2 1633.7,1171.2 1635.4,1171.2 1637.0,1171.2 1638.7,1171.2 1640.4,1171.2 1642.0,1171.2 1643.7,1171.2 1645.4,1171.2 1647.1,1171.2 1648.7,1171.2 1650.4,1171.2 1652.1,1171.2 1653.7,1171.2 1655.4,1171.2 1657.1,1171.2 1658.8,1171.2 1660.4,1171.2 1662.1,1171.2 1663.8,1171.2 1665.4,1171.2 1667.1,1171.2 1668.8,1171.2 1670.5,1171.2 1672.1,1171.2 1673.8,1171.2 1675.5,1171.2 1677.1,1171.2 1678.8,1171.2 1680.5,1171.2 1682.2,1171.2 1683.8,1171.2 1685.5,1171.2 1687.2,1171.2 1688.8,1171.2 1690.5,1171.2 1692.2,1171.2 1693.9,1171.2 1695.5,1171.2 1697.2,1171.2 1698.9,1171.2 1700.6,1171.2 1702.2,1171.2 1703.9,1171.2 1705.6,1171.2 1707.2,1171.2 1708.9,1171.2 1710.6,1171.2 1712.3,1171.2 1713.9,1171.2 1715.6,1171.2 1717.3,1171.2 1718.9,1171.2 1720.6,1171.2 1722.3,1171.2 1724.0,1171.2 1725.6,1171.2 1727.3,1171.2 1729.0,1171.2 1730.6,1171.2 1732.3,1171.2 1734.0,1171.2 1735.7,1171.2 1737.3,1171.2 1739.0,1171.2 1740.7,1171.2 1742.3,1171.2 1744.0,1171.2 1745.7,1171.2 1747.4,1171.2 1749.0,1171.2 1750.7,1171.2 1752.4,1171.2 1754.0,1171.2 1755.7,1171.2 1757.4,1171.2 1759.1,1171.2 1760.7,1171.2 1762.4,1171.2 1764.1,1171.2 1765.7,1171.2 1767.4,1171.2 1769.1,1171.2 1770.8,1171.2 1772.4,1171.2 1774.1,1171.2 1775.8,1171.2 1777.4,1171.2 1779.1,1171.2 1780.8,1171.2 1782.5,1171.2 1784.1,1171.2 1785.8,1171.2 1787.5,1171.2 1789.1,1171.2 1790.8,1171.2 1792.5,1171.2 1794.2,1171.2 1795.8,1171.2 1797.5,1171.2 1799.2,1171.2 1800.8,1171.2 1802.5,1171.2 1804.2,1171.2 1805.9,1171.2 1807.5,1171.2 1809.2,1171.2 1810.9,1171.2 1812.5,1171.2 1814.2,1171.2 1815.9,1171.2 1817.6,1171.2 1819.2,1171.2 1820.9,1171.2 1822.6,1171.2 1824.2,1171.2 1825.9,1171.2 1827.6,1171.2 1829.3,1171.2 1830.9,1171.2 1832.6,1171.2 1834.3,1171.2 1836.0,1171.2 1837.6,1171.2 1839.3,1171.2 1841.0,1171.2 1842.6,1171.2 1844.3,1171.2 1846.0,1171.2 1847.7,1171.2 1849.3,1171.2 1851.0,1171.2 1852.7,1171.2 1854.3,1171.2 1856.0,1171.2 1857.7,1171.2 1859.4,1171.2 1861.0,1171.2 1862.7,1171.2 1864.4,1171.2 1866.0,1171.2 1867.7,1171.2 1869.4,1171.2 1871.1,1171.2 1872.7,1171.2 1874.4,1171.2 1876.1,1171.2 1877.7,1171.2 1879.4,1171.2 1881.1,1171.2 1882.8,1171.2 1884.4,1171.2 1886.1,1171.2 1887.8,1171.2 1889.4,1171.2 1891.1,1171.2 1892.8,1171.2 1894.5,1171.2 1896.1,1171.2 1897.8,1171.2 1899.5,1171.2 1901.1,1171.2 1902.8,1171.2 1904.5,1171.2 1906.2,1171.2 1907.8,1171.2 1909.5,1171.2 1911.2,1171.2 1912.8,1171.1 1914.5,1171.1 1916.2,1171.1 1917.9,1171.0 1919.5,1170.9 1921.2,1170.8 1922.9,1170.6 1924.5,1170.4 1926.2,1170.0 1927.9,1169.6 1929.6,1169.0 1931.2,1168.3 1932.9,1167.3 1934.6,1166.0 1936.2,1164.3 1937.9,1162.2 1939.6,1159.5 1941.3,1156.2 1942.9,1152.1 1944.6,1147.1 1946.3,1141.0 1947.9,1133.8 1949.6,1125.2 1951.3,1115.2 1953.0,1103.6 1954.6,1090.3 1956.3,1075.3 1958.0,1058.5 1959.6,1039.8 1961.3,1019.5 1963.0,997.5 1964.7,974.0 1966.3,949.4 1968.0,923.9 1969.7,897.9 1971.4,871.8 1973.0,846.0 1974.7,821.2 1976.4,797.7 1978.0,776.2 1979.7,757.1 1981.4,740.9 1983.1,728.0 1984.7,718.7 1986.4,713.2 1988.1,711.7 1989.7,714.2 1991.4,720.6 1993.1,730.7 1994.8,744.3 1996.4,760.9 1998.1,780.2 1999.8,801.5 2001.4,824.4 2003.1,848.2 2004.8,872.4 2006.5,896.3 2008.1,919.5 2009.8,941.3 2011.5,961.4 2013.1,979.3 2014.8,994.6 2016.5,1007.0 2018.2,1016.3 2019.8,1022.4 2021.5,1025.1 2023.2,1024.3 2024.8,1020.1 2026.5,1012.5 2028.2,1001.8 2029.9,988.0 2031.5,971.5 2033.2,952.6 2034.9,931.7 2036.5,909.2 2038.2,885.6 2039.9,861.5 2041.6,837.4 2043.2,814.0 2044.9,791.7 2046.6,771.2 2048.2,753.1 2049.9,737.8 2051.6,725.7 2053.3,717.2 2054.9,712.5 2056.6,711.9 2058.3,715.2 2059.9,722.4 2061.6,733.4 2063.3,747.8 2065.0,765.4 2066.6,785.6 2068.3,808.1 2070.0,832.2 2071.6,857.5 2073.3,883.5 2075.0,909.6 2076.7,935.5 2078.3,960.6 2080.0,984.7 2081.7,1007.6 2083.3,1028.8 2085.0,1048.4 2086.7,1066.3 2088.4,1082.3 2090.0,1096.5 2091.7,1109.0 2093.4,1119.9 2095.0,1129.3 2096.7,1137.2 2098.4,1143.9 2100.1,1149.4 2101.7,1154.0 2103.4,1157.7 2105.1,1160.8 2106.7,1163.2 2108.4,1165.1 2110.1,1166.6 2111.8,1167.7 2113.4,1168.6 2115.1,1169.3 2116.8,1169.8 2118.5,1170.2 2120.1,1170.5 2121.8,1170.7 2123.5,1170.8 2125.1,1171.0 2126.8,1171.0 2128.5,1171.1 2130.2,1171.1 2131.8,1171.1 2133.5,1171.2 2135.2,1171.2 2136.8,1171.2 2138.5,1171.2 2140.2,1171.2 2141.9,1171.2 2143.5,1171.2 2145.2,1171.2 2146.9,1171.2 2148.5,1171.2 2150.2,1171.2 2151.9,1171.2 2153.6,1171.2 2155.2,1171.2 2156.9,1171.2 2158.6,1171.2 2160.2,1171.2 2161.9,1171.2 2163.6,1171.2 2165.3,1171.2 2166.9,1171.2 2168.6,1171.2 2170.3,1171.2 2171.9,1171.2 2173.6,1171.2 2175.3,1171.2 2177.0,1171.2 2178.6,1171.2 2180.3,1171.2 2182.0,1171.2 2183.6,1171.2 2185.3,1171.2 2187.0,1171.2 2188.7,1171.2 2190.3,1171.2 2192.0,1171.2 2193.7,1171.2 2195.3,1171.2 2197.0,1171.2 2198.7,1171.2 2200.4,1171.2 2202.0,1171.2 2203.7,1171.2 2205.4,1171.2 2207.0,1171.2 2208.7,1171.2 2210.4,1171.2 2212.1,1171.2 2213.7,1171.2 2215.4,1171.2 2217.1,1171.2 2218.7,1171.2 2220.4,1171.2 2222.1,1171.2 2223.8,1171.2 2225.4,1171.2 2227.1,1171.2 2228.8,1171.2 2230.4,1171.2 2232.1,1171.2 2233.8,1171.2 2235.5,1171.2 2237.1,1171.2 2238.8,1171.2 2240.5,1171.2 2242.1,1171.2 2243.8,1171.2 2245.5,1171.2 2247.2,1171.2 2248.8,1171.2 2250.5,1171.2 2252.2,1171.2 2253.9,1171.2 2255.5,1171.2 2257.2,1171.2 2258.9,1171.2 2260.5,1171.2 2262.2,1171.2 2263.9,1171.2 2265.6,1171.2 2267.2,1171.2 2268.9,1171.2 2270.6,1171.2 2272.2,1171.2 2273.9,1171.2" fill="none" stroke="#f00" stroke-width="9.4" stroke-linejoin="round" stroke-miterlimit="10"/>
</g>
<path d="M214.4 655.9H2276.6V1173.4H214.4ZM220.9 662.0V1168.2H2271.7V662.0Z" fill="#000" fill-rule="evenodd"/>
<path d="M217.7 1171.2h52.5M2274.1 1171.2h-52.5M217.7 1088.3h52.5M2274.1 1088.3h-52.5M217.7 1005.4h52.5M2274.1 1005.4h-52.5M217.7 922.5h52.5M2274.1 922.5h-52.5M217.7 839.6h52.5M2274.1 839.6h-52.5M217.7 756.7h52.5M2274.1 756.7h-52.5M217.7 673.8h52.5M2274.1 673.8h-52.5M217.7 1129.8h27M2274.1 1129.8h-27M217.7 1046.9h27M2274.1 1046.9h-27M217.7 964.0h27M2274.1 964.0h-27M217.7 881.0h27M2274.1 881.0h-27M217.7 798.2h27M2274.1 798.2h-27M217.7 715.2h27M2274.1 715.2h-27" stroke="#000" stroke-width="5.2" fill="none"/>
<path d="M226.2 1171.2v-51M560.5 1171.2v-51M894.8 1171.2v-51M1229.2 1171.2v-51M1563.5 1171.2v-51M1897.8 1171.2v-51M2232.1 1171.2v-51M393.4 1171.2v-25M727.7 1171.2v-25M1062.0 1171.2v-25M1396.3 1171.2v-25M1730.6 1171.2v-25M2065.0 1171.2v-25" stroke="#000" stroke-width="4.4" fill="none"/>
<text x="194" y="1195.7" font-size="71" text-anchor="end">0</text>
<text x="194" y="1112.8" font-size="71" text-anchor="end">0.5</text>
<text x="194" y="1029.9" font-size="71" text-anchor="end">1</text>
<text x="194" y="947.0" font-size="71" text-anchor="end">1.5</text>
<text x="194" y="864.1" font-size="71" text-anchor="end">2</text>
<text x="194" y="781.2" font-size="71" text-anchor="end">2.5</text>
<text x="194" y="698.3" font-size="71" text-anchor="end">3</text>
<text x="227.2" y="1246.7" font-size="71" text-anchor="middle">-4.8</text>
<text x="561.5" y="1246.7" font-size="71" text-anchor="middle">-4.4</text>
<text x="895.8" y="1246.7" font-size="71" text-anchor="middle">-4</text>
<text x="1230.2" y="1246.7" font-size="71" text-anchor="middle">-3.6</text>
<text x="1564.5" y="1246.7" font-size="71" text-anchor="middle">-3.2</text>
<text x="1898.8" y="1246.7" font-size="71" text-anchor="middle">-2.8</text>
<text x="2233.1" y="1246.7" font-size="71" text-anchor="middle">-2.4</text>
<text transform="translate(79.0 913.1) rotate(-90)" font-size="91" text-anchor="middle">DOS</text>
<text x="911.5" y="784.0" font-size="91.5" font-weight="bold">C2</text>
<g>
<polyline points="217.8,1814.0 219.5,1814.0 221.2,1814.0 222.9,1814.0 224.5,1814.0 226.2,1814.0 227.9,1814.0 229.5,1814.0 231.2,1814.0 232.9,1814.0 234.6,1814.0 236.2,1814.0 237.9,1814.0 239.6,1814.0 241.2,1814.0 242.9,1814.0 244.6,1814.0 246.3,1814.0 247.9,1814.0 249.6,1814.0 251.3,1814.0 252.9,1814.0 254.6,1814.0 256.3,1814.0 258.0,1814.0 259.6,1814.0 261.3,1814.0 263.0,1814.0 264.6,1814.0 266.3,1814.0 268.0,1814.0 269.7,1814.0 271.3,1814.0 273.0,1814.0 274.7,1814.0 276.3,1814.0 278.0,1814.0 279.7,1814.0 281.4,1814.0 283.0,1814.0 284.7,1814.0 286.4,1814.0 288.0,1814.0 289.7,1814.0 291.4,1814.0 293.1,1814.0 294.7,1814.0 296.4,1814.0 298.1,1814.0 299.8,1814.0 301.4,1814.0 303.1,1814.0 304.8,1814.0 306.4,1814.0 308.1,1814.0 309.8,1814.0 311.5,1814.0 313.1,1814.0 314.8,1814.0 316.5,1814.0 318.1,1814.0 319.8,1814.0 321.5,1814.0 323.2,1814.0 324.8,1814.0 326.5,1814.0 328.2,1814.0 329.8,1814.0 331.5,1814.0 333.2,1814.0 334.9,1814.0 336.5,1814.0 338.2,1814.0 339.9,1814.0 341.5,1814.0 343.2,1814.0 344.9,1814.0 346.6,1814.0 348.2,1814.0 349.9,1814.0 351.6,1814.0 353.2,1814.0 354.9,1814.0 356.6,1814.0 358.3,1814.0 359.9,1814.0 361.6,1814.0 363.3,1814.0 364.9,1814.0 366.6,1814.0 368.3,1814.0 370.0,1814.0 371.6,1814.0 373.3,1814.0 375.0,1814.0 376.6,1814.0 378.3,1814.0 380.0,1814.0 381.7,1814.0 383.3,1814.0 385.0,1814.0 386.7,1814.0 388.3,1814.0 390.0,1814.0 391.7,1814.0 393.4,1814.0 395.0,1814.0 396.7,1814.0 398.4,1814.0 400.0,1814.0 401.7,1814.0 403.4,1813.9 405.1,1813.9 406.7,1813.9 408.4,1813.8 410.1,1813.8 411.7,1813.7 413.4,1813.5 415.1,1813.4 416.8,1813.1 418.4,1812.8 420.1,1812.4 421.8,1811.8 423.4,1811.1 425.1,1810.1 426.8,1808.9 428.5,1807.4 430.1,1805.5 431.8,1803.2 433.5,1800.3 435.1,1796.8 436.8,1792.5 438.5,1787.5 440.2,1781.5 441.8,1774.4 443.5,1766.3 445.2,1756.9 446.9,1746.1 448.5,1734.1 450.2,1720.6 451.9,1705.6 453.5,1689.3 455.2,1671.6 456.9,1652.6 458.6,1632.5 460.2,1611.5 461.9,1589.7 463.6,1567.4 465.2,1544.9 466.9,1522.6 468.6,1500.7 470.3,1479.7 471.9,1459.9 473.6,1441.6 475.3,1425.3 476.9,1411.1 478.6,1399.5 480.3,1390.6 482.0,1384.6 483.6,1381.6 485.3,1381.8 487.0,1385.0 488.6,1391.3 490.3,1400.5 492.0,1412.4 493.7,1426.8 495.3,1443.4 497.0,1461.8 498.7,1481.8 500.3,1502.9 502.0,1524.8 503.7,1547.2 505.4,1569.6 507.0,1591.9 508.7,1613.6 510.4,1634.6 512.0,1654.6 513.7,1673.4 515.4,1691.0 517.1,1707.2 518.7,1722.0 520.4,1735.3 522.1,1747.3 523.7,1757.9 525.4,1767.1 527.1,1775.2 528.8,1782.1 530.4,1788.0 532.1,1793.0 533.8,1797.2 535.4,1800.6 537.1,1803.4 538.8,1805.7 540.5,1807.6 542.1,1809.1 543.8,1810.2 545.5,1811.1 547.1,1811.9 548.8,1812.4 550.5,1812.8 552.2,1813.1 553.8,1813.4 555.5,1813.5 557.2,1813.7 558.8,1813.8 560.5,1813.8 562.2,1813.9 563.9,1813.9 565.5,1813.9 567.2,1814.0 568.9,1814.0 570.5,1814.0 572.2,1814.0 573.9,1814.0 575.6,1814.0 577.2,1814.0 578.9,1814.0 580.6,1814.0 582.3,1814.0 583.9,1814.0 585.6,1814.0 587.3,1814.0 588.9,1814.0 590.6,1814.0 592.3,1814.0 594.0,1814.0 595.6,1814.0 597.3,1814.0 599.0,1814.0 600.6,1814.0 602.3,1814.0 604.0,1814.0 605.7,1814.0 607.3,1814.0 609.0,1814.0 610.7,1814.0 612.3,1814.0 614.0,1814.0 615.7,1814.0 617.4,1814.0 619.0,1814.0 620.7,1814.0 622.4,1814.0 624.0,1814.0 625.7,1814.0 627.4,1814.0 629.1,1814.0 630.7,1814.0 632.4,1814.0 634.1,1814.0 635.7,1814.0 637.4,1814.0 639.1,1814.0 640.8,1814.0 642.4,1814.0 644.1,1814.0 645.8,1814.0 647.4,1814.0 649.1,1814.0 650.8,1814.0 652.5,1814.0 654.1,1814.0 655.8,1814.0 657.5,1814.0 659.1,1814.0 660.8,1814.0 662.5,1814.0 664.2,1814.0 665.8,1814.0 667.5,1814.0 669.2,1814.0 670.8,1814.0 672.5,1814.0 674.2,1814.0 675.9,1814.0 677.5,1814.0 679.2,1814.0 680.9,1814.0 682.5,1814.0 684.2,1814.0 685.9,1814.0 687.6,1814.0 689.2,1814.0 690.9,1814.0 692.6,1814.0 694.2,1814.0 695.9,1814.0 697.6,1814.0 699.3,1814.0 700.9,1814.0 702.6,1814.0 704.3,1813.9 705.9,1813.9 707.6,1813.9 709.3,1813.8 711.0,1813.8 712.6,1813.7 714.3,1813.6 716.0,1813.4 717.7,1813.2 719.3,1812.9 721.0,1812.5 722.7,1812.0 724.3,1811.3 726.0,1810.5 727.7,1809.4 729.4,1808.0 731.0,1806.4 732.7,1804.3 734.4,1801.8 736.0,1798.8 737.7,1795.1 739.4,1790.9 741.1,1785.8 742.7,1780.0 744.4,1773.4 746.1,1765.9 747.7,1757.4 749.4,1748.1 751.1,1737.9 752.8,1726.9 754.4,1715.1 756.1,1702.7 757.8,1689.8 759.4,1676.6 761.1,1663.4 762.8,1650.2 764.5,1637.5 766.1,1625.4 767.8,1614.3 769.5,1604.3 771.1,1595.6 772.8,1588.6 774.5,1583.4 776.2,1580.1 777.8,1578.8 779.5,1579.5 781.2,1582.2 782.8,1586.9 784.5,1593.4 786.2,1601.5 787.9,1611.1 789.5,1622.0 791.2,1633.8 792.9,1646.4 794.5,1659.4 796.2,1672.6 797.9,1685.9 799.6,1698.9 801.2,1711.4 802.9,1723.4 804.6,1734.7 806.2,1745.1 807.9,1754.7 809.6,1763.4 811.3,1771.2 812.9,1778.1 814.6,1784.2 816.3,1789.4 817.9,1793.9 819.6,1797.7 821.3,1800.9 823.0,1803.6 824.6,1805.8 826.3,1807.6 828.0,1809.0 829.6,1810.2 831.3,1811.1 833.0,1811.8 834.7,1812.3 836.3,1812.8 838.0,1813.1 839.7,1813.3 841.3,1813.5 843.0,1813.7 844.7,1813.8 846.4,1813.8 848.0,1813.9 849.7,1813.9 851.4,1813.9 853.0,1814.0 854.7,1814.0 856.4,1814.0 858.1,1814.0 859.7,1814.0 861.4,1814.0 863.1,1814.0 864.8,1814.0 866.4,1814.0 868.1,1814.0 869.8,1814.0 871.4,1814.0 873.1,1814.0 874.8,1814.0 876.5,1814.0 878.1,1814.0 879.8,1814.0 881.5,1814.0 883.1,1814.0 884.8,1814.0 886.5,1814.0 888.2,1814.0 889.8,1814.0 891.5,1814.0 893.2,1814.0 894.8,1814.0 896.5,1814.0 898.2,1814.0 899.9,1814.0 901.5,1814.0 903.2,1814.0 904.9,1814.0 906.5,1814.0 908.2,1814.0 909.9,1814.0 911.6,1814.0 913.2,1814.0 914.9,1814.0 916.6,1814.0 918.2,1814.0 919.9,1814.0 921.6,1814.0 923.3,1814.0 924.9,1814.0 926.6,1814.0 928.3,1814.0 929.9,1814.0 931.6,1814.0 933.3,1814.0 935.0,1814.0 936.6,1814.0 938.3,1814.0 940.0,1814.0 941.6,1814.0 943.3,1814.0 945.0,1814.0 946.7,1814.0 948.3,1814.0 950.0,1814.0 951.7,1814.0 953.3,1814.0 955.0,1814.0 956.7,1814.0 958.4,1814.0 960.0,1814.0 961.7,1814.0 963.4,1814.0 965.0,1814.0 966.7,1814.0 968.4,1814.0 970.1,1814.0 971.7,1814.0 973.4,1814.0 975.1,1814.0 976.7,1814.0 978.4,1814.0 980.1,1814.0 981.8,1814.0 983.4,1814.0 985.1,1814.0 986.8,1814.0 988.4,1814.0 990.1,1814.0 991.8,1814.0 993.5,1814.0 995.1,1814.0 996.8,1814.0 998.5,1814.0 1000.2,1814.0 1001.8,1814.0 1003.5,1814.0 1005.2,1814.0 1006.8,1814.0 1008.5,1814.0 1010.2,1814.0 1011.9,1814.0 1013.5,1814.0 1015.2,1814.0 1016.9,1814.0 1018.5,1814.0 1020.2,1814.0 1021.9,1814.0 1023.6,1814.0 1025.2,1814.0 1026.9,1814.0 1028.6,1814.0 1030.2,1814.0 1031.9,1814.0 1033.6,1814.0 1035.3,1814.0 1036.9,1814.0 1038.6,1814.0 1040.3,1814.0 1041.9,1814.0 1043.6,1814.0 1045.3,1814.0 1047.0,1814.0 1048.6,1814.0 1050.3,1814.0 1052.0,1814.0 1053.6,1814.0 1055.3,1814.0 1057.0,1814.0 1058.7,1814.0 1060.3,1814.0 1062.0,1814.0 1063.7,1814.0 1065.3,1814.0 1067.0,1814.0 1068.7,1814.0 1070.4,1814.0 1072.0,1814.0 1073.7,1814.0 1075.4,1814.0 1077.0,1814.0 1078.7,1814.0 1080.4,1814.0 1082.1,1814.0 1083.7,1814.0 1085.4,1814.0 1087.1,1814.0 1088.7,1814.0 1090.4,1814.0 1092.1,1814.0 1093.8,1814.0 1095.4,1814.0 1097.1,1814.0 1098.8,1814.0 1100.4,1814.0 1102.1,1814.0 1103.8,1814.0 1105.5,1814.0 1107.1,1814.0 1108.8,1814.0 1110.5,1814.0 1112.1,1814.0 1113.8,1814.0 1115.5,1814.0 1117.2,1814.0 1118.8,1814.0 1120.5,1814.0 1122.2,1814.0 1123.8,1814.0 1125.5,1814.0 1127.2,1814.0 1128.9,1814.0 1130.5,1813.9 1132.2,1813.9 1133.9,1813.9 1135.6,1813.8 1137.2,1813.8 1138.9,1813.7 1140.6,1813.5 1142.2,1813.3 1143.9,1813.1 1145.6,1812.8 1147.3,1812.3 1148.9,1811.8 1150.6,1811.0 1152.3,1810.1 1153.9,1809.0 1155.6,1807.5 1157.3,1805.7 1159.0,1803.5 1160.6,1800.8 1162.3,1797.6 1164.0,1793.7 1165.6,1789.2 1167.3,1783.9 1169.0,1777.8 1170.7,1770.9 1172.3,1763.0 1174.0,1754.3 1175.7,1744.6 1177.3,1734.1 1179.0,1722.8 1180.7,1710.8 1182.4,1698.2 1184.0,1685.2 1185.7,1672.0 1187.4,1658.7 1189.0,1645.7 1190.7,1633.2 1192.4,1621.4 1194.1,1610.6 1195.7,1601.1 1197.4,1593.0 1199.1,1586.6 1200.7,1582.0 1202.4,1579.4 1204.1,1578.8 1205.8,1580.2 1207.4,1583.6 1209.1,1588.9 1210.8,1596.0 1212.4,1604.7 1214.1,1614.8 1215.8,1626.0 1217.5,1638.1 1219.1,1650.9 1220.8,1664.0 1222.5,1677.2 1224.1,1690.4 1225.8,1703.2 1227.5,1715.5 1229.2,1727.1 1230.8,1738.0 1232.5,1748.1 1234.2,1757.1 1235.8,1765.3 1237.5,1772.4 1239.2,1778.5 1240.9,1783.7 1242.5,1787.9 1244.2,1791.1 1245.9,1793.5 1247.5,1794.9 1249.2,1795.5 1250.9,1795.2 1252.6,1794.0 1254.2,1791.9 1255.9,1788.9 1257.6,1785.0 1259.2,1780.2 1260.9,1774.3 1262.6,1767.5 1264.3,1759.7 1265.9,1750.9 1267.6,1741.1 1269.3,1730.5 1270.9,1719.1 1272.6,1706.9 1274.3,1694.2 1276.0,1681.2 1277.6,1667.9 1279.3,1654.8 1281.0,1641.9 1282.7,1629.6 1284.3,1618.0 1286.0,1607.6 1287.7,1598.5 1289.3,1590.9 1291.0,1585.0 1292.7,1581.0 1294.4,1579.0 1296.0,1579.0 1297.7,1581.0 1299.4,1585.0 1301.0,1590.9 1302.7,1598.5 1304.4,1607.6 1306.1,1618.1 1307.7,1629.6 1309.4,1641.9 1311.1,1654.8 1312.7,1668.0 1314.4,1681.3 1316.1,1694.3 1317.8,1707.1 1319.4,1719.3 1321.1,1730.8 1322.8,1741.6 1324.4,1751.5 1326.1,1760.5 1327.8,1768.6 1329.5,1775.8 1331.1,1782.2 1332.8,1787.7 1334.5,1792.4 1336.1,1796.5 1337.8,1799.9 1339.5,1802.7 1341.2,1805.1 1342.8,1807.0 1344.5,1808.6 1346.2,1809.8 1347.8,1810.8 1349.5,1811.6 1351.2,1812.2 1352.9,1812.6 1354.5,1813.0 1356.2,1813.3 1357.9,1813.5 1359.5,1813.6 1361.2,1813.7 1362.9,1813.8 1364.6,1813.9 1366.2,1813.9 1367.9,1813.9 1369.6,1814.0 1371.2,1814.0 1372.9,1814.0 1374.6,1814.0 1376.3,1814.0 1377.9,1814.0 1379.6,1814.0 1381.3,1814.0 1382.9,1814.0 1384.6,1814.0 1386.3,1814.0 1388.0,1814.0 1389.6,1814.0 1391.3,1814.0 1393.0,1814.0 1394.6,1814.0 1396.3,1814.0 1398.0,1814.0 1399.7,1814.0 1401.3,1814.0 1403.0,1814.0 1404.7,1814.0 1406.3,1814.0 1408.0,1814.0 1409.7,1814.0 1411.4,1814.0 1413.0,1814.0 1414.7,1814.0 1416.4,1814.0 1418.1,1814.0 1419.7,1814.0 1421.4,1814.0 1423.1,1814.0 1424.7,1814.0 1426.4,1814.0 1428.1,1814.0 1429.8,1814.0 1431.4,1814.0 1433.1,1814.0 1434.8,1814.0 1436.4,1814.0 1438.1,1814.0 1439.8,1814.0 1441.5,1814.0 1443.1,1814.0 1444.8,1814.0 1446.5,1814.0 1448.1,1814.0 1449.8,1814.0 1451.5,1814.0 1453.2,1814.0 1454.8,1814.0 1456.5,1814.0 1458.2,1814.0 1459.8,1814.0 1461.5,1814.0 1463.2,1814.0 1464.9,1814.0 1466.5,1814.0 1468.2,1814.0 1469.9,1814.0 1471.5,1814.0 1473.2,1814.0 1474.9,1814.0 1476.6,1814.0 1478.2,1814.0 1479.9,1814.0 1481.6,1814.0 1483.2,1814.0 1484.9,1814.0 1486.6,1814.0 1488.3,1814.0 1489.9,1814.0 1491.6,1814.0 1493.3,1814.0 1494.9,1814.0 1496.6,1814.0 1498.3,1814.0 1500.0,1814.0 1501.6,1814.0 1503.3,1814.0 1505.0,1814.0 1506.6,1814.0 1508.3,1814.0 1510.0,1814.0 1511.7,1814.0 1513.3,1814.0 1515.0,1814.0 1516.7,1814.0 1518.3,1814.0 1520.0,1814.0 1521.7,1814.0 1523.4,1814.0 1525.0,1814.0 1526.7,1814.0 1528.4,1814.0 1530.0,1814.0 1531.7,1814.0 1533.4,1814.0 1535.1,1814.0 1536.7,1814.0 1538.4,1814.0 1540.1,1814.0 1541.7,1814.0 1543.4,1814.0 1545.1,1814.0 1546.8,1814.0 1548.4,1814.0 1550.1,1814.0 1551.8,1814.0 1553.5,1814.0 1555.1,1814.0 1556.8,1814.0 1558.5,1814.0 1560.1,1814.0 1561.8,1814.0 1563.5,1814.0 1565.2,1814.0 1566.8,1814.0 1568.5,1814.0 1570.2,1814.0 1571.8,1814.0 1573.5,1814.0 1575.2,1814.0 1576.9,1814.0 1578.5,1814.0 1580.2,1814.0 1581.9,1814.0 1583.5,1814.0 1585.2,1814.0 1586.9,1814.0 1588.6,1814.0 1590.2,1814.0 1591.9,1814.0 1593.6,1814.0 1595.2,1814.0 1596.9,1814.0 1598.6,1814.0 1600.3,1814.0 1601.9,1814.0 1603.6,1814.0 1605.3,1814.0 1606.9,1814.0 1608.6,1814.0 1610.3,1814.0 1612.0,1814.0 1613.6,1814.0 1615.3,1814.0 1617.0,1814.0 1618.6,1814.0 1620.3,1814.0 1622.0,1814.0 1623.7,1814.0 1625.3,1814.0 1627.0,1814.0 1628.7,1814.0 1630.3,1813.9 1632.0,1813.9 1633.7,1813.9 1635.4,1813.8 1637.0,1813.7 1638.7,1813.6 1640.4,1813.5 1642.0,1813.3 1643.7,1813.0 1645.4,1812.6 1647.1,1812.1 1648.7,1811.5 1650.4,1810.7 1652.1,1809.7 1653.7,1808.5 1655.4,1806.9 1657.1,1805.0 1658.8,1802.6 1660.4,1799.7 1662.1,1796.3 1663.8,1792.2 1665.4,1787.4 1667.1,1781.9 1668.8,1775.5 1670.5,1768.2 1672.1,1760.1 1673.8,1751.0 1675.5,1741.0 1677.1,1730.2 1678.8,1718.7 1680.5,1706.5 1682.2,1693.7 1683.8,1680.6 1685.5,1667.3 1687.2,1654.1 1688.8,1641.3 1690.5,1629.0 1692.2,1617.5 1693.9,1607.1 1695.5,1598.1 1697.2,1590.6 1698.9,1584.8 1700.6,1580.9 1702.2,1579.0 1703.9,1579.1 1705.6,1581.2 1707.2,1585.3 1708.9,1591.2 1710.6,1598.9 1712.3,1608.1 1713.9,1618.6 1715.6,1630.2 1717.3,1642.5 1718.9,1655.5 1720.6,1668.7 1722.3,1681.9 1724.0,1695.0 1725.6,1707.7 1727.3,1719.9 1729.0,1731.4 1730.6,1742.1 1732.3,1751.9 1734.0,1760.9 1735.7,1769.0 1737.3,1776.2 1739.0,1782.5 1740.7,1787.9 1742.3,1792.6 1744.0,1796.7 1745.7,1800.0 1747.4,1802.9 1749.0,1805.2 1750.7,1807.1 1752.4,1808.6 1754.0,1809.9 1755.7,1810.8 1757.4,1811.6 1759.1,1812.2 1760.7,1812.7 1762.4,1813.0 1764.1,1813.3 1765.7,1813.5 1767.4,1813.6 1769.1,1813.7 1770.8,1813.8 1772.4,1813.9 1774.1,1813.9 1775.8,1813.9 1777.4,1814.0 1779.1,1814.0 1780.8,1814.0 1782.5,1814.0 1784.1,1814.0 1785.8,1814.0 1787.5,1814.0 1789.1,1814.0 1790.8,1814.0 1792.5,1814.0 1794.2,1814.0 1795.8,1814.0 1797.5,1814.0 1799.2,1814.0 1800.8,1814.0 1802.5,1814.0 1804.2,1814.0 1805.9,1814.0 1807.5,1814.0 1809.2,1814.0 1810.9,1814.0 1812.5,1814.0 1814.2,1814.0 1815.9,1814.0 1817.6,1814.0 1819.2,1814.0 1820.9,1814.0 1822.6,1814.0 1824.2,1814.0 1825.9,1814.0 1827.6,1814.0 1829.3,1814.0 1830.9,1814.0 1832.6,1814.0 1834.3,1814.0 1836.0,1814.0 1837.6,1814.0 1839.3,1814.0 1841.0,1814.0 1842.6,1814.0 1844.3,1814.0 1846.0,1814.0 1847.7,1814.0 1849.3,1814.0 1851.0,1814.0 1852.7,1814.0 1854.3,1814.0 1856.0,1814.0 1857.7,1814.0 1859.4,1814.0 1861.0,1814.0 1862.7,1814.0 1864.4,1814.0 1866.0,1814.0 1867.7,1814.0 1869.4,1814.0 1871.1,1814.0 1872.7,1814.0 1874.4,1814.0 1876.1,1814.0 1877.7,1814.0 1879.4,1814.0 1881.1,1814.0 1882.8,1814.0 1884.4,1814.0 1886.1,1814.0 1887.8,1814.0 1889.4,1814.0 1891.1,1814.0 1892.8,1814.0 1894.5,1814.0 1896.1,1814.0 1897.8,1814.0 1899.5,1814.0 1901.1,1814.0 1902.8,1814.0 1904.5,1814.0 1906.2,1814.0 1907.8,1814.0 1909.5,1814.0 1911.2,1814.0 1912.8,1814.0 1914.5,1814.0 1916.2,1814.0 1917.9,1814.0 1919.5,1814.0 1921.2,1814.0 1922.9,1814.0 1924.5,1814.0 1926.2,1814.0 1927.9,1814.0 1929.6,1814.0 1931.2,1814.0 1932.9,1814.0 1934.6,1814.0 1936.2,1814.0 1937.9,1813.9 1939.6,1813.9 1941.3,1813.9 1942.9,1813.8 1944.6,1813.7 1946.3,1813.6 1947.9,1813.5 1949.6,1813.3 1951.3,1813.0 1953.0,1812.7 1954.6,1812.2 1956.3,1811.5 1958.0,1810.7 1959.6,1809.7 1961.3,1808.3 1963.0,1806.6 1964.7,1804.5 1966.3,1801.8 1968.0,1798.5 1969.7,1794.5 1971.4,1789.6 1973.0,1783.8 1974.7,1776.9 1976.4,1768.8 1978.0,1759.4 1979.7,1748.6 1981.4,1736.2 1983.1,1722.3 1984.7,1706.8 1986.4,1689.6 1988.1,1670.8 1989.7,1650.6 1991.4,1629.0 1993.1,1606.3 1994.8,1582.6 1996.4,1558.3 1998.1,1533.7 1999.8,1509.2 2001.4,1485.2 2003.1,1462.2 2004.8,1440.5 2006.5,1420.7 2008.1,1403.2 2009.8,1388.3 2011.5,1376.4 2013.1,1367.7 2014.8,1362.5 2016.5,1360.9 2018.2,1362.9 2019.8,1368.4 2021.5,1377.4 2023.2,1389.7 2024.8,1404.8 2026.5,1422.6 2028.2,1442.6 2029.9,1464.4 2031.5,1487.6 2033.2,1511.6 2034.9,1536.1 2036.5,1560.7 2038.2,1585.0 2039.9,1608.6 2041.6,1631.2 2043.2,1652.7 2044.9,1672.8 2046.6,1691.4 2048.2,1708.4 2049.9,1723.8 2051.6,1737.5 2053.3,1749.7 2054.9,1760.4 2056.6,1769.7 2058.3,1777.7 2059.9,1784.4 2061.6,1790.1 2063.3,1794.9 2065.0,1798.9 2066.6,1802.1 2068.3,1804.7 2070.0,1806.8 2071.6,1808.5 2073.3,1809.8 2075.0,1810.8 2076.7,1811.6 2078.3,1812.2 2080.0,1812.7 2081.7,1813.0 2083.3,1813.3 2085.0,1813.5 2086.7,1813.6 2088.4,1813.8 2090.0,1813.8 2091.7,1813.9 2093.4,1813.9 2095.0,1813.9 2096.7,1814.0 2098.4,1814.0 2100.1,1814.0 2101.7,1814.0 2103.4,1814.0 2105.1,1814.0 2106.7,1814.0 2108.4,1814.0 2110.1,1814.0 2111.8,1814.0 2113.4,1814.0 2115.1,1814.0 2116.8,1814.0 2118.5,1814.0 2120.1,1814.0 2121.8,1814.0 2123.5,1814.0 2125.1,1814.0 2126.8,1814.0 2128.5,1814.0 2130.2,1814.0 2131.8,1814.0 2133.5,1814.0 2135.2,1814.0 2136.8,1814.0 2138.5,1814.0 2140.2,1814.0 2141.9,1814.0 2143.5,1814.0 2145.2,1814.0 2146.9,1814.0 2148.5,1814.0 2150.2,1814.0 2151.9,1814.0 2153.6,1814.0 2155.2,1814.0 2156.9,1814.0 2158.6,1814.0 2160.2,1814.0 2161.9,1814.0 2163.6,1814.0 2165.3,1814.0 2166.9,1814.0 2168.6,1814.0 2170.3,1814.0 2171.9,1814.0 2173.6,1814.0 2175.3,1814.0 2177.0,1814.0 2178.6,1814.0 2180.3,1814.0 2182.0,1814.0 2183.6,1814.0 2185.3,1814.0 2187.0,1814.0 2188.7,1814.0 2190.3,1814.0 2192.0,1814.0 2193.7,1814.0 2195.3,1814.0 2197.0,1814.0 2198.7,1814.0 2200.4,1814.0 2202.0,1814.0 2203.7,1814.0 2205.4,1814.0 2207.0,1814.0 2208.7,1814.0 2210.4,1814.0 2212.1,1814.0 2213.7,1814.0 2215.4,1814.0 2217.1,1814.0 2218.7,1814.0 2220.4,1814.0 2222.1,1814.0 2223.8,1814.0 2225.4,1814.0 2227.1,1814.0 2228.8,1814.0 2230.4,1814.0 2232.1,1814.0 2233.8,1814.0 2235.5,1814.0 2237.1,1814.0 2238.8,1814.0 2240.5,1814.0 2242.1,1814.0 2243.8,1814.0 2245.5,1814.0 2247.2,1814.0 2248.8,1814.0 2250.5,1814.0 2252.2,1814.0 2253.9,1814.0 2255.5,1814.0 2257.2,1814.0 2258.9,1814.0 2260.5,1814.0 2262.2,1814.0 2263.9,1814.0 2265.6,1814.0 2267.2,1814.0 2268.9,1814.0 2270.6,1814.0 2272.2,1814.0 2273.9,1814.0" fill="none" stroke="#f00" stroke-width="9.4" stroke-linejoin="round" stroke-miterlimit="10"/>
<polyline points="217.8,1812.0 219.1,1812.0 220.8,1811.9 222.4,1811.9 224.1,1811.9 225.8,1811.9 227.5,1811.9 229.1,1811.8 230.8,1811.8 232.5,1811.8 234.1,1811.8 235.8,1811.7 237.5,1811.7 239.2,1811.7 240.8,1811.7 242.5,1811.6 244.2,1811.6 245.8,1811.6 247.5,1811.6 249.2,1811.5 250.9,1811.5 252.5,1811.5 254.2,1811.5 255.9,1811.4 257.5,1811.4 259.2,1811.4 260.9,1811.3 262.6,1811.3 264.2,1811.3 265.9,1811.2 267.6,1811.2 269.2,1811.2 270.9,1811.1 272.6,1811.1 274.3,1811.1 275.9,1811.0 277.6,1811.0 279.3,1810.9 280.9,1810.9 282.6,1810.9 284.3,1810.8 286.0,1810.8 287.6,1810.7 289.3,1810.7 291.0,1810.7 292.6,1810.6 294.3,1810.6 296.0,1810.5 297.7,1810.5 299.3,1810.4 301.0,1810.4 302.7,1810.3 304.3,1810.3 306.0,1810.2 307.7,1810.1 309.4,1810.1 311.0,1810.0 312.7,1810.0 314.4,1809.9 316.0,1809.8 317.7,1809.8 319.4,1809.7 321.1,1809.6 322.7,1809.6 324.4,1809.5 326.1,1809.4 327.7,1809.4 329.4,1809.3 331.1,1809.2 332.8,1809.1 334.4,1809.0 336.1,1809.0 337.8,1808.9 339.5,1808.8 341.1,1808.7 342.8,1808.6 344.5,1808.5 346.1,1808.4 347.8,1808.3 349.5,1808.2 351.2,1808.1 352.8,1807.9 354.5,1807.8 356.2,1807.7 357.8,1807.6 359.5,1807.4 361.2,1807.3 362.9,1807.2 364.5,1807.0 366.2,1806.9 367.9,1806.7 369.5,1806.6 371.2,1806.4 372.9,1806.2 374.6,1806.1 376.2,1805.9 377.9,1805.7 379.6,1805.5 381.2,1805.3 382.9,1805.1 384.6,1804.9 386.3,1804.6 387.9,1804.4 389.6,1804.2 391.3,1803.9 392.9,1803.6 394.6,1803.4 396.3,1803.1 398.0,1802.8 399.6,1802.5 401.3,1802.1 403.0,1801.8 404.6,1801.4 406.3,1801.1 408.0,1800.7 409.7,1800.3 411.3,1799.8 413.0,1799.4 414.7,1798.9 416.3,1798.4 418.0,1797.9 419.7,1797.3 421.4,1796.7 423.0,1796.1 424.7,1795.5 426.4,1794.8 428.0,1794.1 429.7,1793.3 431.4,1792.5 433.1,1791.6 434.7,1790.7 436.4,1789.8 438.1,1788.7 439.7,1787.6 441.4,1786.4 443.1,1785.2 444.8,1783.8 446.4,1782.4 448.1,1780.8 449.8,1779.2 451.4,1777.4 453.1,1775.4 454.8,1773.3 456.5,1771.1 458.1,1768.6 459.8,1765.9 461.5,1763.0 463.1,1759.8 464.8,1756.3 466.5,1752.5 468.2,1748.3 469.8,1743.6 471.5,1738.5 473.2,1732.8 474.9,1726.5 476.5,1719.5 478.2,1711.6 479.9,1702.9 481.5,1693.1 483.2,1682.1 484.9,1669.8 486.6,1656.0 488.2,1640.6 489.9,1623.3 491.6,1604.2 493.2,1583.2 494.9,1560.4 496.6,1536.0 498.3,1510.4 499.9,1484.5 501.6,1459.2 503.3,1435.6 504.9,1414.7 506.6,1397.5 508.3,1384.5 510.0,1375.9 511.6,1371.6 513.3,1371.6 515.0,1375.8 516.6,1384.4 518.3,1397.3 520.0,1414.4 521.6,1435.2 523.3,1458.7 525.0,1483.9 526.6,1509.7 528.3,1535.2 530.0,1559.6 531.6,1582.4 533.3,1603.4 535.0,1622.5 536.6,1639.7 538.3,1655.1 540.0,1668.9 541.6,1681.2 543.3,1692.2 545.0,1702.0 546.7,1710.7 548.3,1718.6 550.0,1725.6 551.7,1731.9 553.3,1737.6 555.0,1742.7 556.7,1747.3 558.3,1751.5 560.0,1755.4 561.7,1758.8 563.3,1762.0 565.0,1764.9 566.7,1767.6 568.3,1770.0 570.0,1772.3 571.7,1774.4 573.3,1776.3 575.0,1778.1 576.7,1779.7 578.3,1781.2 580.0,1782.7 581.7,1784.0 583.3,1785.2 585.0,1786.4 586.7,1787.4 588.3,1788.4 590.0,1789.4 591.7,1790.3 593.3,1791.1 595.0,1791.9 596.7,1792.6 598.3,1793.3 600.0,1793.9 601.7,1794.6 603.4,1795.1 605.0,1795.7 606.7,1796.2 608.4,1796.7 610.0,1797.1 611.7,1797.6 613.4,1798.0 615.0,1798.4 616.7,1798.7 618.4,1799.1 620.0,1799.4 621.7,1799.7 623.4,1800.0 625.0,1800.3 626.7,1800.5 628.4,1800.8 630.0,1801.0 631.7,1801.2 633.4,1801.4 635.0,1801.6 636.7,1801.8 638.4,1802.0 640.0,1802.2 641.7,1802.3 643.4,1802.5 645.0,1802.6 646.7,1802.7 648.4,1802.8 650.0,1802.9 651.7,1803.0 653.4,1803.1 655.0,1803.2 656.7,1803.3 658.4,1803.3 660.1,1803.4 661.7,1803.4 663.4,1803.5 665.1,1803.5 666.7,1803.5 668.4,1803.5 670.1,1803.5 671.7,1803.5 673.4,1803.5 675.1,1803.5 676.7,1803.5 678.4,1803.4 680.1,1803.4 681.7,1803.3 683.4,1803.3 685.1,1803.2 686.7,1803.1 688.4,1803.0 690.1,1802.9 691.7,1802.8 693.4,1802.7 695.1,1802.5 696.7,1802.4 698.4,1802.2 700.1,1802.1 701.7,1801.9 703.4,1801.7 705.1,1801.4 706.7,1801.2 708.4,1801.0 710.1,1800.7 711.7,1800.4 713.4,1800.1 715.1,1799.7 716.8,1799.4 718.4,1799.0 720.1,1798.5 721.8,1798.1 723.4,1797.6 725.1,1797.1 726.8,1796.5 728.4,1795.9 730.1,1795.3 731.8,1794.6 733.4,1793.8 735.1,1793.0 736.8,1792.1 738.4,1791.1 740.1,1790.1 741.8,1788.9 743.4,1787.7 745.1,1786.4 746.8,1784.9 748.4,1783.3 750.1,1781.5 751.8,1779.6 753.4,1777.4 755.1,1775.1 756.8,1772.5 758.4,1769.6 760.1,1766.4 761.8,1762.8 763.4,1758.8 765.1,1754.4 766.8,1749.4 768.5,1743.8 770.1,1737.5 771.8,1730.4 773.5,1722.5 775.1,1713.5 776.8,1703.5 778.5,1692.2 780.1,1679.8 781.8,1666.1 783.5,1651.3 785.1,1635.6 786.8,1619.5 788.5,1603.6 790.1,1588.9 791.8,1576.4 793.5,1567.3 795.1,1562.5 796.8,1562.5 798.5,1567.4 800.1,1576.6 801.8,1589.2 803.5,1604.0 805.2,1619.9 806.8,1636.1 808.5,1651.8 810.2,1666.7 811.9,1680.4 813.5,1692.9 815.2,1704.1 816.9,1714.2 818.5,1723.2 820.2,1731.2 821.9,1738.3 823.6,1744.6 825.2,1750.2 826.9,1755.2 828.6,1759.7 830.2,1763.7 831.9,1767.2 833.6,1770.5 835.3,1773.4 836.9,1776.0 838.6,1778.4 840.3,1780.5 842.0,1782.5 843.6,1784.3 845.3,1785.9 847.0,1787.4 848.6,1788.8 850.3,1790.1 852.0,1791.2 853.7,1792.3 855.3,1793.3 857.0,1794.2 858.7,1795.1 860.3,1795.9 862.0,1796.6 863.7,1797.3 865.4,1798.0 867.0,1798.6 868.7,1799.1 870.4,1799.7 872.1,1800.2 873.7,1800.6 875.4,1801.1 877.1,1801.5 878.7,1801.9 880.4,1802.2 882.1,1802.6 883.8,1802.9 885.4,1803.2 887.1,1803.5 888.8,1803.8 890.4,1804.1 892.1,1804.3 893.8,1804.5 895.5,1804.8 897.1,1805.0 898.8,1805.2 900.5,1805.4 902.2,1805.6 903.8,1805.7 905.5,1805.9 907.2,1806.1 908.8,1806.2 910.5,1806.4 912.2,1806.5 913.9,1806.6 915.5,1806.8 917.2,1806.9 918.9,1807.0 920.6,1807.1 922.2,1807.2 923.9,1807.3 925.6,1807.4 927.2,1807.5 928.9,1807.6 930.6,1807.7 932.3,1807.7 933.9,1807.8 935.6,1807.9 937.3,1808.0 938.9,1808.0 940.6,1808.1 942.3,1808.1 944.0,1808.2 945.6,1808.3 947.3,1808.3 949.0,1808.4 950.7,1808.4 952.3,1808.4 954.0,1808.5 955.7,1808.5 957.3,1808.6 959.0,1808.6 960.7,1808.6 962.4,1808.7 964.0,1808.7 965.7,1808.7 967.4,1808.7 969.0,1808.8 970.7,1808.8 972.4,1808.8 974.1,1808.8 975.7,1808.8 977.4,1808.8 979.1,1808.9 980.8,1808.9 982.4,1808.9 984.1,1808.9 985.8,1808.9 987.4,1808.9 989.1,1808.9 990.8,1808.9 992.5,1808.9 994.1,1808.9 995.8,1808.9 997.5,1808.9 999.1,1808.9 1000.8,1808.9 1002.5,1808.9 1004.2,1808.9 1005.8,1808.8 1007.5,1808.8 1009.2,1808.8 1010.9,1808.8 1012.5,1808.8 1014.2,1808.7 1015.9,1808.7 1017.5,1808.7 1019.2,1808.7 1020.9,1808.6 1022.6,1808.6 1024.2,1808.6 1025.9,1808.5 1027.6,1808.5 1029.2,1808.5 1030.9,1808.4 1032.6,1808.4 1034.3,1808.4 1035.9,1808.3 1037.6,1808.3 1039.3,1808.2 1041.0,1808.2 1042.6,1808.1 1044.3,1808.0 1046.0,1808.0 1047.6,1807.9 1049.3,1807.8 1051.0,1807.8 1052.7,1807.7 1054.3,1807.6 1056.0,1807.6 1057.7,1807.5 1059.4,1807.4 1061.0,1807.3 1062.7,1807.2 1064.4,1807.1 1066.0,1807.0 1067.7,1806.9 1069.4,1806.8 1071.1,1806.7 1072.7,1806.6 1074.4,1806.5 1076.1,1806.3 1077.7,1806.2 1079.4,1806.1 1081.1,1805.9 1082.8,1805.8 1084.4,1805.6 1086.1,1805.5 1087.8,1805.3 1089.5,1805.1 1091.1,1804.9 1092.8,1804.7 1094.5,1804.5 1096.1,1804.3 1097.8,1804.1 1099.5,1803.9 1101.2,1803.6 1102.8,1803.4 1104.5,1803.1 1106.2,1802.8 1107.8,1802.5 1109.5,1802.2 1111.2,1801.9 1112.9,1801.6 1114.5,1801.2 1116.2,1800.8 1117.9,1800.4 1119.6,1800.0 1121.2,1799.5 1122.9,1799.1 1124.6,1798.6 1126.2,1798.0 1127.9,1797.5 1129.6,1796.8 1131.3,1796.2 1132.9,1795.5 1134.6,1794.8 1136.3,1794.0 1137.9,1793.2 1139.6,1792.3 1141.3,1791.3 1143.0,1790.3 1144.6,1789.2 1146.3,1788.0 1148.0,1786.7 1149.7,1785.3 1151.3,1783.7 1153.0,1782.1 1154.7,1780.3 1156.3,1778.3 1158.0,1776.1 1159.7,1773.7 1161.4,1771.1 1163.0,1768.3 1164.7,1765.1 1166.4,1761.5 1168.0,1757.6 1169.7,1753.3 1171.4,1748.4 1173.1,1742.9 1174.7,1736.8 1176.4,1729.9 1178.1,1722.2 1179.8,1713.6 1181.4,1703.9 1183.1,1693.0 1184.8,1680.9 1186.4,1667.6 1188.1,1653.1 1189.8,1637.5 1191.5,1621.2 1193.1,1604.7 1194.8,1588.9 1196.5,1574.8 1198.2,1563.4 1199.8,1555.9 1201.5,1553.1 1203.2,1555.2 1204.9,1562.0 1206.6,1572.6 1208.2,1586.1 1209.9,1601.2 1211.6,1617.0 1213.3,1632.5 1215.0,1647.2 1216.7,1660.8 1218.4,1673.2 1220.0,1684.2 1221.7,1693.9 1223.4,1702.5 1225.1,1709.9 1226.8,1716.2 1228.5,1721.7 1230.1,1726.3 1231.8,1730.1 1233.5,1733.2 1235.2,1735.7 1236.9,1737.6 1238.6,1739.0 1240.3,1739.7 1241.9,1740.0 1243.6,1739.7 1245.3,1739.0 1247.0,1737.6 1248.7,1735.7 1250.4,1733.2 1252.1,1730.1 1253.7,1726.3 1255.4,1721.7 1257.1,1716.2 1258.8,1709.9 1260.5,1702.5 1262.2,1693.9 1263.9,1684.2 1265.5,1673.2 1267.2,1660.8 1268.9,1647.2 1270.6,1632.5 1272.3,1617.0 1274.0,1601.2 1275.7,1586.1 1277.3,1572.6 1279.0,1562.0 1280.7,1555.2 1282.4,1553.1 1284.1,1555.9 1285.7,1563.4 1287.4,1574.8 1289.1,1589.0 1290.8,1604.8 1292.4,1621.3 1294.1,1637.5 1295.8,1653.1 1297.5,1667.7 1299.1,1681.0 1300.8,1693.1 1302.5,1704.0 1304.2,1713.7 1305.8,1722.3 1307.5,1730.0 1309.2,1736.9 1310.8,1743.0 1312.5,1748.4 1314.2,1753.3 1315.9,1757.7 1317.5,1761.6 1319.2,1765.1 1320.9,1768.3 1322.6,1771.2 1324.2,1773.8 1325.9,1776.2 1327.6,1778.3 1329.3,1780.3 1330.9,1782.1 1332.6,1783.8 1334.3,1785.3 1335.9,1786.7 1337.6,1788.0 1339.3,1789.2 1341.0,1790.3 1342.6,1791.3 1344.3,1792.3 1346.0,1793.2 1347.7,1794.0 1349.3,1794.8 1351.0,1795.5 1352.7,1796.2 1354.4,1796.9 1356.0,1797.5 1357.7,1798.0 1359.4,1798.6 1361.0,1799.1 1362.7,1799.5 1364.4,1800.0 1366.1,1800.4 1367.7,1800.8 1369.4,1801.2 1371.1,1801.6 1372.8,1801.9 1374.4,1802.2 1376.1,1802.5 1377.8,1802.8 1379.5,1803.1 1381.1,1803.4 1382.8,1803.6 1384.5,1803.9 1386.1,1804.1 1387.8,1804.3 1389.5,1804.5 1391.2,1804.7 1392.8,1804.9 1394.5,1805.1 1396.2,1805.3 1397.9,1805.5 1399.5,1805.6 1401.2,1805.8 1402.9,1805.9 1404.6,1806.1 1406.2,1806.2 1407.9,1806.3 1409.6,1806.5 1411.2,1806.6 1412.9,1806.7 1414.6,1806.8 1416.3,1806.9 1417.9,1807.0 1419.6,1807.1 1421.3,1807.2 1423.0,1807.3 1424.6,1807.4 1426.3,1807.5 1428.0,1807.6 1429.7,1807.6 1431.3,1807.7 1433.0,1807.8 1434.7,1807.9 1436.3,1807.9 1438.0,1808.0 1439.7,1808.0 1441.4,1808.1 1443.0,1808.2 1444.7,1808.2 1446.4,1808.3 1448.1,1808.3 1449.7,1808.4 1451.4,1808.4 1453.1,1808.4 1454.8,1808.5 1456.4,1808.5 1458.1,1808.6 1459.8,1808.6 1461.4,1808.6 1463.1,1808.7 1464.8,1808.7 1466.5,1808.7 1468.1,1808.7 1469.8,1808.8 1471.5,1808.8 1473.2,1808.8 1474.8,1808.8 1476.5,1808.8 1478.2,1808.8 1479.9,1808.9 1481.5,1808.9 1483.2,1808.9 1484.9,1808.9 1486.5,1808.9 1488.2,1808.9 1489.9,1808.9 1491.6,1808.9 1493.2,1808.9 1494.9,1808.9 1496.6,1808.9 1498.3,1808.9 1499.9,1808.9 1501.6,1808.9 1503.3,1808.9 1505.0,1808.9 1506.6,1808.9 1508.3,1808.8 1510.0,1808.8 1511.6,1808.8 1513.3,1808.8 1515.0,1808.8 1516.7,1808.7 1518.3,1808.7 1520.0,1808.7 1521.7,1808.7 1523.4,1808.6 1525.0,1808.6 1526.7,1808.6 1528.4,1808.5 1530.1,1808.5 1531.7,1808.4 1533.4,1808.4 1535.1,1808.4 1536.7,1808.3 1538.4,1808.3 1540.1,1808.2 1541.8,1808.1 1543.4,1808.1 1545.1,1808.0 1546.8,1808.0 1548.5,1807.9 1550.1,1807.8 1551.8,1807.7 1553.5,1807.7 1555.2,1807.6 1556.8,1807.5 1558.5,1807.4 1560.2,1807.3 1561.8,1807.2 1563.5,1807.1 1565.2,1807.0 1566.9,1806.9 1568.5,1806.8 1570.2,1806.6 1571.9,1806.5 1573.6,1806.4 1575.2,1806.2 1576.9,1806.1 1578.6,1805.9 1580.3,1805.7 1581.9,1805.6 1583.6,1805.4 1585.3,1805.2 1586.9,1805.0 1588.6,1804.8 1590.3,1804.5 1592.0,1804.3 1593.6,1804.1 1595.3,1803.8 1597.0,1803.5 1598.7,1803.2 1600.3,1802.9 1602.0,1802.6 1603.7,1802.2 1605.4,1801.9 1607.0,1801.5 1608.7,1801.1 1610.4,1800.6 1612.0,1800.2 1613.7,1799.7 1615.4,1799.2 1617.1,1798.6 1618.7,1798.0 1620.4,1797.3 1622.1,1796.7 1623.8,1795.9 1625.4,1795.1 1627.1,1794.3 1628.8,1793.3 1630.5,1792.3 1632.1,1791.3 1633.8,1790.1 1635.5,1788.8 1637.1,1787.5 1638.8,1786.0 1640.5,1784.3 1642.2,1782.5 1643.8,1780.6 1645.5,1778.4 1647.2,1776.0 1648.9,1773.4 1650.5,1770.5 1652.2,1767.3 1653.9,1763.7 1655.6,1759.7 1657.2,1755.2 1658.9,1750.2 1660.6,1744.6 1662.2,1738.3 1663.9,1731.2 1665.6,1723.3 1667.3,1714.3 1668.9,1704.2 1670.6,1693.0 1672.3,1680.5 1674.0,1666.8 1675.6,1651.9 1677.3,1636.2 1679.0,1620.0 1680.7,1604.0 1682.3,1589.2 1684.0,1576.6 1685.7,1567.4 1687.3,1562.5 1689.0,1562.5 1690.7,1567.4 1692.4,1576.6 1694.0,1589.2 1695.7,1604.0 1697.4,1620.0 1699.1,1636.1 1700.7,1651.9 1702.4,1666.7 1704.1,1680.4 1705.8,1692.8 1707.5,1704.1 1709.1,1714.1 1710.8,1723.0 1712.5,1731.0 1714.2,1738.0 1715.8,1744.3 1717.5,1749.9 1719.2,1754.8 1720.9,1759.3 1722.5,1763.2 1724.2,1766.8 1725.9,1769.9 1727.6,1772.8 1729.2,1775.4 1730.9,1777.7 1732.6,1779.8 1734.3,1781.8 1735.9,1783.5 1737.6,1785.1 1739.3,1786.6 1741.0,1787.9 1742.7,1789.1 1744.3,1790.3 1746.0,1791.3 1747.7,1792.2 1749.4,1793.1 1751.0,1793.9 1752.7,1794.7 1754.4,1795.4 1756.1,1796.0 1757.7,1796.6 1759.4,1797.2 1761.1,1797.7 1762.8,1798.2 1764.4,1798.6 1766.1,1799.1 1767.8,1799.4 1769.5,1799.8 1771.1,1800.1 1772.8,1800.5 1774.5,1800.7 1776.2,1801.0 1777.8,1801.3 1779.5,1801.5 1781.2,1801.7 1782.9,1801.9 1784.6,1802.1 1786.2,1802.3 1787.9,1802.4 1789.6,1802.6 1791.3,1802.7 1792.9,1802.8 1794.6,1802.9 1796.3,1803.0 1798.0,1803.1 1799.6,1803.2 1801.3,1803.3 1803.0,1803.3 1804.7,1803.4 1806.3,1803.4 1808.0,1803.5 1809.7,1803.5 1811.4,1803.5 1813.0,1803.5 1814.7,1803.5 1816.4,1803.5 1818.1,1803.5 1819.7,1803.5 1821.4,1803.4 1823.1,1803.4 1824.8,1803.3 1826.5,1803.3 1828.1,1803.2 1829.8,1803.1 1831.5,1803.0 1833.2,1803.0 1834.8,1802.9 1836.5,1802.7 1838.2,1802.6 1839.9,1802.5 1841.5,1802.4 1843.2,1802.2 1844.9,1802.0 1846.6,1801.9 1848.2,1801.7 1849.9,1801.5 1851.6,1801.3 1853.3,1801.1 1854.9,1800.9 1856.6,1800.6 1858.3,1800.4 1860.0,1800.1 1861.7,1799.8 1863.3,1799.5 1865.0,1799.2 1866.7,1798.8 1868.4,1798.5 1870.0,1798.1 1871.7,1797.7 1873.4,1797.3 1875.1,1796.8 1876.7,1796.3 1878.4,1795.8 1880.1,1795.3 1881.8,1794.7 1883.4,1794.1 1885.1,1793.5 1886.8,1792.8 1888.5,1792.1 1890.1,1791.3 1891.8,1790.5 1893.5,1789.6 1895.2,1788.7 1896.8,1787.7 1898.5,1786.6 1900.2,1785.5 1901.9,1784.2 1903.6,1782.9 1905.2,1781.5 1906.9,1780.0 1908.6,1778.4 1910.3,1776.6 1911.9,1774.7 1913.6,1772.7 1915.3,1770.4 1917.0,1768.0 1918.6,1765.4 1920.3,1762.5 1922.0,1759.3 1923.7,1755.9 1925.3,1752.1 1927.0,1747.9 1928.7,1743.3 1930.4,1738.2 1932.0,1732.6 1933.7,1726.3 1935.4,1719.4 1937.1,1711.6 1938.7,1702.9 1940.4,1693.1 1942.1,1682.2 1943.8,1670.0 1945.5,1656.2 1947.1,1640.9 1948.8,1623.7 1950.5,1604.6 1952.2,1583.6 1953.8,1560.8 1955.5,1536.4 1957.2,1510.8 1958.9,1484.9 1960.5,1459.5 1962.2,1435.8 1963.9,1414.8 1965.6,1397.6 1967.2,1384.5 1968.9,1375.9 1970.6,1371.6 1972.3,1371.6 1973.9,1375.9 1975.6,1384.5 1977.3,1397.5 1979.0,1414.7 1980.6,1435.6 1982.3,1459.2 1984.0,1484.5 1985.6,1510.4 1987.3,1535.9 1989.0,1560.4 1990.7,1583.2 1992.3,1604.2 1994.0,1623.3 1995.7,1640.5 1997.3,1656.0 1999.0,1669.8 2000.7,1682.1 2002.4,1693.1 2004.0,1702.9 2005.7,1711.6 2007.4,1719.5 2009.0,1726.5 2010.7,1732.8 2012.4,1738.5 2014.1,1743.6 2015.7,1748.3 2017.4,1752.5 2019.1,1756.3 2020.7,1759.8 2022.4,1763.0 2024.1,1765.9 2025.8,1768.6 2027.4,1771.1 2029.1,1773.3 2030.8,1775.4 2032.4,1777.4 2034.1,1779.2 2035.8,1780.8 2037.5,1782.4 2039.1,1783.8 2040.8,1785.2 2042.5,1786.4 2044.1,1787.6 2045.8,1788.7 2047.5,1789.8 2049.2,1790.7 2050.8,1791.6 2052.5,1792.5 2054.2,1793.3 2055.8,1794.1 2057.5,1794.8 2059.2,1795.5 2060.9,1796.1 2062.5,1796.7 2064.2,1797.3 2065.9,1797.9 2067.6,1798.4 2069.2,1798.9 2070.9,1799.4 2072.6,1799.8 2074.2,1800.3 2075.9,1800.7 2077.6,1801.1 2079.3,1801.4 2080.9,1801.8 2082.6,1802.1 2084.3,1802.5 2085.9,1802.8 2087.6,1803.1 2089.3,1803.4 2091.0,1803.6 2092.6,1803.9 2094.3,1804.2 2096.0,1804.4 2097.6,1804.6 2099.3,1804.9 2101.0,1805.1 2102.7,1805.3 2104.3,1805.5 2106.0,1805.7 2107.7,1805.9 2109.3,1806.1 2111.0,1806.2 2112.7,1806.4 2114.4,1806.6 2116.0,1806.7 2117.7,1806.9 2119.4,1807.0 2121.0,1807.2 2122.7,1807.3 2124.4,1807.4 2126.1,1807.6 2127.7,1807.7 2129.4,1807.8 2131.1,1807.9 2132.7,1808.1 2134.4,1808.2 2136.1,1808.3 2137.8,1808.4 2139.4,1808.5 2141.1,1808.6 2142.8,1808.7 2144.4,1808.8 2146.1,1808.9 2147.8,1809.0 2149.5,1809.0 2151.1,1809.1 2152.8,1809.2 2154.5,1809.3 2156.1,1809.4 2157.8,1809.4 2159.5,1809.5 2161.2,1809.6 2162.8,1809.6 2164.5,1809.7 2166.2,1809.8 2167.8,1809.8 2169.5,1809.9 2171.2,1810.0 2172.9,1810.0 2174.5,1810.1 2176.2,1810.1 2177.9,1810.2 2179.5,1810.3 2181.2,1810.3 2182.9,1810.4 2184.6,1810.4 2186.2,1810.5 2187.9,1810.5 2189.6,1810.6 2191.2,1810.6 2192.9,1810.7 2194.6,1810.7 2196.3,1810.7 2197.9,1810.8 2199.6,1810.8 2201.3,1810.9 2203.0,1810.9 2204.6,1810.9 2206.3,1811.0 2208.0,1811.0 2209.6,1811.1 2211.3,1811.1 2213.0,1811.1 2214.7,1811.2 2216.3,1811.2 2218.0,1811.2 2219.7,1811.3 2221.3,1811.3 2223.0,1811.3 2224.7,1811.4 2226.4,1811.4 2228.0,1811.4 2229.7,1811.5 2231.4,1811.5 2233.0,1811.5 2234.7,1811.5 2236.4,1811.6 2238.1,1811.6 2239.7,1811.6 2241.4,1811.6 2243.1,1811.7 2243.8,1811.7" fill="none" stroke="#000" stroke-width="9.4" stroke-linejoin="miter" stroke-miterlimit="10"/>
</g>
<path d="M214.4 1297.4H2276.6V1816.2H214.4ZM220.9 1303.5V1811.0H2271.7V1303.5Z" fill="#000" fill-rule="evenodd"/>
<path d="M217.7 1814.0h52.5M2274.1 1814.0h-52.5M217.7 1688.6h52.5M2274.1 1688.6h-52.5M217.7 1563.2h52.5M2274.1 1563.2h-52.5M217.7 1437.8h52.5M2274.1 1437.8h-52.5M217.7 1312.4h52.5M2274.1 1312.4h-52.5M217.7 1751.3h27M2274.1 1751.3h-27M217.7 1625.9h27M2274.1 1625.9h-27M217.7 1500.5h27M2274.1 1500.5h-27M217.7 1375.1h27M2274.1 1375.1h-27" stroke="#000" stroke-width="5.2" fill="none"/>
<path d="M226.2 1814.0v-51M560.5 1814.0v-51M894.8 1814.0v-51M1229.2 1814.0v-51M1563.5 1814.0v-51M1897.8 1814.0v-51M2232.1 1814.0v-51M393.4 1814.0v-25M727.7 1814.0v-25M1062.0 1814.0v-25M1396.3 1814.0v-25M1730.6 1814.0v-25M2065.0 1814.0v-25" stroke="#000" stroke-width="4.4" fill="none"/>
<text x="194" y="1838.5" font-size="71" text-anchor="end">0</text>
<text x="194" y="1713.1" font-size="71" text-anchor="end">1</text>
<text x="194" y="1587.7" font-size="71" text-anchor="end">2</text>
<text x="194" y="1462.3" font-size="71" text-anchor="end">3</text>
<text x="194" y="1336.9" font-size="71" text-anchor="end">4</text>
<text x="227.2" y="1889.5" font-size="71" text-anchor="middle">-4.8</text>
<text x="561.5" y="1889.5" font-size="71" text-anchor="middle">-4.4</text>
<text x="895.8" y="1889.5" font-size="71" text-anchor="middle">-4</text>
<text x="1230.2" y="1889.5" font-size="71" text-anchor="middle">-3.6</text>
<text x="1564.5" y="1889.5" font-size="71" text-anchor="middle">-3.2</text>
<text x="1898.8" y="1889.5" font-size="71" text-anchor="middle">-2.8</text>
<text x="2233.1" y="1889.5" font-size="71" text-anchor="middle">-2.4</text>
<text transform="translate(131.0 1555.2) rotate(-90)" font-size="91" text-anchor="middle">DOS</text>
<text x="911.5" y="1427.3" font-size="91.5" font-weight="bold">C3</text>
<g>
<polyline points="217.8,2456.0 219.5,2456.0 221.2,2456.0 222.9,2456.0 224.5,2456.0 226.2,2456.0 227.9,2456.0 229.5,2456.0 231.2,2456.0 232.9,2456.0 234.6,2456.0 236.2,2456.0 237.9,2456.0 239.6,2456.0 241.2,2456.0 242.9,2456.0 244.6,2456.0 246.3,2456.0 247.9,2456.0 249.6,2456.0 251.3,2456.0 252.9,2456.0 254.6,2456.0 256.3,2456.0 258.0,2456.0 259.6,2456.0 261.3,2456.0 263.0,2456.0 264.6,2456.0 266.3,2456.0 268.0,2456.0 269.7,2456.0 271.3,2456.0 273.0,2456.0 274.7,2456.0 276.3,2456.0 278.0,2456.0 279.7,2456.0 281.4,2456.0 283.0,2456.0 284.7,2456.0 286.4,2456.0 288.0,2456.0 289.7,2456.0 291.4,2456.0 293.1,2456.0 294.7,2456.0 296.4,2456.0 298.1,2456.0 299.8,2456.0 301.4,2456.0 303.1,2456.0 304.8,2456.0 306.4,2456.0 308.1,2456.0 309.8,2456.0 311.5,2456.0 313.1,2456.0 314.8,2456.0 316.5,2456.0 318.1,2456.0 319.8,2456.0 321.5,2456.0 323.2,2456.0 324.8,2456.0 326.5,2456.0 328.2,2456.0 329.8,2456.0 331.5,2456.0 333.2,2456.0 334.9,2456.0 336.5,2456.0 338.2,2456.0 339.9,2456.0 341.5,2456.0 343.2,2456.0 344.9,2456.0 346.6,2456.0 348.2,2456.0 349.9,2456.0 351.6,2456.0 353.2,2456.0 354.9,2456.0 356.6,2456.0 358.3,2456.0 359.9,2456.0 361.6,2456.0 363.3,2456.0 364.9,2456.0 366.6,2456.0 368.3,2456.0 370.0,2456.0 371.6,2456.0 373.3,2456.0 375.0,2456.0 376.6,2456.0 378.3,2456.0 380.0,2456.0 381.7,2456.0 383.3,2456.0 385.0,2456.0 386.7,2456.0 388.3,2456.0 390.0,2456.0 391.7,2456.0 393.4,2456.0 395.0,2456.0 396.7,2456.0 398.4,2456.0 400.0,2456.0 401.7,2456.0 403.4,2456.0 405.1,2456.0 406.7,2455.9 408.4,2455.9 410.1,2455.9 411.7,2455.8 413.4,2455.7 415.1,2455.6 416.8,2455.4 418.4,2455.2 420.1,2454.9 421.8,2454.5 423.4,2453.9 425.1,2453.2 426.8,2452.3 428.5,2451.1 430.1,2449.5 431.8,2447.6 433.5,2445.1 435.1,2442.0 436.8,2438.3 438.5,2433.7 440.2,2428.1 441.8,2421.5 443.5,2413.6 445.2,2404.5 446.9,2393.9 448.5,2381.7 450.2,2367.9 451.9,2352.5 453.5,2335.4 455.2,2316.7 456.9,2296.5 458.6,2275.0 460.2,2252.3 461.9,2228.7 463.6,2204.6 465.2,2180.3 466.9,2156.3 468.6,2133.0 470.3,2110.9 471.9,2090.5 473.6,2072.2 475.3,2056.4 476.9,2043.6 478.6,2034.0 480.3,2028.0 482.0,2025.5 483.6,2026.8 485.3,2031.8 487.0,2040.4 488.6,2052.2 490.3,2067.2 492.0,2084.7 493.7,2104.6 495.3,2126.3 497.0,2149.2 498.7,2173.1 500.3,2197.3 502.0,2221.5 503.7,2245.3 505.4,2268.3 507.0,2290.2 508.7,2310.8 510.4,2330.0 512.0,2347.5 513.7,2363.5 515.4,2377.7 517.1,2390.4 518.7,2401.4 520.4,2411.0 522.1,2419.3 523.7,2426.2 525.4,2432.1 527.1,2437.0 528.8,2441.0 530.4,2444.3 532.1,2446.9 533.8,2449.0 535.4,2450.7 537.1,2452.0 538.8,2453.0 540.5,2453.8 542.1,2454.3 543.8,2454.8 545.5,2455.1 547.1,2455.4 548.8,2455.6 550.5,2455.7 552.2,2455.8 553.8,2455.8 555.5,2455.9 557.2,2455.9 558.8,2456.0 560.5,2456.0 562.2,2456.0 563.9,2456.0 565.5,2456.0 567.2,2456.0 568.9,2456.0 570.5,2456.0 572.2,2456.0 573.9,2456.0 575.6,2456.0 577.2,2456.0 578.9,2456.0 580.6,2456.0 582.3,2456.0 583.9,2456.0 585.6,2456.0 587.3,2456.0 588.9,2456.0 590.6,2456.0 592.3,2456.0 594.0,2456.0 595.6,2456.0 597.3,2456.0 599.0,2456.0 600.6,2456.0 602.3,2456.0 604.0,2456.0 605.7,2456.0 607.3,2456.0 609.0,2456.0 610.7,2456.0 612.3,2456.0 614.0,2456.0 615.7,2456.0 617.4,2456.0 619.0,2456.0 620.7,2456.0 622.4,2456.0 624.0,2456.0 625.7,2456.0 627.4,2456.0 629.1,2456.0 630.7,2456.0 632.4,2456.0 634.1,2456.0 635.7,2456.0 637.4,2456.0 639.1,2456.0 640.8,2456.0 642.4,2455.9 644.1,2455.9 645.8,2455.9 647.4,2455.8 649.1,2455.7 650.8,2455.6 652.5,2455.4 654.1,2455.2 655.8,2455.0 657.5,2454.6 659.1,2454.1 660.8,2453.5 662.5,2452.7 664.2,2451.7 665.8,2450.5 667.5,2448.9 669.2,2447.0 670.8,2444.7 672.5,2441.9 674.2,2438.6 675.9,2434.6 677.5,2430.0 679.2,2424.6 680.9,2418.5 682.5,2411.6 684.2,2403.8 685.9,2395.3 687.6,2385.9 689.2,2375.7 690.9,2364.9 692.6,2353.6 694.2,2341.8 695.9,2329.7 697.6,2317.6 699.3,2305.6 700.9,2293.9 702.6,2282.9 704.3,2272.8 705.9,2263.7 707.6,2255.8 709.3,2249.5 711.0,2244.8 712.6,2241.9 714.3,2240.8 716.0,2241.5 717.7,2244.1 719.3,2248.4 721.0,2254.5 722.7,2262.0 724.3,2270.8 726.0,2280.8 727.7,2291.7 729.4,2303.2 731.0,2315.1 732.7,2327.2 734.4,2339.3 736.0,2351.1 737.7,2362.6 739.4,2373.4 741.1,2383.6 742.7,2393.1 744.4,2401.7 746.1,2409.4 747.7,2416.2 749.4,2422.2 751.1,2427.3 752.8,2431.4 754.4,2434.8 756.1,2437.3 757.8,2439.1 759.4,2440.0 761.1,2440.2 762.8,2439.6 764.5,2438.3 766.1,2436.2 767.8,2433.2 769.5,2429.5 771.1,2424.8 772.8,2419.3 774.5,2412.9 776.2,2405.7 777.8,2397.5 779.5,2388.5 781.2,2378.6 782.8,2368.1 784.5,2356.9 786.2,2345.3 787.9,2333.3 789.5,2321.2 791.2,2309.1 792.9,2297.4 794.5,2286.1 796.2,2275.7 797.9,2266.3 799.6,2258.0 801.2,2251.2 802.9,2246.0 804.6,2242.6 806.2,2240.9 807.9,2241.1 809.6,2243.1 811.3,2247.0 812.9,2252.5 814.6,2259.6 816.3,2268.1 817.9,2277.7 819.6,2288.3 821.3,2299.7 823.0,2311.5 824.6,2323.6 826.3,2335.7 828.0,2347.7 829.6,2359.3 831.3,2370.4 833.0,2380.9 834.7,2390.7 836.3,2399.7 838.0,2407.8 839.7,2415.2 841.3,2421.7 843.0,2427.4 844.7,2432.4 846.4,2436.7 848.0,2440.3 849.7,2443.4 851.4,2445.9 853.0,2448.0 854.7,2449.7 856.4,2451.1 858.1,2452.3 859.7,2453.1 861.4,2453.8 863.1,2454.4 864.8,2454.8 866.4,2455.1 868.1,2455.3 869.8,2455.5 871.4,2455.7 873.1,2455.8 874.8,2455.8 876.5,2455.9 878.1,2455.9 879.8,2455.9 881.5,2456.0 883.1,2456.0 884.8,2456.0 886.5,2456.0 888.2,2456.0 889.8,2456.0 891.5,2456.0 893.2,2456.0 894.8,2456.0 896.5,2456.0 898.2,2456.0 899.9,2456.0 901.5,2456.0 903.2,2456.0 904.9,2456.0 906.5,2456.0 908.2,2456.0 909.9,2456.0 911.6,2456.0 913.2,2456.0 914.9,2456.0 916.6,2456.0 918.2,2456.0 919.9,2456.0 921.6,2456.0 923.3,2456.0 924.9,2456.0 926.6,2456.0 928.3,2456.0 929.9,2456.0 931.6,2456.0 933.3,2456.0 935.0,2456.0 936.6,2456.0 938.3,2456.0 940.0,2456.0 941.6,2456.0 943.3,2456.0 945.0,2456.0 946.7,2456.0 948.3,2456.0 950.0,2456.0 951.7,2456.0 953.3,2456.0 955.0,2456.0 956.7,2456.0 958.4,2456.0 960.0,2456.0 961.7,2456.0 963.4,2456.0 965.0,2456.0 966.7,2456.0 968.4,2456.0 970.1,2456.0 971.7,2456.0 973.4,2456.0 975.1,2456.0 976.7,2456.0 978.4,2456.0 980.1,2456.0 981.8,2456.0 983.4,2456.0 985.1,2456.0 986.8,2456.0 988.4,2456.0 990.1,2456.0 991.8,2456.0 993.5,2456.0 995.1,2456.0 996.8,2456.0 998.5,2456.0 1000.2,2456.0 1001.8,2456.0 1003.5,2456.0 1005.2,2456.0 1006.8,2456.0 1008.5,2456.0 1010.2,2456.0 1011.9,2456.0 1013.5,2456.0 1015.2,2456.0 1016.9,2456.0 1018.5,2456.0 1020.2,2456.0 1021.9,2456.0 1023.6,2456.0 1025.2,2456.0 1026.9,2456.0 1028.6,2456.0 1030.2,2456.0 1031.9,2456.0 1033.6,2456.0 1035.3,2456.0 1036.9,2456.0 1038.6,2456.0 1040.3,2456.0 1041.9,2456.0 1043.6,2456.0 1045.3,2456.0 1047.0,2456.0 1048.6,2456.0 1050.3,2456.0 1052.0,2456.0 1053.6,2456.0 1055.3,2456.0 1057.0,2456.0 1058.7,2456.0 1060.3,2456.0 1062.0,2456.0 1063.7,2456.0 1065.3,2456.0 1067.0,2456.0 1068.7,2456.0 1070.4,2456.0 1072.0,2456.0 1073.7,2456.0 1075.4,2456.0 1077.0,2456.0 1078.7,2456.0 1080.4,2456.0 1082.1,2456.0 1083.7,2456.0 1085.4,2456.0 1087.1,2456.0 1088.7,2456.0 1090.4,2456.0 1092.1,2456.0 1093.8,2456.0 1095.4,2456.0 1097.1,2456.0 1098.8,2456.0 1100.4,2456.0 1102.1,2456.0 1103.8,2456.0 1105.5,2456.0 1107.1,2456.0 1108.8,2456.0 1110.5,2456.0 1112.1,2456.0 1113.8,2456.0 1115.5,2456.0 1117.2,2456.0 1118.8,2456.0 1120.5,2456.0 1122.2,2456.0 1123.8,2456.0 1125.5,2456.0 1127.2,2456.0 1128.9,2456.0 1130.5,2456.0 1132.2,2456.0 1133.9,2456.0 1135.6,2456.0 1137.2,2456.0 1138.9,2456.0 1140.6,2456.0 1142.2,2456.0 1143.9,2456.0 1145.6,2456.0 1147.3,2456.0 1148.9,2456.0 1150.6,2456.0 1152.3,2456.0 1153.9,2456.0 1155.6,2456.0 1157.3,2456.0 1159.0,2455.9 1160.6,2455.9 1162.3,2455.9 1164.0,2455.8 1165.6,2455.8 1167.3,2455.7 1169.0,2455.6 1170.7,2455.4 1172.3,2455.2 1174.0,2454.9 1175.7,2454.6 1177.3,2454.1 1179.0,2453.4 1180.7,2452.7 1182.4,2451.7 1184.0,2450.4 1185.7,2448.8 1187.4,2446.9 1189.0,2444.6 1190.7,2441.9 1192.4,2438.5 1194.1,2434.7 1195.7,2430.1 1197.4,2424.9 1199.1,2418.9 1200.7,2412.1 1202.4,2404.6 1204.1,2396.2 1205.8,2387.1 1207.4,2377.3 1209.1,2366.8 1210.8,2355.8 1212.4,2344.3 1214.1,2332.5 1215.8,2320.5 1217.5,2308.6 1219.1,2296.8 1220.8,2285.5 1222.5,2274.6 1224.1,2264.5 1225.8,2255.1 1227.5,2246.7 1229.2,2239.3 1230.8,2233.0 1232.5,2227.7 1234.2,2223.4 1235.8,2220.1 1237.5,2217.6 1239.2,2215.8 1240.9,2214.7 1242.5,2214.0 1244.2,2213.6 1245.9,2213.4 1247.5,2213.4 1249.2,2213.4 1250.9,2213.4 1252.6,2213.4 1254.2,2213.4 1255.9,2213.6 1257.6,2214.0 1259.2,2214.7 1260.9,2215.8 1262.6,2217.6 1264.3,2220.1 1265.9,2223.4 1267.6,2227.7 1269.3,2233.0 1270.9,2239.3 1272.6,2246.7 1274.3,2255.1 1276.0,2264.5 1277.6,2274.6 1279.3,2285.5 1281.0,2296.8 1282.7,2308.6 1284.3,2320.5 1286.0,2332.5 1287.7,2344.3 1289.3,2355.8 1291.0,2366.8 1292.7,2377.3 1294.4,2387.1 1296.0,2396.2 1297.7,2404.6 1299.4,2412.1 1301.0,2418.9 1302.7,2424.9 1304.4,2430.1 1306.1,2434.7 1307.7,2438.5 1309.4,2441.9 1311.1,2444.6 1312.7,2446.9 1314.4,2448.8 1316.1,2450.4 1317.8,2451.7 1319.4,2452.7 1321.1,2453.4 1322.8,2454.1 1324.4,2454.6 1326.1,2454.9 1327.8,2455.2 1329.5,2455.4 1331.1,2455.6 1332.8,2455.7 1334.5,2455.8 1336.1,2455.8 1337.8,2455.9 1339.5,2455.9 1341.2,2455.9 1342.8,2456.0 1344.5,2456.0 1346.2,2456.0 1347.8,2456.0 1349.5,2456.0 1351.2,2456.0 1352.9,2456.0 1354.5,2456.0 1356.2,2456.0 1357.9,2456.0 1359.5,2456.0 1361.2,2456.0 1362.9,2456.0 1364.6,2456.0 1366.2,2456.0 1367.9,2456.0 1369.6,2456.0 1371.2,2456.0 1372.9,2456.0 1374.6,2456.0 1376.3,2456.0 1377.9,2456.0 1379.6,2456.0 1381.3,2456.0 1382.9,2456.0 1384.6,2456.0 1386.3,2456.0 1388.0,2456.0 1389.6,2456.0 1391.3,2456.0 1393.0,2456.0 1394.6,2456.0 1396.3,2456.0 1398.0,2456.0 1399.7,2456.0 1401.3,2456.0 1403.0,2456.0 1404.7,2456.0 1406.3,2456.0 1408.0,2456.0 1409.7,2456.0 1411.4,2456.0 1413.0,2456.0 1414.7,2456.0 1416.4,2456.0 1418.1,2456.0 1419.7,2456.0 1421.4,2456.0 1423.1,2456.0 1424.7,2456.0 1426.4,2456.0 1428.1,2456.0 1429.8,2456.0 1431.4,2456.0 1433.1,2456.0 1434.8,2456.0 1436.4,2456.0 1438.1,2456.0 1439.8,2456.0 1441.5,2456.0 1443.1,2456.0 1444.8,2456.0 1446.5,2456.0 1448.1,2456.0 1449.8,2456.0 1451.5,2456.0 1453.2,2456.0 1454.8,2456.0 1456.5,2456.0 1458.2,2456.0 1459.8,2456.0 1461.5,2456.0 1463.2,2456.0 1464.9,2456.0 1466.5,2456.0 1468.2,2456.0 1469.9,2456.0 1471.5,2456.0 1473.2,2456.0 1474.9,2456.0 1476.6,2456.0 1478.2,2456.0 1479.9,2456.0 1481.6,2456.0 1483.2,2456.0 1484.9,2456.0 1486.6,2456.0 1488.3,2456.0 1489.9,2456.0 1491.6,2456.0 1493.3,2456.0 1494.9,2456.0 1496.6,2456.0 1498.3,2456.0 1500.0,2456.0 1501.6,2456.0 1503.3,2456.0 1505.0,2456.0 1506.6,2456.0 1508.3,2456.0 1510.0,2456.0 1511.7,2456.0 1513.3,2456.0 1515.0,2456.0 1516.7,2456.0 1518.3,2456.0 1520.0,2456.0 1521.7,2456.0 1523.4,2456.0 1525.0,2456.0 1526.7,2456.0 1528.4,2456.0 1530.0,2456.0 1531.7,2456.0 1533.4,2456.0 1535.1,2456.0 1536.7,2456.0 1538.4,2456.0 1540.1,2456.0 1541.7,2456.0 1543.4,2456.0 1545.1,2456.0 1546.8,2456.0 1548.4,2456.0 1550.1,2456.0 1551.8,2456.0 1553.5,2456.0 1555.1,2456.0 1556.8,2456.0 1558.5,2456.0 1560.1,2456.0 1561.8,2456.0 1563.5,2456.0 1565.2,2456.0 1566.8,2456.0 1568.5,2456.0 1570.2,2456.0 1571.8,2456.0 1573.5,2456.0 1575.2,2456.0 1576.9,2456.0 1578.5,2456.0 1580.2,2456.0 1581.9,2456.0 1583.5,2456.0 1585.2,2456.0 1586.9,2456.0 1588.6,2456.0 1590.2,2456.0 1591.9,2455.9 1593.6,2455.9 1595.2,2455.9 1596.9,2455.8 1598.6,2455.8 1600.3,2455.7 1601.9,2455.5 1603.6,2455.4 1605.3,2455.1 1606.9,2454.8 1608.6,2454.4 1610.3,2453.9 1612.0,2453.3 1613.6,2452.4 1615.3,2451.3 1617.0,2450.0 1618.6,2448.3 1620.3,2446.3 1622.0,2443.8 1623.7,2440.8 1625.3,2437.2 1627.0,2433.1 1628.7,2428.2 1630.3,2422.6 1632.0,2416.2 1633.7,2409.0 1635.4,2400.9 1637.0,2392.1 1638.7,2382.4 1640.4,2372.0 1642.0,2361.0 1643.7,2349.5 1645.4,2337.6 1647.1,2325.4 1648.7,2313.3 1650.4,2301.4 1652.1,2290.0 1653.7,2279.3 1655.4,2269.4 1657.1,2260.8 1658.8,2253.5 1660.4,2247.7 1662.1,2243.6 1663.8,2241.3 1665.4,2240.8 1667.1,2242.2 1668.8,2245.4 1670.5,2250.4 1672.1,2256.9 1673.8,2264.9 1675.5,2274.2 1677.1,2284.5 1678.8,2295.6 1680.5,2307.2 1682.2,2319.2 1683.8,2331.3 1685.5,2343.2 1687.2,2354.8 1688.8,2366.0 1690.5,2376.5 1692.2,2386.2 1693.9,2395.1 1695.5,2403.0 1697.2,2410.0 1698.9,2415.9 1700.6,2420.9 1702.2,2424.8 1703.9,2427.6 1705.6,2429.5 1707.2,2430.3 1708.9,2430.0 1710.6,2428.8 1712.3,2426.5 1713.9,2423.1 1715.6,2418.8 1717.3,2413.4 1718.9,2407.0 1720.6,2399.5 1722.3,2391.2 1724.0,2381.9 1725.6,2371.8 1727.3,2361.0 1729.0,2349.7 1730.6,2337.9 1732.3,2325.9 1734.0,2313.8 1735.7,2301.9 1737.3,2290.5 1739.0,2279.7 1740.7,2269.9 1742.3,2261.2 1744.0,2253.8 1745.7,2247.9 1747.4,2243.7 1749.0,2241.3 1750.7,2240.8 1752.4,2242.1 1754.0,2245.2 1755.7,2250.1 1757.4,2256.6 1759.1,2264.5 1760.7,2273.7 1762.4,2284.0 1764.1,2295.1 1765.7,2306.8 1767.4,2318.8 1769.1,2330.9 1770.8,2343.0 1772.4,2354.7 1774.1,2366.0 1775.8,2376.8 1777.4,2386.8 1779.1,2396.2 1780.8,2404.7 1782.5,2412.3 1784.1,2419.2 1785.8,2425.2 1787.5,2430.5 1789.1,2435.0 1790.8,2438.9 1792.5,2442.2 1794.2,2445.0 1795.8,2447.2 1797.5,2449.1 1799.2,2450.6 1800.8,2451.8 1802.5,2452.8 1804.2,2453.6 1805.9,2454.2 1807.5,2454.6 1809.2,2455.0 1810.9,2455.3 1812.5,2455.5 1814.2,2455.6 1815.9,2455.7 1817.6,2455.8 1819.2,2455.9 1820.9,2455.9 1822.6,2455.9 1824.2,2456.0 1825.9,2456.0 1827.6,2456.0 1829.3,2456.0 1830.9,2456.0 1832.6,2456.0 1834.3,2456.0 1836.0,2456.0 1837.6,2456.0 1839.3,2456.0 1841.0,2456.0 1842.6,2456.0 1844.3,2456.0 1846.0,2456.0 1847.7,2456.0 1849.3,2456.0 1851.0,2456.0 1852.7,2456.0 1854.3,2456.0 1856.0,2456.0 1857.7,2456.0 1859.4,2456.0 1861.0,2456.0 1862.7,2456.0 1864.4,2456.0 1866.0,2456.0 1867.7,2456.0 1869.4,2456.0 1871.1,2456.0 1872.7,2456.0 1874.4,2456.0 1876.1,2456.0 1877.7,2456.0 1879.4,2456.0 1881.1,2456.0 1882.8,2456.0 1884.4,2456.0 1886.1,2456.0 1887.8,2456.0 1889.4,2456.0 1891.1,2456.0 1892.8,2456.0 1894.5,2456.0 1896.1,2456.0 1897.8,2456.0 1899.5,2456.0 1901.1,2456.0 1902.8,2456.0 1904.5,2456.0 1906.2,2456.0 1907.8,2456.0 1909.5,2456.0 1911.2,2456.0 1912.8,2456.0 1914.5,2456.0 1916.2,2456.0 1917.9,2456.0 1919.5,2456.0 1921.2,2456.0 1922.9,2456.0 1924.5,2456.0 1926.2,2456.0 1927.9,2456.0 1929.6,2456.0 1931.2,2456.0 1932.9,2456.0 1934.6,2456.0 1936.2,2456.0 1937.9,2456.0 1939.6,2455.9 1941.3,2455.9 1942.9,2455.8 1944.6,2455.8 1946.3,2455.7 1947.9,2455.6 1949.6,2455.4 1951.3,2455.1 1953.0,2454.8 1954.6,2454.3 1956.3,2453.8 1958.0,2453.0 1959.6,2452.0 1961.3,2450.7 1963.0,2449.0 1964.7,2446.9 1966.3,2444.3 1968.0,2441.0 1969.7,2437.0 1971.4,2432.1 1973.0,2426.2 1974.7,2419.3 1976.4,2411.0 1978.0,2401.4 1979.7,2390.4 1981.4,2377.7 1983.1,2363.5 1984.7,2347.5 1986.4,2330.0 1988.1,2310.8 1989.7,2290.2 1991.4,2268.3 1993.1,2245.3 1994.8,2221.5 1996.4,2197.3 1998.1,2173.1 1999.8,2149.2 2001.4,2126.3 2003.1,2104.6 2004.8,2084.7 2006.5,2067.2 2008.1,2052.2 2009.8,2040.4 2011.5,2031.8 2013.1,2026.8 2014.8,2025.5 2016.5,2028.0 2018.2,2034.0 2019.8,2043.6 2021.5,2056.4 2023.2,2072.2 2024.8,2090.5 2026.5,2110.9 2028.2,2133.0 2029.9,2156.3 2031.5,2180.3 2033.2,2204.6 2034.9,2228.7 2036.5,2252.3 2038.2,2275.0 2039.9,2296.5 2041.6,2316.7 2043.2,2335.4 2044.9,2352.5 2046.6,2367.9 2048.2,2381.7 2049.9,2393.9 2051.6,2404.5 2053.3,2413.6 2054.9,2421.5 2056.6,2428.1 2058.3,2433.7 2059.9,2438.3 2061.6,2442.0 2063.3,2445.1 2065.0,2447.6 2066.6,2449.5 2068.3,2451.1 2070.0,2452.3 2071.6,2453.2 2073.3,2453.9 2075.0,2454.5 2076.7,2454.9 2078.3,2455.2 2080.0,2455.4 2081.7,2455.6 2083.3,2455.7 2085.0,2455.8 2086.7,2455.9 2088.4,2455.9 2090.0,2455.9 2091.7,2456.0 2093.4,2456.0 2095.0,2456.0 2096.7,2456.0 2098.4,2456.0 2100.1,2456.0 2101.7,2456.0 2103.4,2456.0 2105.1,2456.0 2106.7,2456.0 2108.4,2456.0 2110.1,2456.0 2111.8,2456.0 2113.4,2456.0 2115.1,2456.0 2116.8,2456.0 2118.5,2456.0 2120.1,2456.0 2121.8,2456.0 2123.5,2456.0 2125.1,2456.0 2126.8,2456.0 2128.5,2456.0 2130.2,2456.0 2131.8,2456.0 2133.5,2456.0 2135.2,2456.0 2136.8,2456.0 2138.5,2456.0 2140.2,2456.0 2141.9,2456.0 2143.5,2456.0 2145.2,2456.0 2146.9,2456.0 2148.5,2456.0 2150.2,2456.0 2151.9,2456.0 2153.6,2456.0 2155.2,2456.0 2156.9,2456.0 2158.6,2456.0 2160.2,2456.0 2161.9,2456.0 2163.6,2456.0 2165.3,2456.0 2166.9,2456.0 2168.6,2456.0 2170.3,2456.0 2171.9,2456.0 2173.6,2456.0 2175.3,2456.0 2177.0,2456.0 2178.6,2456.0 2180.3,2456.0 2182.0,2456.0 2183.6,2456.0 2185.3,2456.0 2187.0,2456.0 2188.7,2456.0 2190.3,2456.0 2192.0,2456.0 2193.7,2456.0 2195.3,2456.0 2197.0,2456.0 2198.7,2456.0 2200.4,2456.0 2202.0,2456.0 2203.7,2456.0 2205.4,2456.0 2207.0,2456.0 2208.7,2456.0 2210.4,2456.0 2212.1,2456.0 2213.7,2456.0 2215.4,2456.0 2217.1,2456.0 2218.7,2456.0 2220.4,2456.0 2222.1,2456.0 2223.8,2456.0 2225.4,2456.0 2227.1,2456.0 2228.8,2456.0 2230.4,2456.0 2232.1,2456.0 2233.8,2456.0 2235.5,2456.0 2237.1,2456.0 2238.8,2456.0 2240.5,2456.0 2242.1,2456.0 2243.8,2456.0 2245.5,2456.0 2247.2,2456.0 2248.8,2456.0 2250.5,2456.0 2252.2,2456.0 2253.9,2456.0 2255.5,2456.0 2257.2,2456.0 2258.9,2456.0 2260.5,2456.0 2262.2,2456.0 2263.9,2456.0 2265.6,2456.0 2267.2,2456.0 2268.9,2456.0 2270.6,2456.0 2272.2,2456.0 2273.9,2456.0" fill="none" stroke="#f00" stroke-width="9.4" stroke-linejoin="round" stroke-miterlimit="10"/>
<polyline points="217.8,2454.1 218.4,2454.1 220.1,2454.1 221.7,2454.1 223.4,2454.1 225.1,2454.1 226.8,2454.0 228.4,2454.0 230.1,2454.0 231.8,2454.0 233.4,2454.0 235.1,2453.9 236.8,2453.9 238.5,2453.9 240.1,2453.9 241.8,2453.8 243.5,2453.8 245.1,2453.8 246.8,2453.8 248.5,2453.7 250.2,2453.7 251.8,2453.7 253.5,2453.7 255.2,2453.6 256.8,2453.6 258.5,2453.6 260.2,2453.6 261.9,2453.5 263.5,2453.5 265.2,2453.5 266.9,2453.5 268.5,2453.4 270.2,2453.4 271.9,2453.4 273.6,2453.3 275.2,2453.3 276.9,2453.3 278.6,2453.2 280.2,2453.2 281.9,2453.2 283.6,2453.1 285.3,2453.1 286.9,2453.0 288.6,2453.0 290.3,2453.0 291.9,2452.9 293.6,2452.9 295.3,2452.8 297.0,2452.8 298.6,2452.8 300.3,2452.7 302.0,2452.7 303.6,2452.6 305.3,2452.6 307.0,2452.5 308.7,2452.5 310.3,2452.4 312.0,2452.4 313.7,2452.3 315.3,2452.3 317.0,2452.2 318.7,2452.1 320.4,2452.1 322.0,2452.0 323.7,2452.0 325.4,2451.9 327.0,2451.8 328.7,2451.8 330.4,2451.7 332.1,2451.6 333.7,2451.5 335.4,2451.5 337.1,2451.4 338.7,2451.3 340.4,2451.2 342.1,2451.1 343.8,2451.0 345.4,2451.0 347.1,2450.9 348.8,2450.8 350.4,2450.7 352.1,2450.6 353.8,2450.5 355.5,2450.4 357.1,2450.2 358.8,2450.1 360.5,2450.0 362.1,2449.9 363.8,2449.8 365.5,2449.6 367.2,2449.5 368.8,2449.4 370.5,2449.2 372.2,2449.1 373.9,2448.9 375.5,2448.7 377.2,2448.6 378.9,2448.4 380.5,2448.2 382.2,2448.0 383.9,2447.8 385.6,2447.6 387.2,2447.4 388.9,2447.2 390.6,2447.0 392.2,2446.7 393.9,2446.5 395.6,2446.2 397.3,2446.0 398.9,2445.7 400.6,2445.4 402.3,2445.1 403.9,2444.8 405.6,2444.4 407.3,2444.1 409.0,2443.7 410.6,2443.3 412.3,2442.9 414.0,2442.5 415.6,2442.0 417.3,2441.5 419.0,2441.0 420.7,2440.5 422.3,2440.0 424.0,2439.4 425.7,2438.7 427.3,2438.1 429.0,2437.4 430.7,2436.6 432.4,2435.8 434.0,2435.0 435.7,2434.1 437.4,2433.2 439.0,2432.1 440.7,2431.0 442.4,2429.9 444.1,2428.6 445.7,2427.3 447.4,2425.8 449.1,2424.2 450.7,2422.6 452.4,2420.7 454.1,2418.7 455.8,2416.6 457.4,2414.2 459.1,2411.7 460.8,2408.9 462.4,2405.8 464.1,2402.4 465.8,2398.7 467.5,2394.7 469.1,2390.1 470.8,2385.1 472.5,2379.6 474.1,2373.4 475.8,2366.4 477.5,2358.7 479.2,2350.0 480.8,2340.3 482.5,2329.3 484.2,2316.9 485.8,2303.1 487.5,2287.5 489.2,2270.1 490.9,2250.7 492.5,2229.3 494.2,2206.1 495.9,2181.4 497.5,2155.7 499.2,2130.0 500.9,2105.8 502.6,2084.6 504.2,2068.3 505.9,2058.5 507.6,2056.3 509.3,2062.1 510.9,2075.0 512.6,2093.9 514.3,2116.8 516.0,2141.9 517.6,2167.8 519.3,2193.2 521.0,2217.3 522.7,2239.6 524.4,2260.0 526.0,2278.5 527.7,2294.9 529.4,2309.7 531.1,2322.7 532.7,2334.3 534.4,2344.6 536.1,2353.8 537.8,2362.0 539.5,2369.2 541.1,2375.7 542.8,2381.6 544.5,2386.8 546.2,2391.5 547.8,2395.7 549.5,2399.5 551.2,2403.0 552.9,2406.1 554.6,2409.0 556.2,2411.6 557.9,2414.0 559.6,2416.2 561.3,2418.2 562.9,2420.0 564.6,2421.7 566.3,2423.3 568.0,2424.7 569.7,2426.0 571.3,2427.2 573.0,2428.4 574.7,2429.4 576.4,2430.4 578.0,2431.3 579.7,2432.1 581.4,2432.9 583.1,2433.6 584.8,2434.3 586.4,2434.9 588.1,2435.5 589.8,2436.1 591.5,2436.6 593.1,2437.0 594.8,2437.5 596.5,2437.9 598.2,2438.2 599.9,2438.6 601.5,2438.9 603.2,2439.2 604.9,2439.5 606.6,2439.7 608.2,2439.9 609.9,2440.1 611.6,2440.3 613.3,2440.4 615.0,2440.6 616.6,2440.7 618.3,2440.8 620.0,2440.9 621.7,2440.9 623.3,2441.0 625.0,2441.0 626.7,2441.0 628.4,2440.9 630.1,2440.9 631.7,2440.8 633.4,2440.8 635.1,2440.7 636.8,2440.5 638.4,2440.4 640.1,2440.2 641.8,2440.0 643.5,2439.8 645.2,2439.6 646.8,2439.3 648.5,2439.0 650.2,2438.6 651.9,2438.3 653.5,2437.8 655.2,2437.4 656.9,2436.9 658.6,2436.4 660.3,2435.8 661.9,2435.1 663.6,2434.4 665.3,2433.6 667.0,2432.7 668.6,2431.8 670.3,2430.8 672.0,2429.6 673.7,2428.4 675.4,2427.0 677.0,2425.5 678.7,2423.9 680.4,2422.0 682.1,2420.0 683.7,2417.7 685.4,2415.2 687.1,2412.4 688.8,2409.2 690.5,2405.7 692.1,2401.8 693.8,2397.3 695.5,2392.4 697.2,2386.7 698.8,2380.4 700.5,2373.3 702.2,2365.3 703.9,2356.3 705.6,2346.4 707.2,2335.5 708.9,2323.6 710.6,2311.1 712.3,2298.1 713.9,2285.3 715.6,2273.5 717.3,2263.4 719.0,2256.0 720.7,2252.1 722.3,2252.0 724.0,2255.9 725.7,2263.1 727.3,2273.0 729.0,2284.7 730.7,2297.4 732.3,2310.2 734.0,2322.6 735.7,2334.4 737.3,2345.2 739.0,2355.1 740.7,2364.0 742.3,2372.0 744.0,2379.1 745.6,2385.4 747.3,2391.0 749.0,2396.0 750.6,2400.4 752.3,2404.3 754.0,2407.8 755.6,2410.9 757.3,2413.7 759.0,2416.1 760.6,2418.4 762.3,2420.3 764.0,2422.1 765.6,2423.7 767.3,2425.1 769.0,2426.4 770.6,2427.6 772.3,2428.6 774.0,2429.5 775.6,2430.4 777.3,2431.1 779.0,2431.8 780.6,2432.3 782.3,2432.8 784.0,2433.3 785.6,2433.6 787.3,2434.0 788.9,2434.2 790.6,2434.4 792.3,2434.6 793.9,2434.7 795.6,2434.7 797.3,2434.7 798.9,2434.6 800.6,2434.5 802.3,2434.3 803.9,2434.1 805.6,2433.8 807.3,2433.5 808.9,2433.1 810.6,2432.6 812.3,2432.1 813.9,2431.5 815.6,2430.8 817.3,2430.0 818.9,2429.1 820.6,2428.1 822.3,2427.0 823.9,2425.8 825.6,2424.4 827.3,2422.9 828.9,2421.2 830.6,2419.3 832.2,2417.1 833.9,2414.7 835.6,2412.1 837.2,2409.1 838.9,2405.7 840.6,2401.9 842.2,2397.6 843.9,2392.8 845.6,2387.4 847.2,2381.3 848.9,2374.4 850.6,2366.7 852.2,2358.0 853.9,2348.4 855.6,2337.7 857.2,2326.2 858.9,2313.9 860.6,2301.2 862.2,2288.5 863.9,2276.5 865.6,2266.2 867.2,2258.3 868.9,2253.6 870.6,2252.8 872.2,2255.9 873.9,2262.5 875.6,2272.0 877.2,2283.5 878.9,2296.1 880.6,2309.0 882.2,2321.7 883.9,2333.7 885.6,2344.9 887.3,2355.1 888.9,2364.4 890.6,2372.6 892.3,2380.0 893.9,2386.6 895.6,2392.4 897.3,2397.6 898.9,2402.2 900.6,2406.4 902.3,2410.1 904.0,2413.3 905.6,2416.3 907.3,2419.0 909.0,2421.4 910.6,2423.5 912.3,2425.5 914.0,2427.3 915.6,2428.9 917.3,2430.4 919.0,2431.7 920.7,2432.9 922.3,2434.1 924.0,2435.1 925.7,2436.1 927.3,2437.0 929.0,2437.8 930.7,2438.5 932.3,2439.3 934.0,2439.9 935.7,2440.5 937.4,2441.1 939.0,2441.6 940.7,2442.1 942.4,2442.6 944.0,2443.0 945.7,2443.4 947.4,2443.8 949.0,2444.2 950.7,2444.5 952.4,2444.8 954.1,2445.1 955.7,2445.4 957.4,2445.7 959.1,2445.9 960.7,2446.2 962.4,2446.4 964.1,2446.6 965.7,2446.8 967.4,2447.0 969.1,2447.2 970.8,2447.3 972.4,2447.5 974.1,2447.7 975.8,2447.8 977.4,2447.9 979.1,2448.1 980.8,2448.2 982.4,2448.3 984.1,2448.4 985.8,2448.5 987.5,2448.6 989.1,2448.7 990.8,2448.8 992.5,2448.9 994.1,2449.0 995.8,2449.1 997.5,2449.1 999.1,2449.2 1000.8,2449.3 1002.5,2449.3 1004.2,2449.4 1005.8,2449.4 1007.5,2449.5 1009.2,2449.5 1010.8,2449.6 1012.5,2449.6 1014.2,2449.6 1015.8,2449.7 1017.5,2449.7 1019.2,2449.7 1020.9,2449.8 1022.5,2449.8 1024.2,2449.8 1025.9,2449.8 1027.5,2449.8 1029.2,2449.8 1030.9,2449.8 1032.5,2449.9 1034.2,2449.9 1035.9,2449.9 1037.6,2449.9 1039.2,2449.9 1040.9,2449.8 1042.6,2449.8 1044.2,2449.8 1045.9,2449.8 1047.6,2449.8 1049.2,2449.8 1050.9,2449.8 1052.6,2449.7 1054.3,2449.7 1055.9,2449.7 1057.6,2449.6 1059.3,2449.6 1060.9,2449.6 1062.6,2449.5 1064.3,2449.5 1065.9,2449.4 1067.6,2449.4 1069.3,2449.3 1071.0,2449.3 1072.6,2449.2 1074.3,2449.2 1076.0,2449.1 1077.6,2449.0 1079.3,2449.0 1081.0,2448.9 1082.6,2448.8 1084.3,2448.7 1086.0,2448.6 1087.7,2448.5 1089.3,2448.4 1091.0,2448.3 1092.7,2448.2 1094.3,2448.1 1096.0,2448.0 1097.7,2447.9 1099.3,2447.8 1101.0,2447.6 1102.7,2447.5 1104.4,2447.3 1106.0,2447.2 1107.7,2447.0 1109.4,2446.9 1111.0,2446.7 1112.7,2446.5 1114.4,2446.3 1116.0,2446.1 1117.7,2445.9 1119.4,2445.7 1121.1,2445.4 1122.7,2445.2 1124.4,2444.9 1126.1,2444.7 1127.7,2444.4 1129.4,2444.1 1131.1,2443.8 1132.7,2443.4 1134.4,2443.1 1136.1,2442.7 1137.8,2442.3 1139.4,2441.9 1141.1,2441.5 1142.8,2441.0 1144.4,2440.5 1146.1,2440.0 1147.8,2439.5 1149.4,2438.9 1151.1,2438.3 1152.8,2437.6 1154.5,2436.9 1156.1,2436.2 1157.8,2435.4 1159.5,2434.5 1161.1,2433.6 1162.8,2432.6 1164.5,2431.6 1166.2,2430.4 1167.8,2429.2 1169.5,2427.9 1171.2,2426.4 1172.8,2424.9 1174.5,2423.2 1176.2,2421.3 1177.8,2419.3 1179.5,2417.1 1181.2,2414.7 1182.9,2412.0 1184.5,2409.1 1186.2,2405.9 1187.9,2402.3 1189.5,2398.3 1191.2,2393.9 1192.9,2389.0 1194.5,2383.5 1196.2,2377.4 1197.9,2370.5 1199.6,2362.8 1201.2,2354.2 1202.9,2344.6 1204.6,2333.9 1206.2,2322.2 1207.9,2309.3 1209.6,2295.5 1211.2,2281.0 1212.9,2266.2 1214.6,2251.7 1216.3,2238.3 1217.9,2227.0 1219.6,2218.4 1221.3,2213.1 1223.0,2211.4 1224.6,2213.1 1226.3,2217.4 1228.0,2223.4 1229.7,2230.0 1231.4,2236.3 1233.1,2241.7 1234.8,2245.5 1236.5,2247.5 1238.2,2247.5 1239.9,2245.5 1241.6,2241.7 1243.3,2236.3 1245.0,2230.0 1246.7,2223.4 1248.4,2217.4 1250.1,2213.1 1251.7,2211.4 1253.4,2213.1 1255.1,2218.4 1256.8,2227.0 1258.4,2238.3 1260.1,2251.7 1261.8,2266.2 1263.5,2281.0 1265.1,2295.5 1266.8,2309.3 1268.5,2322.1 1270.1,2333.9 1271.8,2344.6 1273.5,2354.2 1275.1,2362.8 1276.8,2370.5 1278.5,2377.3 1280.2,2383.5 1281.8,2389.0 1283.5,2393.9 1285.2,2398.3 1286.8,2402.3 1288.5,2405.9 1290.2,2409.1 1291.8,2412.0 1293.5,2414.7 1295.2,2417.1 1296.8,2419.3 1298.5,2421.3 1300.2,2423.1 1301.9,2424.8 1303.5,2426.4 1305.2,2427.8 1306.9,2429.2 1308.5,2430.4 1310.2,2431.5 1311.9,2432.6 1313.5,2433.6 1315.2,2434.5 1316.9,2435.4 1318.6,2436.2 1320.2,2436.9 1321.9,2437.6 1323.6,2438.3 1325.2,2438.9 1326.9,2439.5 1328.6,2440.0 1330.2,2440.5 1331.9,2441.0 1333.6,2441.5 1335.2,2441.9 1336.9,2442.3 1338.6,2442.7 1340.3,2443.1 1341.9,2443.4 1343.6,2443.8 1345.3,2444.1 1346.9,2444.4 1348.6,2444.7 1350.3,2444.9 1351.9,2445.2 1353.6,2445.4 1355.3,2445.7 1357.0,2445.9 1358.6,2446.1 1360.3,2446.3 1362.0,2446.5 1363.6,2446.7 1365.3,2446.9 1367.0,2447.0 1368.6,2447.2 1370.3,2447.3 1372.0,2447.5 1373.7,2447.6 1375.3,2447.8 1377.0,2447.9 1378.7,2448.0 1380.3,2448.1 1382.0,2448.2 1383.7,2448.4 1385.3,2448.5 1387.0,2448.6 1388.7,2448.6 1390.3,2448.7 1392.0,2448.8 1393.7,2448.9 1395.4,2449.0 1397.0,2449.0 1398.7,2449.1 1400.4,2449.2 1402.0,2449.2 1403.7,2449.3 1405.4,2449.4 1407.0,2449.4 1408.7,2449.5 1410.4,2449.5 1412.1,2449.5 1413.7,2449.6 1415.4,2449.6 1417.1,2449.7 1418.7,2449.7 1420.4,2449.7 1422.1,2449.7 1423.7,2449.8 1425.4,2449.8 1427.1,2449.8 1428.7,2449.8 1430.4,2449.8 1432.1,2449.9 1433.8,2449.9 1435.4,2449.9 1437.1,2449.9 1438.8,2449.9 1440.4,2449.9 1442.1,2449.9 1443.8,2449.9 1445.4,2449.9 1447.1,2449.9 1448.8,2449.8 1450.5,2449.8 1452.1,2449.8 1453.8,2449.8 1455.5,2449.8 1457.1,2449.7 1458.8,2449.7 1460.5,2449.7 1462.1,2449.6 1463.8,2449.6 1465.5,2449.6 1467.1,2449.5 1468.8,2449.5 1470.5,2449.4 1472.2,2449.4 1473.8,2449.3 1475.5,2449.2 1477.2,2449.2 1478.8,2449.1 1480.5,2449.0 1482.2,2448.9 1483.8,2448.9 1485.5,2448.8 1487.2,2448.7 1488.9,2448.6 1490.5,2448.5 1492.2,2448.4 1493.9,2448.3 1495.5,2448.1 1497.2,2448.0 1498.9,2447.9 1500.5,2447.7 1502.2,2447.6 1503.9,2447.4 1505.5,2447.2 1507.2,2447.1 1508.9,2446.9 1510.6,2446.7 1512.2,2446.5 1513.9,2446.3 1515.6,2446.0 1517.2,2445.8 1518.9,2445.5 1520.6,2445.2 1522.2,2445.0 1523.9,2444.6 1525.6,2444.3 1527.3,2444.0 1528.9,2443.6 1530.6,2443.2 1532.3,2442.8 1533.9,2442.3 1535.6,2441.8 1537.3,2441.3 1538.9,2440.8 1540.6,2440.2 1542.3,2439.6 1543.9,2438.9 1545.6,2438.1 1547.3,2437.3 1549.0,2436.5 1550.6,2435.6 1552.3,2434.6 1554.0,2433.5 1555.6,2432.3 1557.3,2431.0 1559.0,2429.6 1560.6,2428.0 1562.3,2426.3 1564.0,2424.4 1565.7,2422.4 1567.3,2420.1 1569.0,2417.5 1570.7,2414.7 1572.3,2411.6 1574.0,2408.1 1575.7,2404.2 1577.3,2399.8 1579.0,2394.9 1580.7,2389.3 1582.3,2383.1 1584.0,2376.1 1585.7,2368.2 1587.4,2359.5 1589.0,2349.7 1590.7,2339.0 1592.4,2327.3 1594.0,2314.9 1595.7,2302.0 1597.4,2289.2 1599.0,2277.1 1600.7,2266.5 1602.4,2258.5 1604.1,2253.7 1605.7,2252.8 1607.4,2255.7 1609.1,2262.3 1610.7,2271.7 1612.4,2283.1 1614.1,2295.7 1615.8,2308.5 1617.4,2321.1 1619.1,2333.1 1620.8,2344.1 1622.5,2354.2 1624.1,2363.3 1625.8,2371.5 1627.5,2378.7 1629.2,2385.2 1630.8,2390.9 1632.5,2395.9 1634.2,2400.4 1635.9,2404.4 1637.5,2407.9 1639.2,2411.0 1640.9,2413.8 1642.6,2416.3 1644.2,2418.6 1645.9,2420.6 1647.6,2422.3 1649.2,2423.9 1650.9,2425.4 1652.6,2426.7 1654.3,2427.8 1655.9,2428.8 1657.6,2429.7 1659.3,2430.6 1661.0,2431.3 1662.6,2431.9 1664.3,2432.5 1666.0,2433.0 1667.7,2433.4 1669.3,2433.8 1671.0,2434.1 1672.7,2434.3 1674.4,2434.5 1676.0,2434.6 1677.7,2434.7 1679.4,2434.7 1681.1,2434.7 1682.7,2434.6 1684.4,2434.5 1686.1,2434.3 1687.7,2434.0 1689.4,2433.7 1691.1,2433.3 1692.8,2432.9 1694.4,2432.4 1696.1,2431.9 1697.8,2431.2 1699.5,2430.5 1701.1,2429.7 1702.8,2428.8 1704.5,2427.7 1706.2,2426.6 1707.8,2425.3 1709.5,2423.9 1711.2,2422.3 1712.9,2420.6 1714.5,2418.6 1716.2,2416.4 1717.9,2413.9 1719.6,2411.2 1721.2,2408.1 1722.9,2404.7 1724.6,2400.8 1726.3,2396.4 1727.9,2391.4 1729.6,2385.9 1731.3,2379.6 1732.9,2372.5 1734.6,2364.5 1736.3,2355.6 1738.0,2345.7 1739.6,2334.8 1741.3,2323.1 1743.0,2310.6 1744.7,2297.7 1746.3,2285.0 1748.0,2273.2 1749.7,2263.2 1751.4,2255.9 1753.0,2252.0 1754.7,2252.0 1756.4,2255.9 1758.0,2263.2 1759.7,2273.2 1761.4,2284.9 1763.0,2297.6 1764.7,2310.5 1766.4,2323.0 1768.0,2334.8 1769.7,2345.7 1771.4,2355.6 1773.0,2364.6 1774.7,2372.6 1776.4,2379.8 1778.0,2386.1 1779.7,2391.8 1781.4,2396.8 1783.0,2401.3 1784.7,2405.2 1786.4,2408.8 1788.0,2411.9 1789.7,2414.8 1791.4,2417.3 1793.0,2419.6 1794.7,2421.7 1796.4,2423.5 1798.0,2425.2 1799.7,2426.7 1801.4,2428.1 1803.0,2429.4 1804.7,2430.5 1806.4,2431.6 1808.0,2432.5 1809.7,2433.4 1811.4,2434.2 1813.0,2434.9 1814.7,2435.6 1816.4,2436.2 1818.0,2436.7 1819.7,2437.2 1821.4,2437.7 1823.0,2438.1 1824.7,2438.5 1826.4,2438.8 1828.0,2439.1 1829.7,2439.4 1831.4,2439.7 1833.0,2439.9 1834.7,2440.1 1836.4,2440.3 1838.0,2440.4 1839.7,2440.6 1841.3,2440.7 1843.0,2440.8 1844.7,2440.8 1846.3,2440.9 1848.0,2440.9 1849.7,2440.9 1851.3,2440.9 1853.0,2440.9 1854.7,2440.8 1856.3,2440.7 1858.0,2440.6 1859.7,2440.5 1861.3,2440.4 1863.0,2440.3 1864.7,2440.1 1866.3,2439.9 1868.0,2439.7 1869.7,2439.4 1871.3,2439.2 1873.0,2438.9 1874.7,2438.6 1876.3,2438.3 1878.0,2437.9 1879.7,2437.5 1881.3,2437.1 1883.0,2436.6 1884.7,2436.1 1886.3,2435.6 1888.0,2435.0 1889.7,2434.4 1891.3,2433.8 1893.0,2433.1 1894.7,2432.3 1896.3,2431.5 1898.0,2430.6 1899.7,2429.7 1901.3,2428.6 1903.0,2427.5 1904.7,2426.3 1906.3,2425.1 1908.0,2423.7 1909.7,2422.2 1911.3,2420.5 1913.0,2418.8 1914.7,2416.8 1916.3,2414.7 1918.0,2412.4 1919.7,2409.9 1921.3,2407.2 1923.0,2404.1 1924.7,2400.8 1926.3,2397.2 1928.0,2393.1 1929.7,2388.6 1931.3,2383.6 1933.0,2378.1 1934.7,2371.9 1936.3,2365.0 1938.0,2357.3 1939.6,2348.7 1941.3,2338.9 1943.0,2328.0 1944.6,2315.7 1946.3,2301.8 1948.0,2286.2 1949.6,2268.9 1951.3,2249.5 1953.0,2228.2 1954.6,2205.1 1956.3,2180.4 1958.0,2154.9 1959.6,2129.4 1961.3,2105.3 1963.0,2084.2 1964.6,2068.1 1966.3,2058.4 1968.0,2056.4 1969.6,2062.1 1971.3,2075.0 1973.0,2093.8 1974.7,2116.6 1976.3,2141.7 1978.0,2167.5 1979.7,2192.9 1981.3,2217.0 1983.0,2239.4 1984.7,2259.8 1986.4,2278.3 1988.0,2294.9 1989.7,2309.6 1991.4,2322.8 1993.0,2334.5 1994.7,2344.9 1996.4,2354.1 1998.1,2362.4 1999.7,2369.7 2001.4,2376.3 2003.1,2382.2 2004.7,2387.5 2006.4,2392.3 2008.1,2396.6 2009.8,2400.5 2011.4,2404.0 2013.1,2407.2 2014.8,2410.2 2016.5,2412.9 2018.1,2415.3 2019.8,2417.6 2021.5,2419.7 2023.1,2421.6 2024.8,2423.3 2026.5,2425.0 2028.2,2426.5 2029.8,2427.9 2031.5,2429.2 2033.2,2430.4 2034.8,2431.5 2036.5,2432.6 2038.2,2433.6 2039.9,2434.5 2041.5,2435.4 2043.2,2436.2 2044.9,2437.0 2046.5,2437.7 2048.2,2438.4 2049.9,2439.0 2051.6,2439.6 2053.2,2440.2 2054.9,2440.8 2056.6,2441.3 2058.2,2441.8 2059.9,2442.2 2061.6,2442.7 2063.3,2443.1 2064.9,2443.5 2066.6,2443.9 2068.3,2444.2 2069.9,2444.6 2071.6,2444.9 2073.3,2445.2 2075.0,2445.5 2076.6,2445.8 2078.3,2446.1 2080.0,2446.3 2081.6,2446.6 2083.3,2446.8 2085.0,2447.1 2086.7,2447.3 2088.3,2447.5 2090.0,2447.7 2091.7,2447.9 2093.3,2448.1 2095.0,2448.3 2096.7,2448.5 2098.4,2448.6 2100.0,2448.8 2101.7,2449.0 2103.4,2449.1 2105.0,2449.3 2106.7,2449.4 2108.4,2449.6 2110.1,2449.7 2111.7,2449.8 2113.4,2449.9 2115.1,2450.1 2116.7,2450.2 2118.4,2450.3 2120.1,2450.4 2121.8,2450.5 2123.4,2450.6 2125.1,2450.7 2126.8,2450.8 2128.4,2450.9 2130.1,2451.0 2131.8,2451.1 2133.5,2451.2 2135.1,2451.3 2136.8,2451.3 2138.5,2451.4 2140.1,2451.5 2141.8,2451.6 2143.5,2451.6 2145.2,2451.7 2146.8,2451.8 2148.5,2451.9 2150.2,2451.9 2151.8,2452.0 2153.5,2452.0 2155.2,2452.1 2156.9,2452.2 2158.5,2452.2 2160.2,2452.3 2161.9,2452.3 2163.6,2452.4 2165.2,2452.4 2166.9,2452.5 2168.6,2452.5 2170.2,2452.6 2171.9,2452.6 2173.6,2452.7 2175.3,2452.7 2176.9,2452.8 2178.6,2452.8 2180.3,2452.9 2181.9,2452.9 2183.6,2452.9 2185.3,2453.0 2187.0,2453.0 2188.6,2453.1 2190.3,2453.1 2192.0,2453.1 2193.6,2453.2 2195.3,2453.2 2197.0,2453.2 2198.7,2453.3 2200.3,2453.3 2202.0,2453.3 2203.7,2453.4 2205.3,2453.4 2207.0,2453.4 2208.7,2453.5 2210.4,2453.5 2212.0,2453.5 2213.7,2453.5 2215.4,2453.6 2217.0,2453.6 2218.7,2453.6 2220.4,2453.7 2222.1,2453.7 2223.7,2453.7 2225.4,2453.7 2227.1,2453.8 2228.7,2453.8 2230.4,2453.8 2232.1,2453.8 2233.8,2453.9 2235.4,2453.9 2237.1,2453.9 2238.8,2453.9 2240.4,2453.9 2242.1,2454.0 2243.8,2454.0 2245.5,2454.0 2247.1,2454.0 2248.8,2454.0 2248.8,2454.0" fill="none" stroke="#000" stroke-width="9.4" stroke-linejoin="miter" stroke-miterlimit="10"/>
</g>
<path d="M214.4 1940.6H2276.6V2458.2H214.4ZM220.9 1946.7V2453.0H2271.7V1946.7Z" fill="#000" fill-rule="evenodd"/>
<path d="M217.7 2456.0h52.5M2274.1 2456.0h-52.5M217.7 2331.0h52.5M2274.1 2331.0h-52.5M217.7 2206.0h52.5M2274.1 2206.0h-52.5M217.7 2081.0h52.5M2274.1 2081.0h-52.5M217.7 1956.0h52.5M2274.1 1956.0h-52.5M217.7 2393.5h27M2274.1 2393.5h-27M217.7 2268.5h27M2274.1 2268.5h-27M217.7 2143.5h27M2274.1 2143.5h-27M217.7 2018.5h27M2274.1 2018.5h-27" stroke="#000" stroke-width="5.2" fill="none"/>
<path d="M226.2 2456.0v-51M560.5 2456.0v-51M894.8 2456.0v-51M1229.2 2456.0v-51M1563.5 2456.0v-51M1897.8 2456.0v-51M2232.1 2456.0v-51M393.4 2456.0v-25M727.7 2456.0v-25M1062.0 2456.0v-25M1396.3 2456.0v-25M1730.6 2456.0v-25M2065.0 2456.0v-25" stroke="#000" stroke-width="4.4" fill="none"/>
<text x="194" y="2480.5" font-size="71" text-anchor="end">0</text>
<text x="194" y="2355.5" font-size="71" text-anchor="end">1</text>
<text x="194" y="2230.5" font-size="71" text-anchor="end">2</text>
<text x="194" y="2105.5" font-size="71" text-anchor="end">3</text>
<text x="194" y="1980.5" font-size="71" text-anchor="end">4</text>
<text x="227.2" y="2531.5" font-size="71" text-anchor="middle">-4.8</text>
<text x="561.5" y="2531.5" font-size="71" text-anchor="middle">-4.4</text>
<text x="895.8" y="2531.5" font-size="71" text-anchor="middle">-4</text>
<text x="1230.2" y="2531.5" font-size="71" text-anchor="middle">-3.6</text>
<text x="1564.5" y="2531.5" font-size="71" text-anchor="middle">-3.2</text>
<text x="1898.8" y="2531.5" font-size="71" text-anchor="middle">-2.8</text>
<text x="2233.1" y="2531.5" font-size="71" text-anchor="middle">-2.4</text>
<text transform="translate(130.0 2197.8) rotate(-90)" font-size="91" text-anchor="middle">DOS</text>
<text x="911.5" y="2081.7" font-size="91.5" font-weight="bold">C4</text>
<g>
<polyline points="217.8,3099.1 219.5,3099.1 221.2,3099.1 222.9,3099.1 224.5,3099.1 226.2,3099.1 227.9,3099.1 229.5,3099.1 231.2,3099.1 232.9,3099.1 234.6,3099.1 236.2,3099.1 237.9,3099.1 239.6,3099.1 241.2,3099.1 242.9,3099.1 244.6,3099.1 246.3,3099.1 247.9,3099.1 249.6,3099.1 251.3,3099.1 252.9,3099.1 254.6,3099.1 256.3,3099.1 258.0,3099.1 259.6,3099.1 261.3,3099.1 263.0,3099.1 264.6,3099.1 266.3,3099.1 268.0,3099.1 269.7,3099.1 271.3,3099.1 273.0,3099.1 274.7,3099.1 276.3,3099.1 278.0,3099.1 279.7,3099.1 281.4,3099.1 283.0,3099.1 284.7,3099.1 286.4,3099.1 288.0,3099.1 289.7,3099.1 291.4,3099.1 293.1,3099.1 294.7,3099.1 296.4,3099.1 298.1,3099.1 299.8,3099.1 301.4,3099.1 303.1,3099.1 304.8,3099.1 306.4,3099.1 308.1,3099.1 309.8,3099.1 311.5,3099.1 313.1,3099.1 314.8,3099.1 316.5,3099.1 318.1,3099.1 319.8,3099.1 321.5,3099.1 323.2,3099.1 324.8,3099.1 326.5,3099.1 328.2,3099.1 329.8,3099.1 331.5,3099.1 333.2,3099.1 334.9,3099.1 336.5,3099.1 338.2,3099.1 339.9,3099.1 341.5,3099.1 343.2,3099.1 344.9,3099.1 346.6,3099.1 348.2,3099.1 349.9,3099.1 351.6,3099.1 353.2,3099.1 354.9,3099.1 356.6,3099.1 358.3,3099.1 359.9,3099.1 361.6,3099.1 363.3,3099.1 364.9,3099.1 366.6,3099.1 368.3,3099.1 370.0,3099.1 371.6,3099.1 373.3,3099.1 375.0,3099.1 376.6,3099.1 378.3,3099.1 380.0,3099.1 381.7,3099.1 383.3,3099.1 385.0,3099.1 386.7,3099.1 388.3,3099.1 390.0,3099.1 391.7,3099.1 393.4,3099.1 395.0,3099.1 396.7,3099.1 398.4,3099.1 400.0,3099.1 401.7,3099.1 403.4,3099.1 405.1,3099.0 406.7,3099.0 408.4,3099.0 410.1,3098.9 411.7,3098.8 413.4,3098.7 415.1,3098.6 416.8,3098.3 418.4,3098.1 420.1,3097.7 421.8,3097.1 423.4,3096.5 425.1,3095.6 426.8,3094.4 428.5,3092.9 430.1,3091.0 431.8,3088.6 433.5,3085.7 435.1,3082.0 436.8,3077.5 438.5,3072.1 440.2,3065.7 441.8,3058.1 443.5,3049.1 445.2,3038.7 446.9,3026.8 448.5,3013.3 450.2,2998.2 451.9,2981.3 453.5,2962.9 455.2,2943.0 456.9,2921.6 458.6,2899.1 460.2,2875.7 461.9,2851.7 463.6,2827.4 465.2,2803.4 466.9,2780.0 468.6,2757.7 470.3,2737.0 471.9,2718.4 473.6,2702.3 475.3,2689.0 476.9,2678.9 478.6,2672.3 480.3,2669.4 482.0,2670.1 483.6,2674.5 485.3,2682.6 487.0,2693.9 488.6,2708.4 490.3,2725.6 492.0,2745.1 493.7,2766.5 495.3,2789.3 497.0,2813.0 498.7,2837.1 500.3,2861.3 502.0,2885.2 503.7,2908.3 505.4,2930.3 507.0,2951.1 508.7,2970.5 510.4,2988.3 512.0,3004.4 513.7,3018.9 515.4,3031.8 517.1,3043.1 518.7,3052.9 520.4,3061.3 522.1,3068.4 523.7,3074.4 525.4,3079.4 527.1,3083.6 528.8,3086.9 530.4,3089.6 532.1,3091.8 533.8,3093.5 535.4,3094.9 537.1,3095.9 538.8,3096.8 540.5,3097.4 542.1,3097.8 543.8,3098.2 545.5,3098.4 547.1,3098.6 548.8,3098.8 550.5,3098.9 552.2,3098.9 553.8,3099.0 555.5,3099.0 557.2,3099.0 558.8,3099.1 560.5,3099.1 562.2,3099.1 563.9,3099.1 565.5,3099.1 567.2,3099.1 568.9,3099.1 570.5,3099.1 572.2,3099.1 573.9,3099.1 575.6,3099.1 577.2,3099.1 578.9,3099.1 580.6,3099.1 582.3,3099.1 583.9,3099.1 585.6,3099.1 587.3,3099.1 588.9,3099.1 590.6,3099.1 592.3,3099.1 594.0,3099.1 595.6,3099.1 597.3,3099.1 599.0,3099.1 600.6,3099.1 602.3,3099.1 604.0,3099.0 605.7,3099.0 607.3,3099.0 609.0,3098.9 610.7,3098.8 612.3,3098.7 614.0,3098.6 615.7,3098.4 617.4,3098.1 619.0,3097.8 620.7,3097.3 622.4,3096.7 624.0,3096.0 625.7,3095.1 627.4,3093.9 629.1,3092.4 630.7,3090.6 632.4,3088.3 634.1,3085.6 635.7,3082.4 637.4,3078.6 639.1,3074.1 640.8,3068.9 642.4,3063.0 644.1,3056.2 645.8,3048.6 647.4,3040.2 649.1,3031.0 650.8,3021.0 652.5,3010.3 654.1,2999.1 655.8,2987.3 657.5,2975.3 659.1,2963.1 660.8,2951.0 662.5,2939.2 664.2,2927.9 665.8,2917.4 667.5,2907.8 669.2,2899.4 670.8,2892.4 672.5,2886.8 674.2,2882.8 675.9,2880.4 677.5,2879.6 679.2,2880.4 680.9,2882.7 682.5,2886.2 684.2,2890.8 685.9,2896.3 687.6,2902.4 689.2,2908.7 690.9,2915.1 692.6,2921.1 694.2,2926.6 695.9,2931.3 697.6,2935.0 699.3,2937.5 700.9,2938.7 702.6,2938.6 704.3,2937.1 705.9,2934.3 707.6,2930.4 709.3,2925.6 711.0,2919.9 712.6,2913.7 714.3,2907.3 716.0,2901.0 717.7,2894.9 719.3,2889.5 721.0,2884.9 722.7,2881.4 724.3,2879.2 726.0,2878.3 727.7,2879.0 729.4,2881.1 731.0,2884.7 732.7,2889.7 734.4,2895.8 736.0,2903.0 737.7,2911.0 739.4,2919.5 741.1,2928.2 742.7,2936.9 744.4,2945.2 746.1,2952.9 747.7,2959.8 749.4,2965.5 751.1,2969.9 752.8,2972.9 754.4,2974.4 756.1,2974.3 757.8,2972.5 759.4,2969.3 761.1,2964.5 762.8,2958.6 764.5,2951.5 766.1,2943.5 767.8,2934.9 769.5,2926.0 771.1,2917.0 772.8,2908.2 774.5,2899.9 776.2,2892.3 777.8,2885.6 779.5,2880.0 781.2,2875.6 782.8,2872.4 784.5,2870.5 786.2,2869.9 787.9,2870.4 789.5,2871.9 791.2,2874.2 792.9,2877.1 794.5,2880.3 796.2,2883.6 797.9,2886.8 799.6,2889.7 801.2,2892.0 802.9,2893.6 804.6,2894.4 806.2,2894.4 807.9,2893.5 809.6,2891.8 811.3,2889.5 812.9,2886.6 814.6,2883.4 816.3,2880.1 817.9,2877.0 819.6,2874.3 821.3,2872.2 823.0,2871.0 824.6,2870.9 826.3,2872.0 828.0,2874.4 829.6,2878.2 831.3,2883.5 833.0,2890.1 834.7,2898.1 836.3,2907.3 838.0,2917.4 839.7,2928.4 841.3,2940.1 843.0,2952.2 844.7,2964.4 846.4,2976.7 848.0,2988.8 849.7,3000.6 851.4,3011.8 853.0,3022.5 854.7,3032.4 856.4,3041.5 858.1,3049.8 859.7,3057.2 861.4,3063.9 863.1,3069.7 864.8,3074.8 866.4,3079.2 868.1,3082.9 869.8,3086.1 871.4,3088.7 873.1,3090.8 874.8,3092.6 876.5,3094.1 878.1,3095.2 879.8,3096.1 881.5,3096.8 883.1,3097.4 884.8,3097.8 886.5,3098.2 888.2,3098.4 889.8,3098.6 891.5,3098.7 893.2,3098.8 894.8,3098.9 896.5,3099.0 898.2,3099.0 899.9,3099.0 901.5,3099.1 903.2,3099.1 904.9,3099.1 906.5,3099.1 908.2,3099.1 909.9,3099.1 911.6,3099.1 913.2,3099.1 914.9,3099.1 916.6,3099.1 918.2,3099.1 919.9,3099.1 921.6,3099.1 923.3,3099.1 924.9,3099.1 926.6,3099.1 928.3,3099.1 929.9,3099.1 931.6,3099.1 933.3,3099.1 935.0,3099.1 936.6,3099.1 938.3,3099.1 940.0,3099.1 941.6,3099.1 943.3,3099.1 945.0,3099.1 946.7,3099.1 948.3,3099.1 950.0,3099.1 951.7,3099.1 953.3,3099.1 955.0,3099.1 956.7,3099.1 958.4,3099.1 960.0,3099.1 961.7,3099.1 963.4,3099.1 965.0,3099.1 966.7,3099.1 968.4,3099.1 970.1,3099.1 971.7,3099.1 973.4,3099.1 975.1,3099.1 976.7,3099.1 978.4,3099.1 980.1,3099.1 981.8,3099.1 983.4,3099.1 985.1,3099.1 986.8,3099.1 988.4,3099.1 990.1,3099.1 991.8,3099.1 993.5,3099.1 995.1,3099.1 996.8,3099.1 998.5,3099.1 1000.2,3099.1 1001.8,3099.1 1003.5,3099.1 1005.2,3099.1 1006.8,3099.1 1008.5,3099.1 1010.2,3099.1 1011.9,3099.1 1013.5,3099.1 1015.2,3099.1 1016.9,3099.1 1018.5,3099.1 1020.2,3099.1 1021.9,3099.1 1023.6,3099.1 1025.2,3099.1 1026.9,3099.1 1028.6,3099.1 1030.2,3099.1 1031.9,3099.1 1033.6,3099.1 1035.3,3099.1 1036.9,3099.1 1038.6,3099.1 1040.3,3099.1 1041.9,3099.1 1043.6,3099.1 1045.3,3099.1 1047.0,3099.1 1048.6,3099.1 1050.3,3099.1 1052.0,3099.1 1053.6,3099.1 1055.3,3099.1 1057.0,3099.1 1058.7,3099.1 1060.3,3099.1 1062.0,3099.1 1063.7,3099.1 1065.3,3099.1 1067.0,3099.1 1068.7,3099.1 1070.4,3099.1 1072.0,3099.1 1073.7,3099.1 1075.4,3099.1 1077.0,3099.1 1078.7,3099.1 1080.4,3099.1 1082.1,3099.1 1083.7,3099.1 1085.4,3099.1 1087.1,3099.1 1088.7,3099.1 1090.4,3099.1 1092.1,3099.1 1093.8,3099.1 1095.4,3099.1 1097.1,3099.1 1098.8,3099.1 1100.4,3099.1 1102.1,3099.1 1103.8,3099.1 1105.5,3099.1 1107.1,3099.1 1108.8,3099.1 1110.5,3099.1 1112.1,3099.1 1113.8,3099.1 1115.5,3099.1 1117.2,3099.1 1118.8,3099.1 1120.5,3099.1 1122.2,3099.1 1123.8,3099.1 1125.5,3099.1 1127.2,3099.1 1128.9,3099.1 1130.5,3099.1 1132.2,3099.1 1133.9,3099.1 1135.6,3099.1 1137.2,3099.1 1138.9,3099.1 1140.6,3099.1 1142.2,3099.1 1143.9,3099.1 1145.6,3099.1 1147.3,3099.1 1148.9,3099.1 1150.6,3099.1 1152.3,3099.1 1153.9,3099.1 1155.6,3099.1 1157.3,3099.1 1159.0,3099.1 1160.6,3099.1 1162.3,3099.1 1164.0,3099.0 1165.6,3099.0 1167.3,3099.0 1169.0,3098.9 1170.7,3098.8 1172.3,3098.7 1174.0,3098.6 1175.7,3098.3 1177.3,3098.1 1179.0,3097.7 1180.7,3097.2 1182.4,3096.6 1184.0,3095.8 1185.7,3094.8 1187.4,3093.6 1189.0,3092.0 1190.7,3090.1 1192.4,3087.7 1194.1,3084.8 1195.7,3081.3 1197.4,3077.1 1199.1,3072.2 1200.7,3066.5 1202.4,3059.8 1204.1,3052.2 1205.8,3043.6 1207.4,3033.8 1209.1,3023.0 1210.8,3011.0 1212.4,2998.0 1214.1,2983.9 1215.8,2968.8 1217.5,2952.8 1219.1,2936.1 1220.8,2918.7 1222.5,2901.0 1224.1,2883.0 1225.8,2865.0 1227.5,2847.2 1229.2,2829.9 1230.8,2813.3 1232.5,2797.7 1234.2,2783.2 1235.8,2770.1 1237.5,2758.6 1239.2,2748.9 1240.9,2741.1 1242.5,2735.3 1244.2,2731.7 1245.9,2730.3 1247.5,2731.1 1249.2,2734.0 1250.9,2739.2 1252.6,2746.3 1254.2,2755.5 1255.9,2766.5 1257.6,2779.1 1259.2,2793.2 1260.9,2808.5 1262.6,2824.9 1264.3,2842.0 1265.9,2859.6 1267.6,2877.6 1269.3,2895.6 1270.9,2913.5 1272.6,2930.9 1274.3,2947.9 1276.0,2964.1 1277.6,2979.5 1279.3,2993.9 1281.0,3007.2 1282.7,3019.5 1284.3,3030.7 1286.0,3040.8 1287.7,3049.7 1289.3,3057.7 1291.0,3064.6 1292.7,3070.6 1294.4,3075.7 1296.0,3080.1 1297.7,3083.8 1299.4,3086.9 1301.0,3089.4 1302.7,3091.5 1304.4,3093.1 1306.1,3094.5 1307.7,3095.6 1309.4,3096.4 1311.1,3097.1 1312.7,3097.6 1314.4,3098.0 1316.1,3098.3 1317.8,3098.5 1319.4,3098.7 1321.1,3098.8 1322.8,3098.9 1324.4,3098.9 1326.1,3099.0 1327.8,3099.0 1329.5,3099.0 1331.1,3099.1 1332.8,3099.1 1334.5,3099.1 1336.1,3099.1 1337.8,3099.1 1339.5,3099.1 1341.2,3099.1 1342.8,3099.1 1344.5,3099.1 1346.2,3099.1 1347.8,3099.1 1349.5,3099.1 1351.2,3099.1 1352.9,3099.1 1354.5,3099.1 1356.2,3099.1 1357.9,3099.1 1359.5,3099.1 1361.2,3099.1 1362.9,3099.1 1364.6,3099.1 1366.2,3099.1 1367.9,3099.1 1369.6,3099.1 1371.2,3099.1 1372.9,3099.1 1374.6,3099.1 1376.3,3099.1 1377.9,3099.1 1379.6,3099.1 1381.3,3099.1 1382.9,3099.1 1384.6,3099.1 1386.3,3099.1 1388.0,3099.1 1389.6,3099.1 1391.3,3099.1 1393.0,3099.1 1394.6,3099.1 1396.3,3099.1 1398.0,3099.1 1399.7,3099.1 1401.3,3099.1 1403.0,3099.1 1404.7,3099.1 1406.3,3099.1 1408.0,3099.1 1409.7,3099.1 1411.4,3099.1 1413.0,3099.1 1414.7,3099.1 1416.4,3099.1 1418.1,3099.1 1419.7,3099.1 1421.4,3099.1 1423.1,3099.1 1424.7,3099.1 1426.4,3099.1 1428.1,3099.1 1429.8,3099.1 1431.4,3099.1 1433.1,3099.1 1434.8,3099.1 1436.4,3099.1 1438.1,3099.1 1439.8,3099.1 1441.5,3099.1 1443.1,3099.1 1444.8,3099.1 1446.5,3099.1 1448.1,3099.1 1449.8,3099.1 1451.5,3099.1 1453.2,3099.1 1454.8,3099.1 1456.5,3099.1 1458.2,3099.1 1459.8,3099.1 1461.5,3099.1 1463.2,3099.1 1464.9,3099.1 1466.5,3099.1 1468.2,3099.1 1469.9,3099.1 1471.5,3099.1 1473.2,3099.1 1474.9,3099.1 1476.6,3099.1 1478.2,3099.1 1479.9,3099.1 1481.6,3099.1 1483.2,3099.1 1484.9,3099.1 1486.6,3099.1 1488.3,3099.1 1489.9,3099.1 1491.6,3099.1 1493.3,3099.1 1494.9,3099.1 1496.6,3099.1 1498.3,3099.1 1500.0,3099.1 1501.6,3099.1 1503.3,3099.1 1505.0,3099.1 1506.6,3099.1 1508.3,3099.1 1510.0,3099.1 1511.7,3099.1 1513.3,3099.1 1515.0,3099.1 1516.7,3099.1 1518.3,3099.1 1520.0,3099.1 1521.7,3099.1 1523.4,3099.1 1525.0,3099.1 1526.7,3099.1 1528.4,3099.1 1530.0,3099.1 1531.7,3099.1 1533.4,3099.1 1535.1,3099.1 1536.7,3099.1 1538.4,3099.1 1540.1,3099.1 1541.7,3099.1 1543.4,3099.1 1545.1,3099.1 1546.8,3099.1 1548.4,3099.1 1550.1,3099.1 1551.8,3099.1 1553.5,3099.1 1555.1,3099.1 1556.8,3099.1 1558.5,3099.1 1560.1,3099.1 1561.8,3099.0 1563.5,3099.0 1565.2,3099.0 1566.8,3098.9 1568.5,3098.9 1570.2,3098.8 1571.8,3098.6 1573.5,3098.4 1575.2,3098.2 1576.9,3097.9 1578.5,3097.5 1580.2,3096.9 1581.9,3096.2 1583.5,3095.3 1585.2,3094.2 1586.9,3092.8 1588.6,3091.0 1590.2,3088.9 1591.9,3086.3 1593.6,3083.3 1595.2,3079.6 1596.9,3075.3 1598.6,3070.3 1600.3,3064.5 1601.9,3057.9 1603.6,3050.6 1605.3,3042.4 1606.9,3033.3 1608.6,3023.5 1610.3,3013.0 1612.0,3001.8 1613.6,2990.1 1615.3,2978.0 1617.0,2965.8 1618.6,2953.5 1620.3,2941.4 1622.0,2929.7 1623.7,2918.7 1625.3,2908.5 1627.0,2899.3 1628.7,2891.3 1630.3,2884.7 1632.0,2879.4 1633.7,2875.6 1635.4,2873.2 1637.0,2872.2 1638.7,2872.4 1640.4,2873.8 1642.0,2876.1 1643.7,2879.0 1645.4,2882.5 1647.1,2886.1 1648.7,2889.6 1650.4,2892.8 1652.1,2895.5 1653.7,2897.6 1655.4,2898.8 1657.1,2899.1 1658.8,2898.4 1660.4,2896.9 1662.1,2894.6 1663.8,2891.7 1665.4,2888.3 1667.1,2884.6 1668.8,2880.8 1670.5,2877.3 1672.1,2874.2 1673.8,2871.8 1675.5,2870.3 1677.1,2869.7 1678.8,2870.3 1680.5,2872.1 1682.2,2875.1 1683.8,2879.2 1685.5,2884.3 1687.2,2890.3 1688.8,2896.9 1690.5,2904.0 1692.2,2911.2 1693.9,2918.2 1695.5,2924.9 1697.2,2931.0 1698.9,2936.2 1700.6,2940.2 1702.2,2943.0 1703.9,2944.5 1705.6,2944.5 1707.2,2943.1 1708.9,2940.4 1710.6,2936.3 1712.3,2931.1 1713.9,2925.0 1715.6,2918.2 1717.3,2910.9 1718.9,2903.4 1720.6,2896.0 1722.3,2888.9 1724.0,2882.3 1725.6,2876.4 1727.3,2871.5 1729.0,2867.5 1730.6,2864.6 1732.3,2862.8 1734.0,2862.0 1735.7,2862.0 1737.3,2862.9 1739.0,2864.3 1740.7,2866.1 1742.3,2868.2 1744.0,2870.2 1745.7,2872.1 1747.4,2873.5 1749.0,2874.6 1750.7,2875.0 1752.4,2874.9 1754.0,2874.2 1755.7,2872.9 1757.4,2871.3 1759.1,2869.5 1760.7,2867.6 1762.4,2865.8 1764.1,2864.4 1765.7,2863.6 1767.4,2863.7 1769.1,2864.7 1770.8,2866.8 1772.4,2870.2 1774.1,2874.8 1775.8,2880.8 1777.4,2888.1 1779.1,2896.6 1780.8,2906.2 1782.5,2916.7 1784.1,2928.1 1785.8,2940.0 1787.5,2952.2 1789.1,2964.6 1790.8,2977.0 1792.5,2989.2 1794.2,3001.0 1795.8,3012.3 1797.5,3022.9 1799.2,3032.8 1800.8,3041.9 1802.5,3050.1 1804.2,3057.6 1805.9,3064.2 1807.5,3070.0 1809.2,3075.0 1810.9,3079.4 1812.5,3083.1 1814.2,3086.2 1815.9,3088.8 1817.6,3090.9 1819.2,3092.7 1820.9,3094.1 1822.6,3095.3 1824.2,3096.2 1825.9,3096.9 1827.6,3097.4 1829.3,3097.9 1830.9,3098.2 1832.6,3098.4 1834.3,3098.6 1836.0,3098.7 1837.6,3098.8 1839.3,3098.9 1841.0,3099.0 1842.6,3099.0 1844.3,3099.0 1846.0,3099.1 1847.7,3099.1 1849.3,3099.1 1851.0,3099.1 1852.7,3099.1 1854.3,3099.1 1856.0,3099.1 1857.7,3099.1 1859.4,3099.1 1861.0,3099.1 1862.7,3099.1 1864.4,3099.1 1866.0,3099.1 1867.7,3099.1 1869.4,3099.1 1871.1,3099.1 1872.7,3099.1 1874.4,3099.1 1876.1,3099.1 1877.7,3099.1 1879.4,3099.1 1881.1,3099.1 1882.8,3099.1 1884.4,3099.1 1886.1,3099.1 1887.8,3099.1 1889.4,3099.1 1891.1,3099.1 1892.8,3099.1 1894.5,3099.1 1896.1,3099.1 1897.8,3099.1 1899.5,3099.1 1901.1,3099.1 1902.8,3099.1 1904.5,3099.1 1906.2,3099.1 1907.8,3099.1 1909.5,3099.1 1911.2,3099.1 1912.8,3099.1 1914.5,3099.1 1916.2,3099.1 1917.9,3099.1 1919.5,3099.1 1921.2,3099.1 1922.9,3099.1 1924.5,3099.1 1926.2,3099.1 1927.9,3099.1 1929.6,3099.1 1931.2,3099.1 1932.9,3099.1 1934.6,3099.1 1936.2,3099.0 1937.9,3099.0 1939.6,3099.0 1941.3,3098.9 1942.9,3098.9 1944.6,3098.8 1946.3,3098.6 1947.9,3098.4 1949.6,3098.2 1951.3,3097.8 1953.0,3097.3 1954.6,3096.7 1956.3,3095.8 1958.0,3094.8 1959.6,3093.4 1961.3,3091.6 1963.0,3089.4 1964.7,3086.6 1966.3,3083.2 1968.0,3079.0 1969.7,3073.9 1971.4,3067.7 1973.0,3060.5 1974.7,3051.9 1976.4,3042.0 1978.0,3030.6 1979.7,3017.5 1981.4,3002.9 1983.1,2986.6 1984.7,2968.6 1986.4,2949.1 1988.1,2928.2 1989.7,2906.0 1991.4,2882.8 1993.1,2858.9 1994.8,2834.7 1996.4,2810.6 1998.1,2786.9 1999.8,2764.3 2001.4,2743.0 2003.1,2723.7 2004.8,2706.8 2006.5,2692.6 2008.1,2681.6 2009.8,2673.9 2011.5,2669.9 2013.1,2669.5 2014.8,2672.8 2016.5,2679.8 2018.2,2690.2 2019.8,2703.7 2021.5,2720.2 2023.2,2739.0 2024.8,2759.9 2026.5,2782.3 2028.2,2805.8 2029.9,2829.9 2031.5,2854.1 2033.2,2878.1 2034.9,2901.4 2036.5,2923.8 2038.2,2945.0 2039.9,2964.8 2041.6,2983.1 2043.2,2999.7 2044.9,3014.7 2046.6,3028.1 2048.2,3039.8 2049.9,3050.1 2051.6,3058.9 2053.3,3066.4 2054.9,3072.7 2056.6,3078.0 2058.3,3082.4 2059.9,3086.0 2061.6,3088.9 2063.3,3091.2 2065.0,3093.1 2066.6,3094.5 2068.3,3095.7 2070.0,3096.5 2071.6,3097.2 2073.3,3097.7 2075.0,3098.1 2076.7,3098.4 2078.3,3098.6 2080.0,3098.7 2081.7,3098.8 2083.3,3098.9 2085.0,3099.0 2086.7,3099.0 2088.4,3099.0 2090.0,3099.1 2091.7,3099.1 2093.4,3099.1 2095.0,3099.1 2096.7,3099.1 2098.4,3099.1 2100.1,3099.1 2101.7,3099.1 2103.4,3099.1 2105.1,3099.1 2106.7,3099.1 2108.4,3099.1 2110.1,3099.1 2111.8,3099.1 2113.4,3099.1 2115.1,3099.1 2116.8,3099.1 2118.5,3099.1 2120.1,3099.1 2121.8,3099.1 2123.5,3099.1 2125.1,3099.1 2126.8,3099.1 2128.5,3099.1 2130.2,3099.1 2131.8,3099.1 2133.5,3099.1 2135.2,3099.1 2136.8,3099.1 2138.5,3099.1 2140.2,3099.1 2141.9,3099.1 2143.5,3099.1 2145.2,3099.1 2146.9,3099.1 2148.5,3099.1 2150.2,3099.1 2151.9,3099.1 2153.6,3099.1 2155.2,3099.1 2156.9,3099.1 2158.6,3099.1 2160.2,3099.1 2161.9,3099.1 2163.6,3099.1 2165.3,3099.1 2166.9,3099.1 2168.6,3099.1 2170.3,3099.1 2171.9,3099.1 2173.6,3099.1 2175.3,3099.1 2177.0,3099.1 2178.6,3099.1 2180.3,3099.1 2182.0,3099.1 2183.6,3099.1 2185.3,3099.1 2187.0,3099.1 2188.7,3099.1 2190.3,3099.1 2192.0,3099.1 2193.7,3099.1 2195.3,3099.1 2197.0,3099.1 2198.7,3099.1 2200.4,3099.1 2202.0,3099.1 2203.7,3099.1 2205.4,3099.1 2207.0,3099.1 2208.7,3099.1 2210.4,3099.1 2212.1,3099.1 2213.7,3099.1 2215.4,3099.1 2217.1,3099.1 2218.7,3099.1 2220.4,3099.1 2222.1,3099.1 2223.8,3099.1 2225.4,3099.1 2227.1,3099.1 2228.8,3099.1 2230.4,3099.1 2232.1,3099.1 2233.8,3099.1 2235.5,3099.1 2237.1,3099.1 2238.8,3099.1 2240.5,3099.1 2242.1,3099.1 2243.8,3099.1 2245.5,3099.1 2247.2,3099.1 2248.8,3099.1 2250.5,3099.1 2252.2,3099.1 2253.9,3099.1 2255.5,3099.1 2257.2,3099.1 2258.9,3099.1 2260.5,3099.1 2262.2,3099.1 2263.9,3099.1 2265.6,3099.1 2267.2,3099.1 2268.9,3099.1 2270.6,3099.1 2272.2,3099.1 2273.9,3099.1" fill="none" stroke="#f00" stroke-width="9.4" stroke-linejoin="round" stroke-miterlimit="10"/>
<polyline points="217.8,3097.1 219.4,3097.1 221.1,3097.1 222.8,3097.1 224.4,3097.0 226.1,3097.0 227.8,3097.0 229.5,3097.0 231.1,3097.0 232.8,3097.0 234.5,3096.9 236.1,3096.9 237.8,3096.9 239.5,3096.9 241.2,3096.9 242.8,3096.8 244.5,3096.8 246.2,3096.8 247.9,3096.8 249.5,3096.7 251.2,3096.7 252.9,3096.7 254.5,3096.7 256.2,3096.7 257.9,3096.6 259.6,3096.6 261.2,3096.6 262.9,3096.6 264.6,3096.5 266.2,3096.5 267.9,3096.5 269.6,3096.5 271.3,3096.4 272.9,3096.4 274.6,3096.4 276.3,3096.3 277.9,3096.3 279.6,3096.3 281.3,3096.3 283.0,3096.2 284.6,3096.2 286.3,3096.2 288.0,3096.1 289.6,3096.1 291.3,3096.1 293.0,3096.0 294.7,3096.0 296.3,3096.0 298.0,3095.9 299.7,3095.9 301.3,3095.8 303.0,3095.8 304.7,3095.8 306.4,3095.7 308.0,3095.7 309.7,3095.6 311.4,3095.6 313.0,3095.5 314.7,3095.5 316.4,3095.5 318.1,3095.4 319.7,3095.4 321.4,3095.3 323.1,3095.3 324.7,3095.2 326.4,3095.2 328.1,3095.1 329.8,3095.0 331.4,3095.0 333.1,3094.9 334.8,3094.9 336.4,3094.8 338.1,3094.7 339.8,3094.7 341.5,3094.6 343.1,3094.5 344.8,3094.5 346.5,3094.4 348.1,3094.3 349.8,3094.3 351.5,3094.2 353.2,3094.1 354.8,3094.0 356.5,3093.9 358.2,3093.9 359.8,3093.8 361.5,3093.7 363.2,3093.6 364.9,3093.5 366.5,3093.4 368.2,3093.3 369.9,3093.2 371.5,3093.1 373.2,3093.0 374.9,3092.9 376.6,3092.7 378.2,3092.6 379.9,3092.5 381.6,3092.4 383.3,3092.2 384.9,3092.1 386.6,3091.9 388.3,3091.8 389.9,3091.6 391.6,3091.5 393.3,3091.3 395.0,3091.2 396.6,3091.0 398.3,3090.8 400.0,3090.6 401.6,3090.4 403.3,3090.2 405.0,3090.0 406.7,3089.8 408.3,3089.5 410.0,3089.3 411.7,3089.0 413.3,3088.8 415.0,3088.5 416.7,3088.2 418.4,3087.9 420.0,3087.6 421.7,3087.3 423.4,3087.0 425.0,3086.6 426.7,3086.2 428.4,3085.8 430.1,3085.4 431.7,3085.0 433.4,3084.5 435.1,3084.1 436.7,3083.6 438.4,3083.0 440.1,3082.5 441.8,3081.9 443.4,3081.2 445.1,3080.6 446.8,3079.9 448.4,3079.1 450.1,3078.3 451.8,3077.5 453.5,3076.6 455.1,3075.6 456.8,3074.6 458.5,3073.5 460.1,3072.3 461.8,3071.0 463.5,3069.6 465.2,3068.2 466.8,3066.6 468.5,3064.9 470.2,3063.0 471.8,3061.0 473.5,3058.8 475.2,3056.4 476.9,3053.8 478.5,3050.9 480.2,3047.8 481.9,3044.4 483.5,3040.6 485.2,3036.4 486.9,3031.7 488.6,3026.6 490.2,3020.8 491.9,3014.4 493.6,3007.2 495.2,2999.2 496.9,2990.2 498.6,2980.1 500.3,2968.7 501.9,2955.9 503.6,2941.5 505.3,2925.4 506.9,2907.4 508.6,2887.6 510.3,2866.0 512.0,2842.8 513.6,2818.6 515.3,2794.2 517.0,2770.8 518.7,2749.9 520.3,2733.3 522.0,2722.5 523.7,2718.7 525.3,2722.4 527.0,2733.2 528.7,2749.9 530.4,2770.9 532.1,2794.3 533.7,2818.7 535.4,2842.9 537.1,2866.0 538.8,2887.5 540.5,2907.2 542.1,2925.0 543.8,2941.0 545.5,2955.2 547.2,2967.8 548.8,2979.1 550.5,2989.0 552.2,2997.9 553.9,3005.7 555.6,3012.7 557.2,3019.0 558.9,3024.6 560.6,3029.6 562.3,3034.0 564.0,3038.1 565.6,3041.7 567.3,3045.0 569.0,3047.9 570.7,3050.6 572.4,3053.0 574.0,3055.2 575.7,3057.3 577.4,3059.1 579.1,3060.8 580.7,3062.3 582.4,3063.7 584.1,3064.9 585.8,3066.1 587.5,3067.1 589.1,3068.1 590.8,3069.0 592.5,3069.8 594.2,3070.5 595.9,3071.2 597.5,3071.7 599.2,3072.3 600.9,3072.7 602.6,3073.2 604.3,3073.5 605.9,3073.8 607.6,3074.1 609.3,3074.3 611.0,3074.5 612.6,3074.6 614.3,3074.7 616.0,3074.7 617.7,3074.7 619.4,3074.7 621.0,3074.6 622.7,3074.4 624.4,3074.2 626.1,3074.0 627.8,3073.7 629.4,3073.4 631.1,3073.0 632.8,3072.5 634.5,3072.0 636.2,3071.4 637.8,3070.8 639.5,3070.0 641.2,3069.2 642.9,3068.3 644.5,3067.3 646.2,3066.2 647.9,3064.9 649.6,3063.6 651.3,3062.0 652.9,3060.3 654.6,3058.5 656.3,3056.4 658.0,3054.0 659.7,3051.5 661.3,3048.6 663.0,3045.3 664.7,3041.7 666.4,3037.6 668.1,3033.0 669.7,3027.8 671.4,3022.0 673.1,3015.5 674.8,3008.2 676.4,2999.9 678.1,2990.8 679.8,2980.6 681.5,2969.6 683.2,2957.7 684.8,2945.3 686.5,2932.7 688.2,2920.6 689.9,2909.7 691.6,2900.9 693.2,2895.0 694.9,2892.6 696.6,2894.0 698.2,2898.7 699.9,2906.3 701.6,2916.0 703.2,2926.9 704.9,2938.2 706.6,2949.3 708.2,2959.9 709.9,2969.7 711.6,2978.4 713.2,2986.2 714.9,2992.9 716.5,2998.6 718.2,3003.4 719.9,3007.3 721.5,3010.4 723.2,3012.8 724.9,3014.4 726.5,3015.3 728.2,3015.6 729.8,3015.2 731.5,3014.1 733.2,3012.3 734.8,3009.8 736.5,3006.5 738.2,3002.4 739.8,2997.4 741.5,2991.5 743.2,2984.6 744.8,2976.7 746.5,2967.7 748.1,2957.8 749.8,2947.0 751.5,2935.7 753.1,2924.2 754.8,2913.2 756.5,2903.5 758.1,2895.8 759.8,2891.1 761.5,2889.8 763.1,2892.2 764.8,2898.0 766.5,2906.8 768.2,2917.5 769.8,2929.4 771.5,2941.8 773.2,2953.9 774.9,2965.5 776.6,2976.2 778.2,2985.9 779.9,2994.7 781.6,3002.5 783.3,3009.5 785.0,3015.5 786.6,3020.9 788.3,3025.6 790.0,3029.6 791.7,3033.1 793.4,3036.2 795.0,3038.8 796.7,3041.0 798.4,3042.9 800.1,3044.4 801.7,3045.6 803.4,3046.6 805.1,3047.2 806.8,3047.7 808.5,3047.8 810.1,3047.7 811.8,3047.3 813.5,3046.7 815.2,3045.8 816.9,3044.6 818.5,3043.1 820.2,3041.3 821.9,3039.1 823.6,3036.5 825.3,3033.4 826.9,3029.9 828.6,3025.8 830.3,3021.1 832.0,3015.6 833.6,3009.4 835.3,3002.4 837.0,2994.5 838.7,2985.6 840.4,2975.7 842.0,2964.9 843.7,2953.3 845.4,2941.3 847.1,2929.3 848.8,2918.0 850.4,2908.2 852.1,2900.7 853.8,2896.4 855.5,2895.7 857.1,2898.7 858.8,2905.0 860.5,2914.0 862.1,2924.9 863.8,2936.7 865.5,2948.8 867.1,2960.7 868.8,2971.9 870.5,2982.3 872.1,2991.7 873.8,3000.2 875.5,3007.8 877.2,3014.5 878.8,3020.4 880.5,3025.6 882.2,3030.2 883.8,3034.1 885.5,3037.6 887.2,3040.6 888.8,3043.2 890.5,3045.5 892.2,3047.4 893.8,3048.9 895.5,3050.3 897.2,3051.3 898.8,3052.1 900.5,3052.7 902.2,3053.1 903.8,3053.2 905.5,3053.1 907.2,3052.8 908.8,3052.2 910.5,3051.4 912.2,3050.4 913.8,3049.0 915.5,3047.4 917.2,3045.5 918.8,3043.2 920.5,3040.6 922.2,3037.5 923.8,3033.9 925.5,3029.8 927.2,3025.0 928.8,3019.6 930.5,3013.4 932.2,3006.4 933.9,2998.5 935.5,2989.7 937.2,2979.9 938.9,2969.3 940.5,2957.8 942.2,2946.0 943.9,2934.2 945.5,2923.1 947.2,2913.4 948.9,2906.0 950.5,2901.8 952.2,2901.1 953.9,2904.1 955.5,2910.5 957.2,2919.7 958.9,2930.7 960.6,2942.7 962.2,2955.1 963.9,2967.2 965.6,2978.7 967.2,2989.4 968.9,2999.1 970.6,3008.0 972.2,3015.9 973.9,3023.0 975.6,3029.3 977.3,3034.9 978.9,3039.9 980.6,3044.3 982.3,3048.3 983.9,3051.8 985.6,3055.0 987.3,3057.9 989.0,3060.4 990.6,3062.8 992.3,3064.9 994.0,3066.8 995.6,3068.5 997.3,3070.1 999.0,3071.5 1000.7,3072.8 1002.3,3074.0 1004.0,3075.1 1005.7,3076.1 1007.3,3077.1 1009.0,3078.0 1010.7,3078.8 1012.3,3079.5 1014.0,3080.2 1015.7,3080.8 1017.4,3081.4 1019.0,3082.0 1020.7,3082.5 1022.4,3083.0 1024.0,3083.5 1025.7,3083.9 1027.4,3084.3 1029.1,3084.7 1030.7,3085.0 1032.4,3085.3 1034.1,3085.7 1035.7,3086.0 1037.4,3086.2 1039.1,3086.5 1040.8,3086.7 1042.4,3087.0 1044.1,3087.2 1045.8,3087.4 1047.4,3087.6 1049.1,3087.7 1050.8,3087.9 1052.4,3088.1 1054.1,3088.2 1055.8,3088.4 1057.5,3088.5 1059.1,3088.6 1060.8,3088.7 1062.5,3088.8 1064.1,3088.9 1065.8,3089.0 1067.5,3089.1 1069.2,3089.2 1070.8,3089.3 1072.5,3089.3 1074.2,3089.4 1075.8,3089.4 1077.5,3089.5 1079.2,3089.5 1080.9,3089.6 1082.5,3089.6 1084.2,3089.6 1085.9,3089.6 1087.5,3089.7 1089.2,3089.7 1090.9,3089.7 1092.5,3089.7 1094.2,3089.7 1095.9,3089.7 1097.6,3089.6 1099.2,3089.6 1100.9,3089.6 1102.6,3089.6 1104.2,3089.5 1105.9,3089.5 1107.6,3089.4 1109.3,3089.4 1110.9,3089.3 1112.6,3089.3 1114.3,3089.2 1115.9,3089.1 1117.6,3089.1 1119.3,3089.0 1121.0,3088.9 1122.6,3088.8 1124.3,3088.7 1126.0,3088.6 1127.6,3088.4 1129.3,3088.3 1131.0,3088.2 1132.6,3088.0 1134.3,3087.9 1136.0,3087.7 1137.7,3087.5 1139.3,3087.3 1141.0,3087.2 1142.7,3086.9 1144.3,3086.7 1146.0,3086.5 1147.7,3086.3 1149.4,3086.0 1151.0,3085.7 1152.7,3085.5 1154.4,3085.2 1156.0,3084.8 1157.7,3084.5 1159.4,3084.2 1161.1,3083.8 1162.7,3083.4 1164.4,3083.0 1166.1,3082.5 1167.7,3082.1 1169.4,3081.6 1171.1,3081.0 1172.7,3080.5 1174.4,3079.9 1176.1,3079.2 1177.8,3078.6 1179.4,3077.8 1181.1,3077.1 1182.8,3076.2 1184.4,3075.4 1186.1,3074.4 1187.8,3073.4 1189.5,3072.3 1191.1,3071.1 1192.8,3069.9 1194.5,3068.5 1196.1,3067.1 1197.8,3065.5 1199.5,3063.8 1201.2,3061.9 1202.8,3059.9 1204.5,3057.7 1206.2,3055.3 1207.8,3052.6 1209.5,3049.7 1211.2,3046.5 1212.8,3043.0 1214.5,3039.2 1216.2,3034.9 1217.9,3030.1 1219.5,3024.9 1221.2,3019.0 1222.9,3012.4 1224.5,3005.0 1226.2,2996.7 1227.9,2987.5 1229.6,2977.0 1231.2,2965.3 1232.9,2952.1 1234.6,2937.3 1236.2,2920.8 1237.9,2902.5 1239.6,2882.3 1241.3,2860.5 1242.9,2837.4 1244.6,2813.6 1246.3,2790.0 1247.9,2767.9 1249.6,2748.7 1251.3,2734.1 1252.9,2725.4 1254.6,2723.5 1256.3,2728.7 1258.0,2740.3 1259.6,2757.2 1261.3,2778.0 1263.0,2801.1 1264.7,2825.0 1266.3,2848.6 1268.0,2871.2 1269.7,2892.3 1271.4,2911.6 1273.0,2929.1 1274.7,2944.8 1276.4,2958.8 1278.1,2971.3 1279.7,2982.4 1281.4,2992.3 1283.1,3001.0 1284.8,3008.8 1286.4,3015.8 1288.1,3022.1 1289.8,3027.6 1291.5,3032.7 1293.1,3037.2 1294.8,3041.2 1296.5,3044.9 1298.2,3048.3 1299.8,3051.3 1301.5,3054.1 1303.2,3056.6 1304.9,3058.9 1306.5,3061.0 1308.2,3062.9 1309.9,3064.7 1311.6,3066.4 1313.2,3067.9 1314.9,3069.3 1316.6,3070.6 1318.3,3071.8 1319.9,3072.9 1321.6,3074.0 1323.3,3075.0 1325.0,3075.9 1326.6,3076.7 1328.3,3077.5 1330.0,3078.3 1331.7,3079.0 1333.3,3079.6 1335.0,3080.2 1336.7,3080.8 1338.4,3081.4 1340.0,3081.9 1341.7,3082.3 1343.4,3082.8 1345.1,3083.2 1346.7,3083.6 1348.4,3084.0 1350.1,3084.4 1351.8,3084.7 1353.4,3085.0 1355.1,3085.4 1356.8,3085.6 1358.5,3085.9 1360.1,3086.2 1361.8,3086.4 1363.5,3086.7 1365.2,3086.9 1366.8,3087.1 1368.5,3087.3 1370.2,3087.5 1371.9,3087.6 1373.5,3087.8 1375.2,3088.0 1376.9,3088.1 1378.6,3088.3 1380.2,3088.4 1381.9,3088.5 1383.6,3088.6 1385.3,3088.7 1386.9,3088.9 1388.6,3088.9 1390.3,3089.0 1392.0,3089.1 1393.6,3089.2 1395.3,3089.3 1397.0,3089.3 1398.7,3089.4 1400.3,3089.4 1402.0,3089.5 1403.7,3089.5 1405.4,3089.6 1407.0,3089.6 1408.7,3089.6 1410.4,3089.7 1412.1,3089.7 1413.7,3089.7 1415.4,3089.7 1417.1,3089.7 1418.8,3089.7 1420.4,3089.7 1422.1,3089.7 1423.8,3089.7 1425.5,3089.6 1427.1,3089.6 1428.8,3089.6 1430.5,3089.5 1432.2,3089.5 1433.8,3089.4 1435.5,3089.4 1437.2,3089.3 1438.9,3089.2 1440.5,3089.2 1442.2,3089.1 1443.9,3089.0 1445.6,3088.9 1447.2,3088.8 1448.9,3088.7 1450.6,3088.6 1452.3,3088.4 1453.9,3088.3 1455.6,3088.2 1457.3,3088.0 1459.0,3087.8 1460.6,3087.7 1462.3,3087.5 1464.0,3087.3 1465.7,3087.1 1467.3,3086.9 1469.0,3086.6 1470.7,3086.4 1472.4,3086.1 1474.0,3085.8 1475.7,3085.5 1477.4,3085.2 1479.1,3084.9 1480.7,3084.5 1482.4,3084.1 1484.1,3083.7 1485.8,3083.2 1487.4,3082.8 1489.1,3082.3 1490.8,3081.7 1492.5,3081.1 1494.1,3080.5 1495.8,3079.9 1497.5,3079.1 1499.2,3078.3 1500.9,3077.5 1502.5,3076.6 1504.2,3075.6 1505.9,3074.5 1507.6,3073.4 1509.2,3072.1 1510.9,3070.7 1512.6,3069.2 1514.3,3067.6 1515.9,3065.7 1517.6,3063.7 1519.3,3061.5 1521.0,3059.0 1522.6,3056.3 1524.3,3053.3 1526.0,3049.9 1527.7,3046.1 1529.3,3041.8 1531.0,3037.1 1532.7,3031.7 1534.4,3025.7 1536.0,3018.9 1537.7,3011.4 1539.4,3002.9 1541.1,2993.5 1542.7,2983.1 1544.4,2971.9 1546.1,2960.0 1547.8,2947.6 1549.4,2935.4 1551.1,2923.8 1552.8,2913.8 1554.5,2906.3 1556.1,2901.9 1557.8,2901.1 1559.5,2904.0 1561.1,2910.2 1562.8,2919.1 1564.5,2929.7 1566.1,2941.4 1567.8,2953.2 1569.5,2964.9 1571.1,2975.8 1572.8,2986.0 1574.5,2995.2 1576.1,3003.4 1577.8,3010.7 1579.5,3017.2 1581.1,3022.9 1582.8,3027.9 1584.5,3032.3 1586.1,3036.1 1587.8,3039.3 1589.4,3042.2 1591.1,3044.6 1592.8,3046.7 1594.4,3048.4 1596.1,3049.8 1597.8,3051.0 1599.4,3051.9 1601.1,3052.5 1602.8,3052.9 1604.4,3053.1 1606.1,3053.1 1607.8,3052.8 1609.4,3052.3 1611.1,3051.6 1612.8,3050.7 1614.4,3049.4 1616.1,3048.0 1617.8,3046.2 1619.4,3044.1 1621.1,3041.6 1622.8,3038.8 1624.4,3035.5 1626.1,3031.7 1627.8,3027.4 1629.4,3022.5 1631.1,3016.9 1632.8,3010.5 1634.4,3003.3 1636.1,2995.2 1637.8,2986.1 1639.4,2976.1 1641.1,2965.2 1642.7,2953.6 1644.4,2941.5 1646.1,2929.5 1647.7,2918.2 1649.4,2908.4 1651.1,2900.9 1652.7,2896.5 1654.4,2895.7 1656.1,2898.5 1657.7,2904.7 1659.4,2913.5 1661.1,2924.2 1662.7,2935.8 1664.4,2947.8 1666.0,2959.5 1667.7,2970.6 1669.4,2980.8 1671.0,2990.1 1672.7,2998.5 1674.4,3005.9 1676.0,3012.5 1677.7,3018.2 1679.3,3023.3 1681.0,3027.7 1682.7,3031.5 1684.3,3034.8 1686.0,3037.6 1687.7,3040.0 1689.3,3042.1 1691.0,3043.8 1692.7,3045.1 1694.3,3046.2 1696.0,3047.0 1697.6,3047.5 1699.3,3047.8 1701.0,3047.8 1702.6,3047.6 1704.3,3047.1 1706.0,3046.4 1707.6,3045.4 1709.3,3044.1 1710.9,3042.5 1712.6,3040.5 1714.3,3038.3 1715.9,3035.6 1717.6,3032.5 1719.3,3028.9 1720.9,3024.7 1722.6,3020.0 1724.2,3014.6 1725.9,3008.4 1727.6,3001.4 1729.2,2993.5 1730.9,2984.7 1732.6,2974.8 1734.2,2964.1 1735.9,2952.6 1737.5,2940.5 1739.2,2928.3 1740.9,2916.6 1742.5,2906.1 1744.2,2897.7 1745.9,2892.1 1747.5,2890.0 1749.2,2891.5 1750.9,2896.6 1752.6,2904.5 1754.2,2914.5 1755.9,2925.7 1757.6,2937.4 1759.3,2948.8 1761.0,2959.6 1762.6,2969.6 1764.3,2978.5 1766.0,2986.4 1767.7,2993.2 1769.4,2999.1 1771.0,3004.0 1772.7,3008.0 1774.4,3011.3 1776.1,3013.7 1777.8,3015.5 1779.4,3016.6 1781.1,3017.0 1782.8,3016.7 1784.5,3015.7 1786.2,3014.1 1787.8,3011.8 1789.5,3008.6 1791.2,3004.7 1792.9,2999.9 1794.6,2994.2 1796.2,2987.5 1797.9,2979.7 1799.6,2971.0 1801.3,2961.2 1803.0,2950.5 1804.6,2939.2 1806.3,2927.7 1808.0,2916.7 1809.7,2906.8 1811.4,2899.1 1813.0,2894.2 1814.7,2892.9 1816.4,2895.2 1818.1,2901.0 1819.7,2909.7 1821.4,2920.4 1823.1,2932.5 1824.7,2944.9 1826.4,2957.3 1828.1,2969.1 1829.7,2980.1 1831.4,2990.2 1833.1,2999.4 1834.7,3007.6 1836.4,3015.0 1838.1,3021.5 1839.7,3027.4 1841.4,3032.5 1843.1,3037.1 1844.8,3041.2 1846.4,3044.9 1848.1,3048.2 1849.8,3051.1 1851.4,3053.7 1853.1,3056.0 1854.8,3058.1 1856.4,3060.0 1858.1,3061.7 1859.8,3063.3 1861.4,3064.7 1863.1,3065.9 1864.8,3067.0 1866.4,3068.1 1868.1,3069.0 1869.8,3069.8 1871.4,3070.5 1873.1,3071.2 1874.8,3071.8 1876.5,3072.3 1878.1,3072.8 1879.8,3073.1 1881.5,3073.5 1883.1,3073.8 1884.8,3074.0 1886.5,3074.2 1888.1,3074.3 1889.8,3074.4 1891.5,3074.5 1893.1,3074.5 1894.8,3074.5 1896.5,3074.4 1898.1,3074.2 1899.8,3074.1 1901.5,3073.8 1903.1,3073.6 1904.8,3073.3 1906.5,3072.9 1908.2,3072.5 1909.8,3072.0 1911.5,3071.5 1913.2,3070.9 1914.8,3070.2 1916.5,3069.5 1918.2,3068.7 1919.8,3067.8 1921.5,3066.8 1923.2,3065.7 1924.8,3064.6 1926.5,3063.3 1928.2,3061.9 1929.8,3060.3 1931.5,3058.6 1933.2,3056.8 1934.8,3054.8 1936.5,3052.5 1938.2,3050.1 1939.9,3047.4 1941.5,3044.4 1943.2,3041.1 1944.9,3037.4 1946.5,3033.3 1948.2,3028.8 1949.9,3023.8 1951.5,3018.1 1953.2,3011.9 1954.9,3004.8 1956.5,2996.9 1958.2,2988.0 1959.9,2978.0 1961.5,2966.7 1963.2,2954.0 1964.9,2939.7 1966.5,2923.7 1968.2,2905.8 1969.9,2886.2 1971.6,2864.7 1973.2,2841.6 1974.9,2817.6 1976.6,2793.3 1978.2,2770.1 1979.9,2749.4 1981.6,2732.9 1983.2,2722.3 1984.9,2718.7 1986.6,2722.5 1988.2,2733.3 1989.9,2750.0 1991.6,2770.9 1993.3,2794.4 1994.9,2818.8 1996.6,2843.0 1998.3,2866.1 1999.9,2887.7 2001.6,2907.5 2003.3,2925.5 2005.0,2941.6 2006.6,2955.9 2008.3,2968.7 2010.0,2980.1 2011.6,2990.2 2013.3,2999.2 2015.0,3007.3 2016.7,3014.4 2018.3,3020.8 2020.0,3026.6 2021.7,3031.7 2023.3,3036.4 2025.0,3040.6 2026.7,3044.4 2028.4,3047.8 2030.0,3050.9 2031.7,3053.8 2033.4,3056.4 2035.0,3058.8 2036.7,3061.0 2038.4,3063.0 2040.1,3064.9 2041.7,3066.6 2043.4,3068.2 2045.1,3069.6 2046.7,3071.0 2048.4,3072.3 2050.1,3073.5 2051.8,3074.6 2053.4,3075.6 2055.1,3076.6 2056.8,3077.5 2058.4,3078.3 2060.1,3079.1 2061.8,3079.9 2063.5,3080.6 2065.1,3081.2 2066.8,3081.9 2068.5,3082.5 2070.2,3083.0 2071.8,3083.5 2073.5,3084.1 2075.2,3084.5 2076.8,3085.0 2078.5,3085.4 2080.2,3085.8 2081.9,3086.2 2083.5,3086.6 2085.2,3086.9 2086.9,3087.3 2088.5,3087.6 2090.2,3087.9 2091.9,3088.2 2093.6,3088.5 2095.2,3088.8 2096.9,3089.0 2098.6,3089.3 2100.2,3089.5 2101.9,3089.8 2103.6,3090.0 2105.3,3090.2 2106.9,3090.4 2108.6,3090.6 2110.3,3090.8 2111.9,3091.0 2113.6,3091.1 2115.3,3091.3 2117.0,3091.5 2118.6,3091.6 2120.3,3091.8 2122.0,3091.9 2123.6,3092.1 2125.3,3092.2 2127.0,3092.4 2128.7,3092.5 2130.3,3092.6 2132.0,3092.7 2133.7,3092.9 2135.3,3093.0 2137.0,3093.1 2138.7,3093.2 2140.4,3093.3 2142.0,3093.4 2143.7,3093.5 2145.4,3093.6 2147.0,3093.7 2148.7,3093.8 2150.4,3093.9 2152.1,3093.9 2153.7,3094.0 2155.4,3094.1 2157.1,3094.2 2158.7,3094.3 2160.4,3094.3 2162.1,3094.4 2163.8,3094.5 2165.4,3094.5 2167.1,3094.6 2168.8,3094.7 2170.4,3094.7 2172.1,3094.8 2173.8,3094.9 2175.5,3094.9 2177.1,3095.0 2178.8,3095.0 2180.5,3095.1 2182.1,3095.2 2183.8,3095.2 2185.5,3095.3 2187.2,3095.3 2188.8,3095.4 2190.5,3095.4 2192.2,3095.5 2193.8,3095.5 2195.5,3095.5 2197.2,3095.6 2198.9,3095.6 2200.5,3095.7 2202.2,3095.7 2203.9,3095.8 2205.5,3095.8 2207.2,3095.8 2208.9,3095.9 2210.6,3095.9 2212.2,3095.9 2213.9,3096.0 2215.6,3096.0 2217.3,3096.1 2218.9,3096.1 2220.6,3096.1 2222.3,3096.2 2223.9,3096.2 2225.6,3096.2 2227.3,3096.2 2229.0,3096.3 2230.6,3096.3 2232.3,3096.3 2234.0,3096.4 2235.6,3096.4 2237.3,3096.4 2239.0,3096.5 2240.7,3096.5 2242.3,3096.5 2244.0,3096.5 2245.7,3096.6 2247.3,3096.6 2249.0,3096.6 2250.7,3096.6 2252.4,3096.7 2254.0,3096.7 2254.7,3096.7" fill="none" stroke="#000" stroke-width="9.4" stroke-linejoin="miter" stroke-miterlimit="10"/>
</g>
<path d="M214.4 2583.0H2276.6V3101.3H214.4ZM220.9 2589.1V3096.1H2271.7V2589.1Z" fill="#000" fill-rule="evenodd"/>
<path d="M217.7 3099.1h52.5M2274.1 3099.1h-52.5M217.7 3016.3h52.5M2274.1 3016.3h-52.5M217.7 2933.5h52.5M2274.1 2933.5h-52.5M217.7 2850.7h52.5M2274.1 2850.7h-52.5M217.7 2767.9h52.5M2274.1 2767.9h-52.5M217.7 2685.1h52.5M2274.1 2685.1h-52.5M217.7 2602.3h52.5M2274.1 2602.3h-52.5M217.7 3057.7h27M2274.1 3057.7h-27M217.7 2974.9h27M2274.1 2974.9h-27M217.7 2892.1h27M2274.1 2892.1h-27M217.7 2809.3h27M2274.1 2809.3h-27M217.7 2726.5h27M2274.1 2726.5h-27M217.7 2643.7h27M2274.1 2643.7h-27" stroke="#000" stroke-width="5.2" fill="none"/>
<path d="M226.2 3099.1v-51M560.5 3099.1v-51M894.8 3099.1v-51M1229.2 3099.1v-51M1563.5 3099.1v-51M1897.8 3099.1v-51M2232.1 3099.1v-51M393.4 3099.1v-25M727.7 3099.1v-25M1062.0 3099.1v-25M1396.3 3099.1v-25M1730.6 3099.1v-25M2065.0 3099.1v-25" stroke="#000" stroke-width="4.4" fill="none"/>
<text x="194" y="3123.6" font-size="71" text-anchor="end">0</text>
<text x="194" y="3040.8" font-size="71" text-anchor="end">0.5</text>
<text x="194" y="2958.0" font-size="71" text-anchor="end">1</text>
<text x="194" y="2875.2" font-size="71" text-anchor="end">1.5</text>
<text x="194" y="2792.4" font-size="71" text-anchor="end">2</text>
<text x="194" y="2709.6" font-size="71" text-anchor="end">2.5</text>
<text x="194" y="2626.8" font-size="71" text-anchor="end">3</text>
<text x="227.2" y="3174.6" font-size="71" text-anchor="middle">-4.8</text>
<text x="561.5" y="3174.6" font-size="71" text-anchor="middle">-4.4</text>
<text x="895.8" y="3174.6" font-size="71" text-anchor="middle">-4</text>
<text x="1230.2" y="3174.6" font-size="71" text-anchor="middle">-3.6</text>
<text x="1564.5" y="3174.6" font-size="71" text-anchor="middle">-3.2</text>
<text x="1898.8" y="3174.6" font-size="71" text-anchor="middle">-2.8</text>
<text x="2233.1" y="3174.6" font-size="71" text-anchor="middle">-2.4</text>
<text transform="translate(79.0 2840.6) rotate(-90)" font-size="91" text-anchor="middle">DOS</text>
<text x="911.5" y="2704.5" font-size="91.5" font-weight="bold">C6</text>
<g>
<polyline points="217.8,3743.4 219.5,3743.4 221.2,3743.4 222.9,3743.4 224.5,3743.4 226.2,3743.4 227.9,3743.4 229.5,3743.4 231.2,3743.4 232.9,3743.4 234.6,3743.4 236.2,3743.4 237.9,3743.4 239.6,3743.4 241.2,3743.4 242.9,3743.4 244.6,3743.4 246.3,3743.4 247.9,3743.4 249.6,3743.4 251.3,3743.4 252.9,3743.4 254.6,3743.4 256.3,3743.4 258.0,3743.4 259.6,3743.4 261.3,3743.4 263.0,3743.4 264.6,3743.4 266.3,3743.4 268.0,3743.4 269.7,3743.4 271.3,3743.4 273.0,3743.4 274.7,3743.4 276.3,3743.4 278.0,3743.4 279.7,3743.4 281.4,3743.4 283.0,3743.4 284.7,3743.4 286.4,3743.4 288.0,3743.4 289.7,3743.4 291.4,3743.4 293.1,3743.4 294.7,3743.4 296.4,3743.4 298.1,3743.4 299.8,3743.4 301.4,3743.4 303.1,3743.4 304.8,3743.4 306.4,3743.4 308.1,3743.4 309.8,3743.4 311.5,3743.4 313.1,3743.4 314.8,3743.4 316.5,3743.4 318.1,3743.4 319.8,3743.4 321.5,3743.4 323.2,3743.4 324.8,3743.4 326.5,3743.4 328.2,3743.4 329.8,3743.4 331.5,3743.4 333.2,3743.4 334.9,3743.4 336.5,3743.4 338.2,3743.4 339.9,3743.4 341.5,3743.4 343.2,3743.4 344.9,3743.4 346.6,3743.4 348.2,3743.4 349.9,3743.4 351.6,3743.4 353.2,3743.4 354.9,3743.4 356.6,3743.4 358.3,3743.4 359.9,3743.4 361.6,3743.4 363.3,3743.4 364.9,3743.4 366.6,3743.4 368.3,3743.4 370.0,3743.4 371.6,3743.4 373.3,3743.4 375.0,3743.4 376.6,3743.4 378.3,3743.4 380.0,3743.4 381.7,3743.4 383.3,3743.4 385.0,3743.4 386.7,3743.4 388.3,3743.4 390.0,3743.4 391.7,3743.4 393.4,3743.4 395.0,3743.4 396.7,3743.4 398.4,3743.4 400.0,3743.4 401.7,3743.4 403.4,3743.4 405.1,3743.3 406.7,3743.3 408.4,3743.3 410.1,3743.2 411.7,3743.1 413.4,3743.0 415.1,3742.8 416.8,3742.6 418.4,3742.3 420.1,3741.8 421.8,3741.3 423.4,3740.5 425.1,3739.5 426.8,3738.3 428.5,3736.7 430.1,3734.6 431.8,3732.0 433.5,3728.8 435.1,3724.8 436.8,3720.0 438.5,3714.1 440.2,3707.1 441.8,3698.8 443.5,3689.1 445.2,3677.8 446.9,3664.9 448.5,3650.2 450.2,3633.7 451.9,3615.4 453.5,3595.4 455.2,3573.7 456.9,3550.6 458.6,3526.1 460.2,3500.7 461.9,3474.6 463.6,3448.2 465.2,3422.1 466.9,3396.7 468.6,3372.5 470.3,3350.0 471.9,3329.7 473.6,3312.2 475.3,3297.8 476.9,3286.8 478.6,3279.7 480.3,3276.5 482.0,3277.3 483.6,3282.1 485.3,3290.8 487.0,3303.1 488.6,3318.8 490.3,3337.5 492.0,3358.7 493.7,3382.0 495.3,3406.7 497.0,3432.5 498.7,3458.8 500.3,3485.0 502.0,3510.9 503.7,3536.0 505.4,3560.0 507.0,3582.6 508.7,3603.6 510.4,3623.0 512.0,3640.5 513.7,3656.3 515.4,3670.2 517.1,3682.5 518.7,3693.1 520.4,3702.3 522.1,3710.1 523.7,3716.6 525.4,3722.0 527.1,3726.5 528.8,3730.2 530.4,3733.1 532.1,3735.5 533.8,3737.4 535.4,3738.8 537.1,3740.0 538.8,3740.8 540.5,3741.5 542.1,3742.0 543.8,3742.4 545.5,3742.7 547.1,3742.9 548.8,3743.0 550.5,3743.1 552.2,3743.2 553.8,3743.3 555.5,3743.3 557.2,3743.3 558.8,3743.4 560.5,3743.4 562.2,3743.4 563.9,3743.4 565.5,3743.4 567.2,3743.4 568.9,3743.4 570.5,3743.4 572.2,3743.4 573.9,3743.4 575.6,3743.4 577.2,3743.4 578.9,3743.4 580.6,3743.4 582.3,3743.4 583.9,3743.4 585.6,3743.4 587.3,3743.4 588.9,3743.4 590.6,3743.3 592.3,3743.3 594.0,3743.3 595.6,3743.2 597.3,3743.1 599.0,3743.0 600.6,3742.9 602.3,3742.7 604.0,3742.4 605.7,3742.1 607.3,3741.6 609.0,3741.0 610.7,3740.2 612.3,3739.3 614.0,3738.0 615.7,3736.5 617.4,3734.6 619.0,3732.3 620.7,3729.5 622.4,3726.1 624.0,3722.1 625.7,3717.3 627.4,3711.8 629.1,3705.4 630.7,3698.2 632.4,3690.0 634.1,3680.8 635.7,3670.6 637.4,3659.5 639.1,3647.5 640.8,3634.6 642.4,3621.0 644.1,3606.8 645.8,3592.1 647.4,3577.0 649.1,3561.8 650.8,3546.7 652.5,3531.8 654.1,3517.3 655.8,3503.4 657.5,3490.3 659.1,3478.0 660.8,3466.7 662.5,3456.5 664.2,3447.3 665.8,3439.3 667.5,3432.3 669.2,3426.4 670.8,3421.5 672.5,3417.6 674.2,3414.6 675.9,3412.4 677.5,3410.9 679.2,3410.2 680.9,3410.1 682.5,3410.7 684.2,3411.9 685.9,3413.8 687.6,3416.2 689.2,3419.3 690.9,3422.8 692.6,3426.9 694.2,3431.4 695.9,3436.3 697.6,3441.5 699.3,3446.7 700.9,3451.9 702.6,3457.0 704.3,3461.8 705.9,3466.1 707.6,3469.8 709.3,3472.9 711.0,3475.2 712.6,3476.8 714.3,3477.6 716.0,3477.6 717.7,3477.1 719.3,3476.1 721.0,3474.7 722.7,3473.2 724.3,3471.7 726.0,3470.4 727.7,3469.4 729.4,3468.9 731.0,3468.9 732.7,3469.6 734.4,3471.0 736.0,3472.9 737.7,3475.4 739.4,3478.2 741.1,3481.3 742.7,3484.5 744.4,3487.5 746.1,3490.2 747.7,3492.5 749.4,3494.2 751.1,3495.1 752.8,3495.2 754.4,3494.5 756.1,3493.0 757.8,3490.7 759.4,3487.8 761.1,3484.3 762.8,3480.5 764.5,3476.5 766.1,3472.5 767.8,3468.6 769.5,3465.0 771.1,3461.7 772.8,3458.9 774.5,3456.6 776.2,3454.7 777.8,3453.2 779.5,3452.1 781.2,3451.1 782.8,3450.2 784.5,3449.2 786.2,3447.9 787.9,3446.3 789.5,3444.1 791.2,3441.4 792.9,3438.0 794.5,3434.0 796.2,3429.3 797.9,3424.0 799.6,3418.2 801.2,3412.0 802.9,3405.6 804.6,3399.1 806.2,3392.6 807.9,3386.5 809.6,3380.8 811.3,3375.7 812.9,3371.3 814.6,3367.9 816.3,3365.5 817.9,3364.3 819.6,3364.3 821.3,3365.6 823.0,3368.4 824.6,3372.6 826.3,3378.3 828.0,3385.5 829.6,3394.1 831.3,3404.1 833.0,3415.5 834.7,3428.2 836.3,3442.0 838.0,3456.8 839.7,3472.5 841.3,3488.9 843.0,3505.8 844.7,3523.1 846.4,3540.4 848.0,3557.6 849.7,3574.6 851.4,3591.2 853.0,3607.1 854.7,3622.2 856.4,3636.5 858.1,3649.8 859.7,3662.1 861.4,3673.4 863.1,3683.5 864.8,3692.6 866.4,3700.7 868.1,3707.8 869.8,3713.9 871.4,3719.2 873.1,3723.7 874.8,3727.5 876.5,3730.7 878.1,3733.3 879.8,3735.5 881.5,3737.2 883.1,3738.6 884.8,3739.7 886.5,3740.6 888.2,3741.3 889.8,3741.8 891.5,3742.2 893.2,3742.5 894.8,3742.8 896.5,3742.9 898.2,3743.1 899.9,3743.2 901.5,3743.2 903.2,3743.3 904.9,3743.3 906.5,3743.3 908.2,3743.4 909.9,3743.4 911.6,3743.4 913.2,3743.4 914.9,3743.4 916.6,3743.4 918.2,3743.4 919.9,3743.4 921.6,3743.4 923.3,3743.4 924.9,3743.4 926.6,3743.4 928.3,3743.4 929.9,3743.4 931.6,3743.4 933.3,3743.4 935.0,3743.4 936.6,3743.4 938.3,3743.4 940.0,3743.4 941.6,3743.4 943.3,3743.4 945.0,3743.4 946.7,3743.4 948.3,3743.4 950.0,3743.4 951.7,3743.4 953.3,3743.4 955.0,3743.4 956.7,3743.4 958.4,3743.4 960.0,3743.4 961.7,3743.4 963.4,3743.4 965.0,3743.4 966.7,3743.4 968.4,3743.4 970.1,3743.4 971.7,3743.4 973.4,3743.4 975.1,3743.4 976.7,3743.4 978.4,3743.4 980.1,3743.4 981.8,3743.4 983.4,3743.4 985.1,3743.4 986.8,3743.4 988.4,3743.4 990.1,3743.4 991.8,3743.4 993.5,3743.4 995.1,3743.4 996.8,3743.4 998.5,3743.4 1000.2,3743.4 1001.8,3743.4 1003.5,3743.4 1005.2,3743.4 1006.8,3743.4 1008.5,3743.4 1010.2,3743.4 1011.9,3743.4 1013.5,3743.4 1015.2,3743.4 1016.9,3743.4 1018.5,3743.4 1020.2,3743.4 1021.9,3743.4 1023.6,3743.4 1025.2,3743.4 1026.9,3743.4 1028.6,3743.4 1030.2,3743.4 1031.9,3743.4 1033.6,3743.4 1035.3,3743.4 1036.9,3743.4 1038.6,3743.4 1040.3,3743.4 1041.9,3743.4 1043.6,3743.4 1045.3,3743.4 1047.0,3743.4 1048.6,3743.4 1050.3,3743.4 1052.0,3743.4 1053.6,3743.4 1055.3,3743.4 1057.0,3743.4 1058.7,3743.4 1060.3,3743.4 1062.0,3743.4 1063.7,3743.4 1065.3,3743.4 1067.0,3743.4 1068.7,3743.4 1070.4,3743.4 1072.0,3743.4 1073.7,3743.4 1075.4,3743.4 1077.0,3743.4 1078.7,3743.4 1080.4,3743.4 1082.1,3743.4 1083.7,3743.4 1085.4,3743.4 1087.1,3743.4 1088.7,3743.4 1090.4,3743.4 1092.1,3743.4 1093.8,3743.4 1095.4,3743.4 1097.1,3743.4 1098.8,3743.4 1100.4,3743.4 1102.1,3743.4 1103.8,3743.4 1105.5,3743.4 1107.1,3743.4 1108.8,3743.4 1110.5,3743.4 1112.1,3743.4 1113.8,3743.4 1115.5,3743.4 1117.2,3743.4 1118.8,3743.4 1120.5,3743.4 1122.2,3743.4 1123.8,3743.4 1125.5,3743.4 1127.2,3743.4 1128.9,3743.4 1130.5,3743.4 1132.2,3743.4 1133.9,3743.4 1135.6,3743.4 1137.2,3743.4 1138.9,3743.4 1140.6,3743.4 1142.2,3743.4 1143.9,3743.4 1145.6,3743.4 1147.3,3743.4 1148.9,3743.4 1150.6,3743.4 1152.3,3743.4 1153.9,3743.4 1155.6,3743.4 1157.3,3743.4 1159.0,3743.4 1160.6,3743.4 1162.3,3743.4 1164.0,3743.3 1165.6,3743.3 1167.3,3743.3 1169.0,3743.2 1170.7,3743.1 1172.3,3743.0 1174.0,3742.8 1175.7,3742.6 1177.3,3742.3 1179.0,3741.9 1180.7,3741.4 1182.4,3740.8 1184.0,3739.9 1185.7,3738.8 1187.4,3737.4 1189.0,3735.7 1190.7,3733.5 1192.4,3730.9 1194.1,3727.6 1195.7,3723.6 1197.4,3718.9 1199.1,3713.2 1200.7,3706.6 1202.4,3698.8 1204.1,3689.8 1205.8,3679.5 1207.4,3667.9 1209.1,3654.8 1210.8,3640.3 1212.4,3624.4 1214.1,3607.0 1215.8,3588.4 1217.5,3568.5 1219.1,3547.6 1220.8,3525.8 1222.5,3503.5 1224.1,3480.9 1225.8,3458.4 1227.5,3436.2 1229.2,3414.7 1230.8,3394.3 1232.5,3375.5 1234.2,3358.5 1235.8,3343.6 1237.5,3331.2 1239.2,3321.6 1240.9,3314.9 1242.5,3311.3 1244.2,3310.8 1245.9,3313.5 1247.5,3319.3 1249.2,3328.0 1250.9,3339.6 1252.6,3353.8 1254.2,3370.2 1255.9,3388.5 1257.6,3408.5 1259.2,3429.6 1260.9,3451.6 1262.6,3474.1 1264.3,3496.8 1265.9,3519.2 1267.6,3541.1 1269.3,3562.3 1270.9,3582.5 1272.6,3601.6 1274.3,3619.3 1276.0,3635.7 1277.6,3650.6 1279.3,3664.1 1281.0,3676.2 1282.7,3686.9 1284.3,3696.2 1286.0,3704.3 1287.7,3711.3 1289.3,3717.3 1291.0,3722.3 1292.7,3726.5 1294.4,3729.9 1296.0,3732.8 1297.7,3735.1 1299.4,3737.0 1301.0,3738.4 1302.7,3739.6 1304.4,3740.5 1306.1,3741.3 1307.7,3741.8 1309.4,3742.2 1311.1,3742.5 1312.7,3742.8 1314.4,3743.0 1316.1,3743.1 1317.8,3743.2 1319.4,3743.2 1321.1,3743.3 1322.8,3743.3 1324.4,3743.3 1326.1,3743.4 1327.8,3743.4 1329.5,3743.4 1331.1,3743.4 1332.8,3743.4 1334.5,3743.4 1336.1,3743.4 1337.8,3743.4 1339.5,3743.4 1341.2,3743.4 1342.8,3743.4 1344.5,3743.4 1346.2,3743.4 1347.8,3743.4 1349.5,3743.4 1351.2,3743.4 1352.9,3743.4 1354.5,3743.4 1356.2,3743.4 1357.9,3743.4 1359.5,3743.4 1361.2,3743.4 1362.9,3743.4 1364.6,3743.4 1366.2,3743.4 1367.9,3743.4 1369.6,3743.4 1371.2,3743.4 1372.9,3743.4 1374.6,3743.4 1376.3,3743.4 1377.9,3743.4 1379.6,3743.4 1381.3,3743.4 1382.9,3743.4 1384.6,3743.4 1386.3,3743.4 1388.0,3743.4 1389.6,3743.4 1391.3,3743.4 1393.0,3743.4 1394.6,3743.4 1396.3,3743.4 1398.0,3743.4 1399.7,3743.4 1401.3,3743.4 1403.0,3743.4 1404.7,3743.4 1406.3,3743.4 1408.0,3743.4 1409.7,3743.4 1411.4,3743.4 1413.0,3743.4 1414.7,3743.4 1416.4,3743.4 1418.1,3743.4 1419.7,3743.4 1421.4,3743.4 1423.1,3743.4 1424.7,3743.4 1426.4,3743.4 1428.1,3743.4 1429.8,3743.4 1431.4,3743.4 1433.1,3743.4 1434.8,3743.4 1436.4,3743.4 1438.1,3743.4 1439.8,3743.4 1441.5,3743.4 1443.1,3743.4 1444.8,3743.4 1446.5,3743.4 1448.1,3743.4 1449.8,3743.4 1451.5,3743.4 1453.2,3743.4 1454.8,3743.4 1456.5,3743.4 1458.2,3743.4 1459.8,3743.4 1461.5,3743.4 1463.2,3743.4 1464.9,3743.4 1466.5,3743.4 1468.2,3743.4 1469.9,3743.4 1471.5,3743.4 1473.2,3743.4 1474.9,3743.4 1476.6,3743.4 1478.2,3743.4 1479.9,3743.4 1481.6,3743.4 1483.2,3743.4 1484.9,3743.4 1486.6,3743.4 1488.3,3743.4 1489.9,3743.4 1491.6,3743.4 1493.3,3743.4 1494.9,3743.4 1496.6,3743.4 1498.3,3743.4 1500.0,3743.4 1501.6,3743.4 1503.3,3743.4 1505.0,3743.4 1506.6,3743.4 1508.3,3743.4 1510.0,3743.4 1511.7,3743.4 1513.3,3743.4 1515.0,3743.4 1516.7,3743.4 1518.3,3743.4 1520.0,3743.4 1521.7,3743.4 1523.4,3743.4 1525.0,3743.4 1526.7,3743.4 1528.4,3743.4 1530.0,3743.4 1531.7,3743.4 1533.4,3743.4 1535.1,3743.4 1536.7,3743.4 1538.4,3743.4 1540.1,3743.4 1541.7,3743.4 1543.4,3743.4 1545.1,3743.4 1546.8,3743.4 1548.4,3743.4 1550.1,3743.4 1551.8,3743.3 1553.5,3743.3 1555.1,3743.3 1556.8,3743.2 1558.5,3743.1 1560.1,3743.0 1561.8,3742.9 1563.5,3742.7 1565.2,3742.4 1566.8,3742.1 1568.5,3741.6 1570.2,3741.0 1571.8,3740.2 1573.5,3739.3 1575.2,3738.0 1576.9,3736.5 1578.5,3734.6 1580.2,3732.2 1581.9,3729.4 1583.5,3726.0 1585.2,3721.9 1586.9,3717.1 1588.6,3711.5 1590.2,3705.0 1591.9,3697.6 1593.6,3689.2 1595.2,3679.8 1596.9,3669.4 1598.6,3657.9 1600.3,3645.5 1601.9,3632.1 1603.6,3617.8 1605.3,3602.8 1606.9,3587.2 1608.6,3571.2 1610.3,3554.8 1612.0,3538.3 1613.6,3521.9 1615.3,3505.8 1617.0,3490.1 1618.6,3475.0 1620.3,3460.7 1622.0,3447.3 1623.7,3435.0 1625.3,3423.7 1627.0,3413.7 1628.7,3404.9 1630.3,3397.3 1632.0,3391.0 1633.7,3385.9 1635.4,3382.1 1637.0,3379.3 1638.7,3377.7 1640.4,3377.1 1642.0,3377.5 1643.7,3378.8 1645.4,3380.9 1647.1,3383.7 1648.7,3387.1 1650.4,3391.1 1652.1,3395.4 1653.7,3400.0 1655.4,3404.7 1657.1,3409.5 1658.8,3414.1 1660.4,3418.5 1662.1,3422.6 1663.8,3426.2 1665.4,3429.4 1667.1,3432.1 1668.8,3434.3 1670.5,3436.1 1672.1,3437.4 1673.8,3438.4 1675.5,3439.2 1677.1,3439.9 1678.8,3440.6 1680.5,3441.5 1682.2,3442.5 1683.8,3443.7 1685.5,3445.3 1687.2,3447.2 1688.8,3449.3 1690.5,3451.7 1692.2,3454.2 1693.9,3456.7 1695.5,3459.1 1697.2,3461.2 1698.9,3463.0 1700.6,3464.4 1702.2,3465.2 1703.9,3465.3 1705.6,3464.9 1707.2,3463.8 1708.9,3462.1 1710.6,3460.0 1712.3,3457.4 1713.9,3454.5 1715.6,3451.4 1717.3,3448.3 1718.9,3445.2 1720.6,3442.2 1722.3,3439.4 1724.0,3436.8 1725.6,3434.4 1727.3,3432.2 1729.0,3430.1 1730.6,3428.0 1732.3,3425.8 1734.0,3423.5 1735.7,3420.9 1737.3,3417.9 1739.0,3414.5 1740.7,3410.6 1742.3,3406.2 1744.0,3401.3 1745.7,3396.0 1747.4,3390.3 1749.0,3384.3 1750.7,3378.3 1752.4,3372.2 1754.0,3366.4 1755.7,3361.0 1757.4,3356.2 1759.1,3352.1 1760.7,3349.0 1762.4,3346.9 1764.1,3346.1 1765.7,3346.7 1767.4,3348.7 1769.1,3352.3 1770.8,3357.5 1772.4,3364.3 1774.1,3372.7 1775.8,3382.7 1777.4,3394.2 1779.1,3407.1 1780.8,3421.3 1782.5,3436.7 1784.1,3453.0 1785.8,3470.1 1787.5,3487.9 1789.1,3506.0 1790.8,3524.2 1792.5,3542.5 1794.2,3560.4 1795.8,3578.0 1797.5,3594.9 1799.2,3611.1 1800.8,3626.4 1802.5,3640.7 1804.2,3653.9 1805.9,3666.1 1807.5,3677.1 1809.2,3687.0 1810.9,3695.8 1812.5,3703.5 1814.2,3710.3 1815.9,3716.1 1817.6,3721.1 1819.2,3725.3 1820.9,3728.9 1822.6,3731.8 1824.2,3734.3 1825.9,3736.2 1827.6,3737.8 1829.3,3739.1 1830.9,3740.1 1832.6,3740.9 1834.3,3741.5 1836.0,3742.0 1837.6,3742.4 1839.3,3742.7 1841.0,3742.9 1842.6,3743.0 1844.3,3743.1 1846.0,3743.2 1847.7,3743.3 1849.3,3743.3 1851.0,3743.3 1852.7,3743.4 1854.3,3743.4 1856.0,3743.4 1857.7,3743.4 1859.4,3743.4 1861.0,3743.4 1862.7,3743.4 1864.4,3743.4 1866.0,3743.4 1867.7,3743.4 1869.4,3743.4 1871.1,3743.4 1872.7,3743.4 1874.4,3743.4 1876.1,3743.4 1877.7,3743.4 1879.4,3743.4 1881.1,3743.4 1882.8,3743.4 1884.4,3743.4 1886.1,3743.4 1887.8,3743.4 1889.4,3743.4 1891.1,3743.4 1892.8,3743.4 1894.5,3743.4 1896.1,3743.4 1897.8,3743.4 1899.5,3743.4 1901.1,3743.4 1902.8,3743.4 1904.5,3743.4 1906.2,3743.4 1907.8,3743.4 1909.5,3743.4 1911.2,3743.4 1912.8,3743.4 1914.5,3743.4 1916.2,3743.4 1917.9,3743.4 1919.5,3743.4 1921.2,3743.4 1922.9,3743.4 1924.5,3743.4 1926.2,3743.4 1927.9,3743.4 1929.6,3743.4 1931.2,3743.4 1932.9,3743.4 1934.6,3743.4 1936.2,3743.3 1937.9,3743.3 1939.6,3743.3 1941.3,3743.2 1942.9,3743.1 1944.6,3743.0 1946.3,3742.9 1947.9,3742.7 1949.6,3742.4 1951.3,3742.0 1953.0,3741.5 1954.6,3740.8 1956.3,3739.9 1958.0,3738.7 1959.6,3737.2 1961.3,3735.3 1963.0,3732.9 1964.7,3729.8 1966.3,3726.1 1968.0,3721.5 1969.7,3716.0 1971.4,3709.3 1973.0,3701.4 1974.7,3692.1 1976.4,3681.3 1978.0,3668.9 1979.7,3654.8 1981.4,3638.8 1983.1,3621.1 1984.7,3601.6 1986.4,3580.4 1988.1,3557.7 1989.7,3533.6 1991.4,3508.4 1993.1,3482.4 1994.8,3456.1 1996.4,3429.9 1998.1,3404.2 1999.8,3379.6 2001.4,3356.5 2003.1,3335.5 2004.8,3317.1 2006.5,3301.7 2008.1,3289.7 2009.8,3281.4 2011.5,3277.0 2013.1,3276.6 2014.8,3280.2 2016.5,3287.8 2018.2,3299.1 2019.8,3313.8 2021.5,3331.6 2023.2,3352.1 2024.8,3374.8 2026.5,3399.2 2028.2,3424.7 2029.9,3450.8 2031.5,3477.2 2033.2,3503.2 2034.9,3528.6 2036.5,3552.9 2038.2,3576.0 2039.9,3597.5 2041.6,3617.4 2043.2,3635.4 2044.9,3651.7 2046.6,3666.2 2048.2,3679.0 2049.9,3690.1 2051.6,3699.7 2053.3,3707.9 2054.9,3714.7 2056.6,3720.5 2058.3,3725.3 2059.9,3729.1 2061.6,3732.3 2063.3,3734.8 2065.0,3736.8 2066.6,3738.4 2068.3,3739.7 2070.0,3740.6 2071.6,3741.3 2073.3,3741.9 2075.0,3742.3 2076.7,3742.6 2078.3,3742.8 2080.0,3743.0 2081.7,3743.1 2083.3,3743.2 2085.0,3743.3 2086.7,3743.3 2088.4,3743.3 2090.0,3743.4 2091.7,3743.4 2093.4,3743.4 2095.0,3743.4 2096.7,3743.4 2098.4,3743.4 2100.1,3743.4 2101.7,3743.4 2103.4,3743.4 2105.1,3743.4 2106.7,3743.4 2108.4,3743.4 2110.1,3743.4 2111.8,3743.4 2113.4,3743.4 2115.1,3743.4 2116.8,3743.4 2118.5,3743.4 2120.1,3743.4 2121.8,3743.4 2123.5,3743.4 2125.1,3743.4 2126.8,3743.4 2128.5,3743.4 2130.2,3743.4 2131.8,3743.4 2133.5,3743.4 2135.2,3743.4 2136.8,3743.4 2138.5,3743.4 2140.2,3743.4 2141.9,3743.4 2143.5,3743.4 2145.2,3743.4 2146.9,3743.4 2148.5,3743.4 2150.2,3743.4 2151.9,3743.4 2153.6,3743.4 2155.2,3743.4 2156.9,3743.4 2158.6,3743.4 2160.2,3743.4 2161.9,3743.4 2163.6,3743.4 2165.3,3743.4 2166.9,3743.4 2168.6,3743.4 2170.3,3743.4 2171.9,3743.4 2173.6,3743.4 2175.3,3743.4 2177.0,3743.4 2178.6,3743.4 2180.3,3743.4 2182.0,3743.4 2183.6,3743.4 2185.3,3743.4 2187.0,3743.4 2188.7,3743.4 2190.3,3743.4 2192.0,3743.4 2193.7,3743.4 2195.3,3743.4 2197.0,3743.4 2198.7,3743.4 2200.4,3743.4 2202.0,3743.4 2203.7,3743.4 2205.4,3743.4 2207.0,3743.4 2208.7,3743.4 2210.4,3743.4 2212.1,3743.4 2213.7,3743.4 2215.4,3743.4 2217.1,3743.4 2218.7,3743.4 2220.4,3743.4 2222.1,3743.4 2223.8,3743.4 2225.4,3743.4 2227.1,3743.4 2228.8,3743.4 2230.4,3743.4 2232.1,3743.4 2233.8,3743.4 2235.5,3743.4 2237.1,3743.4 2238.8,3743.4 2240.5,3743.4 2242.1,3743.4 2243.8,3743.4 2245.5,3743.4 2247.2,3743.4 2248.8,3743.4 2250.5,3743.4 2252.2,3743.4 2253.9,3743.4 2255.5,3743.4 2257.2,3743.4 2258.9,3743.4 2260.5,3743.4 2262.2,3743.4 2263.9,3743.4 2265.6,3743.4 2267.2,3743.4 2268.9,3743.4 2270.6,3743.4 2272.2,3743.4 2273.9,3743.4" fill="none" stroke="#f00" stroke-width="9.4" stroke-linejoin="round" stroke-miterlimit="10"/>
<polyline points="217.8,3740.6 218.8,3740.6 220.5,3740.6 222.2,3740.6 223.8,3740.5 225.5,3740.5 227.2,3740.5 228.9,3740.5 230.5,3740.4 232.2,3740.4 233.9,3740.4 235.6,3740.4 237.2,3740.3 238.9,3740.3 240.6,3740.3 242.2,3740.3 243.9,3740.2 245.6,3740.2 247.3,3740.2 248.9,3740.1 250.6,3740.1 252.3,3740.1 253.9,3740.0 255.6,3740.0 257.3,3740.0 259.0,3740.0 260.6,3739.9 262.3,3739.9 264.0,3739.9 265.6,3739.8 267.3,3739.8 269.0,3739.7 270.7,3739.7 272.3,3739.7 274.0,3739.6 275.7,3739.6 277.3,3739.6 279.0,3739.5 280.7,3739.5 282.4,3739.4 284.0,3739.4 285.7,3739.4 287.4,3739.3 289.0,3739.3 290.7,3739.2 292.4,3739.2 294.1,3739.1 295.7,3739.1 297.4,3739.0 299.1,3739.0 300.7,3738.9 302.4,3738.9 304.1,3738.8 305.8,3738.8 307.4,3738.7 309.1,3738.7 310.8,3738.6 312.4,3738.6 314.1,3738.5 315.8,3738.4 317.5,3738.4 319.1,3738.3 320.8,3738.2 322.5,3738.2 324.1,3738.1 325.8,3738.0 327.5,3738.0 329.2,3737.9 330.8,3737.8 332.5,3737.7 334.2,3737.7 335.8,3737.6 337.5,3737.5 339.2,3737.4 340.9,3737.3 342.5,3737.3 344.2,3737.2 345.9,3737.1 347.5,3737.0 349.2,3736.9 350.9,3736.8 352.6,3736.7 354.2,3736.6 355.9,3736.5 357.6,3736.4 359.2,3736.2 360.9,3736.1 362.6,3736.0 364.3,3735.9 365.9,3735.8 367.6,3735.6 369.3,3735.5 371.0,3735.3 372.6,3735.2 374.3,3735.1 376.0,3734.9 377.6,3734.7 379.3,3734.6 381.0,3734.4 382.7,3734.2 384.3,3734.1 386.0,3733.9 387.7,3733.7 389.3,3733.5 391.0,3733.3 392.7,3733.1 394.4,3732.8 396.0,3732.6 397.7,3732.4 399.4,3732.1 401.0,3731.9 402.7,3731.6 404.4,3731.3 406.1,3731.0 407.7,3730.7 409.4,3730.4 411.1,3730.1 412.7,3729.8 414.4,3729.4 416.1,3729.0 417.8,3728.6 419.4,3728.2 421.1,3727.8 422.8,3727.4 424.4,3726.9 426.1,3726.4 427.8,3725.9 429.5,3725.4 431.1,3724.8 432.8,3724.2 434.5,3723.6 436.1,3722.9 437.8,3722.2 439.5,3721.4 441.2,3720.7 442.8,3719.8 444.5,3718.9 446.2,3718.0 447.8,3717.0 449.5,3715.9 451.2,3714.8 452.9,3713.6 454.5,3712.3 456.2,3710.9 457.9,3709.4 459.5,3707.8 461.2,3706.0 462.9,3704.2 464.6,3702.1 466.2,3699.9 467.9,3697.6 469.6,3695.0 471.2,3692.2 472.9,3689.1 474.6,3685.7 476.3,3682.1 477.9,3678.0 479.6,3673.5 481.3,3668.6 482.9,3663.2 484.6,3657.1 486.3,3650.3 488.0,3642.8 489.6,3634.4 491.3,3624.9 493.0,3614.3 494.6,3602.4 496.3,3589.0 498.0,3574.0 499.7,3557.1 501.3,3538.2 503.0,3517.2 504.7,3494.0 506.4,3468.7 508.0,3441.8 509.7,3413.7 511.4,3385.6 513.0,3358.8 514.7,3335.3 516.4,3316.9 518.1,3305.5 519.7,3302.3 521.4,3307.7 523.1,3320.9 524.7,3340.7 526.4,3365.0 528.0,3391.9 529.7,3419.8 531.4,3447.3 533.0,3473.6 534.7,3498.0 536.4,3520.3 538.0,3540.5 539.7,3558.7 541.4,3574.8 543.0,3589.2 544.7,3601.9 546.4,3613.2 548.0,3623.3 549.7,3632.2 551.3,3640.2 553.0,3647.3 554.7,3653.6 556.3,3659.2 558.0,3664.3 559.7,3668.9 561.3,3672.9 563.0,3676.6 564.7,3679.9 566.3,3682.9 568.0,3685.6 569.7,3688.1 571.3,3690.3 573.0,3692.3 574.6,3694.1 576.3,3695.7 578.0,3697.2 579.6,3698.5 581.3,3699.7 583.0,3700.8 584.6,3701.8 586.3,3702.6 588.0,3703.4 589.6,3704.0 591.3,3704.6 593.0,3705.0 594.6,3705.4 596.3,3705.8 597.9,3706.0 599.6,3706.2 601.3,3706.2 602.9,3706.3 604.6,3706.2 606.3,3706.1 607.9,3705.9 609.6,3705.6 611.3,3705.2 612.9,3704.8 614.6,3704.3 616.3,3703.7 617.9,3703.0 619.6,3702.2 621.2,3701.3 622.9,3700.3 624.6,3699.2 626.2,3698.0 627.9,3696.6 629.6,3695.0 631.2,3693.3 632.9,3691.4 634.6,3689.4 636.2,3687.0 637.9,3684.5 639.6,3681.6 641.2,3678.5 642.9,3675.0 644.5,3671.1 646.2,3666.7 647.9,3661.8 649.5,3656.4 651.2,3650.3 652.9,3643.5 654.5,3635.8 656.2,3627.2 657.9,3617.6 659.5,3606.9 661.2,3595.0 662.9,3582.0 664.5,3567.8 666.2,3552.7 667.8,3537.1 669.5,3521.3 671.2,3506.2 672.8,3492.7 674.5,3481.7 676.2,3474.1 677.8,3470.3 679.5,3470.4 681.1,3473.9 682.8,3480.0 684.4,3487.7 686.1,3496.0 687.7,3504.0 689.4,3511.1 691.0,3516.8 692.7,3520.7 694.3,3522.5 696.0,3522.3 697.6,3520.0 699.3,3515.7 700.9,3509.4 702.6,3501.7 704.2,3492.7 705.9,3483.3 707.5,3474.2 709.2,3466.4 710.8,3460.9 712.5,3458.6 714.1,3459.9 715.8,3465.2 717.5,3474.1 719.2,3485.7 720.9,3499.1 722.6,3513.2 724.3,3527.2 726.0,3540.4 727.7,3552.6 729.4,3563.4 731.1,3572.7 732.8,3580.5 734.5,3586.8 736.2,3591.6 737.9,3595.1 739.6,3597.2 741.3,3597.9 743.0,3597.3 744.7,3595.4 746.4,3592.1 748.1,3587.4 749.8,3581.3 751.5,3573.7 753.2,3564.6 754.9,3554.2 756.6,3542.7 758.3,3530.3 759.9,3517.6 761.6,3505.4 763.3,3494.6 765.0,3486.3 766.7,3481.5 768.4,3480.7 770.1,3484.1 771.7,3491.3 773.4,3501.5 775.1,3513.9 776.7,3527.4 778.4,3541.2 780.0,3554.7 781.7,3567.5 783.3,3579.2 785.0,3589.7 786.7,3599.1 788.3,3607.2 790.0,3614.2 791.6,3620.1 793.3,3625.1 794.9,3629.1 796.6,3632.2 798.3,3634.5 799.9,3636.0 801.6,3636.7 803.2,3636.7 804.9,3635.9 806.5,3634.3 808.2,3631.9 809.9,3628.7 811.5,3624.6 813.2,3619.5 814.8,3613.4 816.5,3606.2 818.1,3597.8 819.8,3588.3 821.5,3577.5 823.1,3565.7 824.8,3553.0 826.4,3539.8 828.1,3526.6 829.7,3514.3 831.4,3503.6 833.1,3495.7 834.7,3491.3 836.4,3491.0 838.0,3494.8 839.7,3502.2 841.3,3512.6 843.0,3525.0 844.6,3538.4 846.3,3552.0 847.9,3565.3 849.6,3577.8 851.3,3589.3 852.9,3599.7 854.6,3608.8 856.2,3616.9 857.9,3623.9 859.5,3629.9 861.2,3634.9 862.8,3639.1 864.5,3642.6 866.1,3645.2 867.8,3647.2 869.4,3648.6 871.1,3649.3 872.8,3649.4 874.4,3648.9 876.1,3647.7 877.7,3645.9 879.4,3643.4 881.0,3640.2 882.7,3636.1 884.3,3631.3 886.0,3625.5 887.6,3618.8 889.3,3611.0 890.9,3602.0 892.6,3591.9 894.2,3580.6 895.9,3568.4 897.6,3555.2 899.2,3541.7 900.9,3528.3 902.5,3515.9 904.2,3505.3 905.8,3497.5 907.5,3493.4 909.1,3493.3 910.8,3497.4 912.5,3505.2 914.2,3516.0 915.9,3528.5 917.6,3542.0 919.3,3555.5 921.0,3568.5 922.6,3580.5 924.3,3591.3 926.0,3600.9 927.7,3609.3 929.4,3616.4 931.1,3622.3 932.8,3627.1 934.5,3630.9 936.2,3633.7 937.9,3635.5 939.5,3636.4 941.2,3636.4 942.9,3635.5 944.6,3633.7 946.3,3630.9 948.0,3627.1 949.7,3622.2 951.4,3616.2 953.1,3608.9 954.8,3600.5 956.4,3590.8 958.1,3579.8 959.8,3567.8 961.5,3555.1 963.2,3542.1 964.9,3529.5 966.6,3518.4 968.3,3509.6 970.0,3504.1 971.7,3502.8 973.3,3505.7 975.0,3512.7 976.7,3522.9 978.3,3535.6 980.0,3549.7 981.7,3564.4 983.4,3578.9 985.0,3592.7 986.7,3605.6 988.4,3617.5 990.1,3628.2 991.7,3637.9 993.4,3646.5 995.1,3654.2 996.8,3661.1 998.4,3667.2 1000.1,3672.7 1001.8,3677.6 1003.5,3681.9 1005.1,3685.9 1006.8,3689.4 1008.5,3692.6 1010.2,3695.5 1011.8,3698.1 1013.5,3700.4 1015.2,3702.6 1016.9,3704.5 1018.5,3706.3 1020.2,3708.0 1021.9,3709.5 1023.6,3710.9 1025.2,3712.2 1026.9,3713.4 1028.6,3714.5 1030.3,3715.5 1031.9,3716.4 1033.6,3717.3 1035.3,3718.1 1037.0,3718.9 1038.6,3719.6 1040.3,3720.3 1042.0,3720.9 1043.7,3721.5 1045.3,3722.0 1047.0,3722.5 1048.7,3723.0 1050.4,3723.4 1052.0,3723.9 1053.7,3724.3 1055.4,3724.6 1057.1,3725.0 1058.7,3725.3 1060.4,3725.6 1062.1,3725.9 1063.8,3726.2 1065.4,3726.4 1067.1,3726.7 1068.8,3726.9 1070.5,3727.1 1072.1,3727.3 1073.8,3727.5 1075.5,3727.7 1077.2,3727.8 1078.8,3728.0 1080.5,3728.1 1082.2,3728.2 1083.8,3728.3 1085.5,3728.4 1087.2,3728.5 1088.9,3728.6 1090.5,3728.7 1092.2,3728.8 1093.9,3728.8 1095.6,3728.9 1097.2,3728.9 1098.9,3728.9 1100.6,3728.9 1102.3,3729.0 1103.9,3729.0 1105.6,3729.0 1107.3,3728.9 1109.0,3728.9 1110.6,3728.9 1112.3,3728.9 1114.0,3728.8 1115.7,3728.7 1117.3,3728.7 1119.0,3728.6 1120.7,3728.5 1122.4,3728.4 1124.0,3728.3 1125.7,3728.2 1127.4,3728.1 1129.1,3727.9 1130.7,3727.8 1132.4,3727.6 1134.1,3727.4 1135.8,3727.3 1137.4,3727.1 1139.1,3726.8 1140.8,3726.6 1142.5,3726.4 1144.1,3726.1 1145.8,3725.8 1147.5,3725.5 1149.2,3725.2 1150.8,3724.9 1152.5,3724.5 1154.2,3724.2 1155.9,3723.8 1157.5,3723.3 1159.2,3722.9 1160.9,3722.4 1162.6,3721.9 1164.2,3721.3 1165.9,3720.8 1167.6,3720.1 1169.3,3719.5 1170.9,3718.8 1172.6,3718.0 1174.3,3717.2 1176.0,3716.4 1177.6,3715.5 1179.3,3714.5 1181.0,3713.4 1182.7,3712.3 1184.3,3711.1 1186.0,3709.8 1187.7,3708.4 1189.4,3706.9 1191.0,3705.2 1192.7,3703.5 1194.4,3701.5 1196.0,3699.5 1197.7,3697.2 1199.4,3694.7 1201.1,3692.0 1202.7,3689.1 1204.4,3685.9 1206.1,3682.3 1207.8,3678.4 1209.4,3674.1 1211.1,3669.3 1212.8,3664.0 1214.5,3658.1 1216.1,3651.6 1217.8,3644.3 1219.5,3636.1 1221.2,3626.9 1222.8,3616.6 1224.5,3605.0 1226.2,3591.9 1227.9,3577.2 1229.5,3560.7 1231.2,3542.2 1232.9,3521.5 1234.6,3498.7 1236.2,3473.9 1237.9,3447.2 1239.6,3419.3 1241.3,3391.1 1242.9,3364.1 1244.6,3340.0 1246.3,3320.8 1248.0,3308.3 1249.6,3304.0 1251.3,3308.3 1253.0,3320.7 1254.7,3339.9 1256.3,3363.9 1258.0,3390.9 1259.7,3419.0 1261.3,3446.9 1263.0,3473.5 1264.7,3498.4 1266.4,3521.2 1268.0,3541.8 1269.7,3560.4 1271.4,3576.9 1273.0,3591.6 1274.7,3604.7 1276.4,3616.3 1278.1,3626.6 1279.7,3635.8 1281.4,3644.0 1283.1,3651.4 1284.8,3657.9 1286.4,3663.8 1288.1,3669.1 1289.8,3673.9 1291.4,3678.3 1293.1,3682.2 1294.8,3685.7 1296.5,3689.0 1298.1,3691.9 1299.8,3694.6 1301.5,3697.1 1303.1,3699.4 1304.8,3701.5 1306.5,3703.4 1308.2,3705.2 1309.8,3706.8 1311.5,3708.3 1313.2,3709.7 1314.8,3711.0 1316.5,3712.2 1318.2,3713.4 1319.9,3714.4 1321.5,3715.4 1323.2,3716.3 1324.9,3717.2 1326.6,3718.0 1328.2,3718.8 1329.9,3719.5 1331.6,3720.1 1333.2,3720.7 1334.9,3721.3 1336.6,3721.9 1338.3,3722.4 1339.9,3722.9 1341.6,3723.3 1343.3,3723.8 1344.9,3724.2 1346.6,3724.5 1348.3,3724.9 1350.0,3725.2 1351.6,3725.5 1353.3,3725.8 1355.0,3726.1 1356.7,3726.4 1358.3,3726.6 1360.0,3726.9 1361.7,3727.1 1363.3,3727.3 1365.0,3727.5 1366.7,3727.6 1368.4,3727.8 1370.0,3728.0 1371.7,3728.1 1373.4,3728.2 1375.0,3728.4 1376.7,3728.5 1378.4,3728.6 1380.1,3728.6 1381.7,3728.7 1383.4,3728.8 1385.1,3728.9 1386.7,3728.9 1388.4,3729.0 1390.1,3729.0 1391.8,3729.0 1393.4,3729.0 1395.1,3729.0 1396.8,3729.0 1398.5,3729.0 1400.1,3729.0 1401.8,3729.0 1403.5,3729.0 1405.1,3728.9 1406.8,3728.9 1408.5,3728.8 1410.2,3728.7 1411.8,3728.7 1413.5,3728.6 1415.2,3728.5 1416.8,3728.4 1418.5,3728.2 1420.2,3728.1 1421.9,3728.0 1423.5,3727.8 1425.2,3727.7 1426.9,3727.5 1428.6,3727.3 1430.2,3727.1 1431.9,3726.9 1433.6,3726.7 1435.2,3726.4 1436.9,3726.2 1438.6,3725.9 1440.3,3725.6 1441.9,3725.3 1443.6,3725.0 1445.3,3724.6 1446.9,3724.2 1448.6,3723.8 1450.3,3723.4 1452.0,3723.0 1453.6,3722.5 1455.3,3722.0 1457.0,3721.4 1458.6,3720.8 1460.3,3720.2 1462.0,3719.5 1463.7,3718.8 1465.3,3718.0 1467.0,3717.2 1468.7,3716.3 1470.4,3715.4 1472.0,3714.4 1473.7,3713.3 1475.4,3712.1 1477.0,3710.8 1478.7,3709.4 1480.4,3707.9 1482.1,3706.2 1483.7,3704.4 1485.4,3702.4 1487.1,3700.3 1488.7,3697.9 1490.4,3695.3 1492.1,3692.4 1493.8,3689.2 1495.4,3685.7 1497.1,3681.7 1498.8,3677.3 1500.5,3672.4 1502.1,3666.9 1503.8,3660.8 1505.5,3653.9 1507.1,3646.2 1508.8,3637.5 1510.5,3627.9 1512.2,3617.1 1513.8,3605.3 1515.5,3592.3 1517.2,3578.5 1518.8,3564.0 1520.5,3549.4 1522.2,3535.3 1523.9,3522.6 1525.5,3512.3 1527.2,3505.4 1528.9,3502.4 1530.5,3503.7 1532.2,3509.0 1533.9,3517.6 1535.6,3528.5 1537.2,3540.8 1538.9,3553.6 1540.6,3566.2 1542.2,3578.1 1543.9,3588.9 1545.6,3598.6 1547.2,3607.1 1548.9,3614.3 1550.6,3620.3 1552.2,3625.2 1553.9,3629.0 1555.6,3631.9 1557.3,3633.7 1558.9,3634.6 1560.6,3634.6 1562.3,3633.7 1563.9,3631.9 1565.6,3629.1 1567.3,3625.3 1568.9,3620.5 1570.6,3614.6 1572.3,3607.5 1574.0,3599.1 1575.6,3589.6 1577.3,3578.8 1579.0,3566.9 1580.6,3554.1 1582.3,3540.8 1584.0,3527.5 1585.6,3515.2 1587.3,3504.7 1589.0,3497.1 1590.6,3493.1 1592.3,3493.2 1594.0,3497.4 1595.6,3505.3 1597.3,3515.9 1598.9,3528.4 1600.6,3541.9 1602.2,3555.4 1603.9,3568.6 1605.6,3580.9 1607.2,3592.2 1608.9,3602.3 1610.5,3611.2 1612.2,3619.1 1613.8,3625.8 1615.5,3631.6 1617.1,3636.5 1618.8,3640.5 1620.5,3643.8 1622.1,3646.3 1623.8,3648.2 1625.4,3649.4 1627.1,3649.9 1628.7,3649.9 1630.4,3649.3 1632.0,3648.0 1633.7,3646.1 1635.4,3643.5 1637.0,3640.2 1638.7,3636.1 1640.3,3631.2 1642.0,3625.3 1643.6,3618.5 1645.3,3610.7 1646.9,3601.7 1648.6,3591.5 1650.3,3580.2 1651.9,3567.9 1653.6,3554.7 1655.2,3541.0 1656.9,3527.4 1658.5,3514.8 1660.2,3503.9 1661.8,3495.7 1663.5,3491.2 1665.2,3490.6 1666.8,3494.3 1668.5,3501.8 1670.2,3512.2 1671.9,3524.6 1673.6,3537.9 1675.3,3551.4 1677.0,3564.3 1678.7,3576.3 1680.3,3587.2 1682.0,3596.9 1683.7,3605.4 1685.4,3612.6 1687.1,3618.7 1688.8,3623.6 1690.5,3627.6 1692.2,3630.7 1693.8,3632.8 1695.5,3634.1 1697.2,3634.6 1698.9,3634.2 1700.6,3633.1 1702.3,3631.1 1704.0,3628.2 1705.7,3624.4 1707.3,3619.6 1709.0,3613.7 1710.7,3606.8 1712.4,3598.6 1714.1,3589.3 1715.8,3578.6 1717.5,3566.7 1719.2,3553.8 1720.8,3540.1 1722.5,3526.1 1724.2,3512.5 1725.9,3500.2 1727.6,3490.2 1729.3,3483.6 1731.0,3480.9 1732.6,3482.4 1734.3,3487.7 1735.9,3496.2 1737.6,3506.9 1739.2,3518.9 1740.9,3531.4 1742.5,3543.6 1744.2,3555.0 1745.8,3565.4 1747.5,3574.4 1749.1,3582.2 1750.8,3588.5 1752.4,3593.6 1754.1,3597.3 1755.8,3599.8 1757.4,3601.0 1759.1,3601.0 1760.7,3599.8 1762.4,3597.4 1764.0,3593.7 1765.7,3588.6 1767.3,3582.3 1769.0,3574.6 1770.6,3565.4 1772.3,3554.9 1773.9,3543.1 1775.6,3530.2 1777.2,3516.5 1778.9,3502.7 1780.5,3489.4 1782.2,3477.5 1783.8,3468.0 1785.5,3461.7 1787.1,3459.2 1788.8,3460.4 1790.4,3464.9 1792.1,3472.0 1793.7,3480.8 1795.4,3490.2 1797.0,3499.3 1798.7,3507.4 1800.3,3514.2 1801.9,3519.1 1803.6,3522.1 1805.2,3523.0 1806.9,3521.8 1808.5,3518.5 1810.2,3513.5 1811.8,3506.8 1813.5,3499.0 1815.1,3490.7 1816.8,3482.7 1818.4,3475.9 1820.0,3471.4 1821.7,3470.0 1823.3,3472.4 1825.0,3478.7 1826.7,3488.7 1828.4,3501.5 1830.0,3516.3 1831.7,3532.0 1833.4,3547.9 1835.1,3563.4 1836.8,3577.9 1838.4,3591.4 1840.1,3603.7 1841.8,3614.8 1843.5,3624.8 1845.1,3633.7 1846.8,3641.7 1848.5,3648.7 1850.2,3655.1 1851.8,3660.7 1853.5,3665.7 1855.2,3670.2 1856.9,3674.3 1858.5,3677.9 1860.2,3681.1 1861.9,3684.0 1863.6,3686.7 1865.3,3689.0 1866.9,3691.2 1868.6,3693.1 1870.3,3694.8 1872.0,3696.4 1873.6,3697.8 1875.3,3699.1 1877.0,3700.2 1878.7,3701.3 1880.3,3702.2 1882.0,3703.0 1883.7,3703.7 1885.4,3704.3 1887.1,3704.8 1888.7,3705.3 1890.4,3705.6 1892.1,3705.9 1893.8,3706.1 1895.4,3706.3 1897.1,3706.3 1898.8,3706.3 1900.5,3706.2 1902.1,3706.1 1903.8,3705.8 1905.5,3705.5 1907.2,3705.1 1908.9,3704.6 1910.5,3704.1 1912.2,3703.4 1913.9,3702.7 1915.6,3701.8 1917.2,3700.8 1918.9,3699.8 1920.6,3698.6 1922.3,3697.2 1923.9,3695.7 1925.6,3694.1 1927.3,3692.2 1929.0,3690.2 1930.6,3688.0 1932.3,3685.5 1934.0,3682.7 1935.7,3679.7 1937.4,3676.3 1939.0,3672.6 1940.7,3668.4 1942.4,3663.8 1944.1,3658.6 1945.7,3652.8 1947.4,3646.3 1949.1,3639.1 1950.8,3630.9 1952.4,3621.8 1954.1,3611.4 1955.8,3599.8 1957.5,3586.7 1959.2,3571.9 1960.8,3555.2 1962.5,3536.6 1964.2,3515.8 1965.9,3492.8 1967.5,3467.7 1969.2,3441.0 1970.9,3413.0 1972.6,3385.0 1974.2,3358.4 1975.9,3334.9 1977.6,3316.6 1979.3,3305.3 1981.0,3302.4 1982.6,3308.0 1984.3,3321.5 1986.0,3341.6 1987.6,3366.3 1989.3,3393.6 1991.0,3421.8 1992.7,3449.7 1994.3,3476.2 1996.0,3500.9 1997.7,3523.4 1999.3,3543.8 2001.0,3562.1 2002.7,3578.5 2004.4,3593.1 2006.0,3606.0 2007.7,3617.5 2009.4,3627.8 2011.0,3636.9 2012.7,3645.1 2014.4,3652.4 2016.1,3658.9 2017.7,3664.8 2019.4,3670.1 2021.1,3674.9 2022.7,3679.2 2024.4,3683.2 2026.1,3686.8 2027.8,3690.0 2029.4,3693.0 2031.1,3695.8 2032.8,3698.3 2034.4,3700.6 2036.1,3702.7 2037.8,3704.7 2039.5,3706.5 2041.1,3708.2 2042.8,3709.8 2044.5,3711.3 2046.1,3712.7 2047.8,3713.9 2049.5,3715.1 2051.2,3716.2 2052.8,3717.3 2054.5,3718.3 2056.2,3719.2 2057.8,3720.1 2059.5,3720.9 2061.2,3721.7 2062.9,3722.4 2064.5,3723.1 2066.2,3723.8 2067.9,3724.4 2069.5,3725.0 2071.2,3725.5 2072.9,3726.1 2074.6,3726.6 2076.2,3727.0 2077.9,3727.5 2079.6,3727.9 2081.2,3728.4 2082.9,3728.8 2084.6,3729.1 2086.3,3729.5 2087.9,3729.9 2089.6,3730.2 2091.3,3730.5 2092.9,3730.8 2094.6,3731.1 2096.3,3731.4 2098.0,3731.7 2099.6,3732.0 2101.3,3732.2 2103.0,3732.4 2104.6,3732.7 2106.3,3732.9 2108.0,3733.1 2109.7,3733.3 2111.3,3733.5 2113.0,3733.7 2114.7,3733.9 2116.3,3734.1 2118.0,3734.3 2119.7,3734.5 2121.4,3734.6 2123.0,3734.8 2124.7,3734.9 2126.4,3735.1 2128.1,3735.2 2129.7,3735.4 2131.4,3735.5 2133.1,3735.7 2134.7,3735.8 2136.4,3735.9 2138.1,3736.0 2139.8,3736.2 2141.4,3736.3 2143.1,3736.4 2144.8,3736.5 2146.4,3736.6 2148.1,3736.7 2149.8,3736.8 2151.5,3736.9 2153.1,3737.0 2154.8,3737.1 2156.5,3737.2 2158.1,3737.3 2159.8,3737.4 2161.5,3737.5 2163.2,3737.5 2164.8,3737.6 2166.5,3737.7 2168.2,3737.8 2169.8,3737.8 2171.5,3737.9 2173.2,3738.0 2174.9,3738.1 2176.5,3738.1 2178.2,3738.2 2179.9,3738.3 2181.5,3738.3 2183.2,3738.4 2184.9,3738.5 2186.6,3738.5 2188.2,3738.6 2189.9,3738.6 2191.6,3738.7 2193.2,3738.7 2194.9,3738.8 2196.6,3738.9 2198.3,3738.9 2199.9,3739.0 2201.6,3739.0 2203.3,3739.1 2204.9,3739.1 2206.6,3739.1 2208.3,3739.2 2210.0,3739.2 2211.6,3739.3 2213.3,3739.3 2215.0,3739.4 2216.6,3739.4 2218.3,3739.5 2220.0,3739.5 2221.7,3739.5 2223.3,3739.6 2225.0,3739.6 2226.7,3739.7 2228.3,3739.7 2230.0,3739.7 2231.7,3739.8 2233.4,3739.8 2235.0,3739.8 2236.7,3739.9 2238.4,3739.9 2240.0,3739.9 2241.7,3740.0 2243.4,3740.0 2245.1,3740.0 2246.7,3740.1 2248.4,3740.1 2250.1,3740.1 2251.3,3740.1" fill="none" stroke="#000" stroke-width="9.4" stroke-linejoin="miter" stroke-miterlimit="10"/>
</g>
<path d="M214.4 3226.2H2276.6V3745.6H214.4ZM220.9 3232.3V3740.4H2271.7V3232.3Z" fill="#000" fill-rule="evenodd"/>
<path d="M217.7 3743.4h52.5M2274.1 3743.4h-52.5M217.7 3620.6h52.5M2274.1 3620.6h-52.5M217.7 3497.8h52.5M2274.1 3497.8h-52.5M217.7 3375.0h52.5M2274.1 3375.0h-52.5M217.7 3252.2h52.5M2274.1 3252.2h-52.5M217.7 3682.0h27M2274.1 3682.0h-27M217.7 3559.2h27M2274.1 3559.2h-27M217.7 3436.4h27M2274.1 3436.4h-27M217.7 3313.6h27M2274.1 3313.6h-27" stroke="#000" stroke-width="5.2" fill="none"/>
<path d="M226.2 3743.4v-51M560.5 3743.4v-51M894.8 3743.4v-51M1229.2 3743.4v-51M1563.5 3743.4v-51M1897.8 3743.4v-51M2232.1 3743.4v-51M393.4 3743.4v-25M727.7 3743.4v-25M1062.0 3743.4v-25M1396.3 3743.4v-25M1730.6 3743.4v-25M2065.0 3743.4v-25" stroke="#000" stroke-width="4.4" fill="none"/>
<text x="194" y="3767.9" font-size="71" text-anchor="end">0</text>
<text x="194" y="3645.1" font-size="71" text-anchor="end">0.5</text>
<text x="194" y="3522.3" font-size="71" text-anchor="end">1</text>
<text x="194" y="3399.5" font-size="71" text-anchor="end">1.5</text>
<text x="194" y="3276.7" font-size="71" text-anchor="end">2</text>
<text x="227.2" y="3818.9" font-size="71" text-anchor="middle">-4.8</text>
<text x="561.5" y="3818.9" font-size="71" text-anchor="middle">-4.4</text>
<text x="895.8" y="3818.9" font-size="71" text-anchor="middle">-4</text>
<text x="1230.2" y="3818.9" font-size="71" text-anchor="middle">-3.6</text>
<text x="1564.5" y="3818.9" font-size="71" text-anchor="middle">-3.2</text>
<text x="1898.8" y="3818.9" font-size="71" text-anchor="middle">-2.8</text>
<text x="2233.1" y="3818.9" font-size="71" text-anchor="middle">-2.4</text>
<text transform="translate(79.5 3484.4) rotate(-90)" font-size="91" text-anchor="middle">DOS</text>
<text x="911.5" y="3330.7" font-size="91.5" font-weight="bold">C8</text>
<text x="1144" y="3904.4" font-size="88" xml:space="preserve">E <tspan font-size="72">(eV)</tspan></text>
</svg></body></html>
